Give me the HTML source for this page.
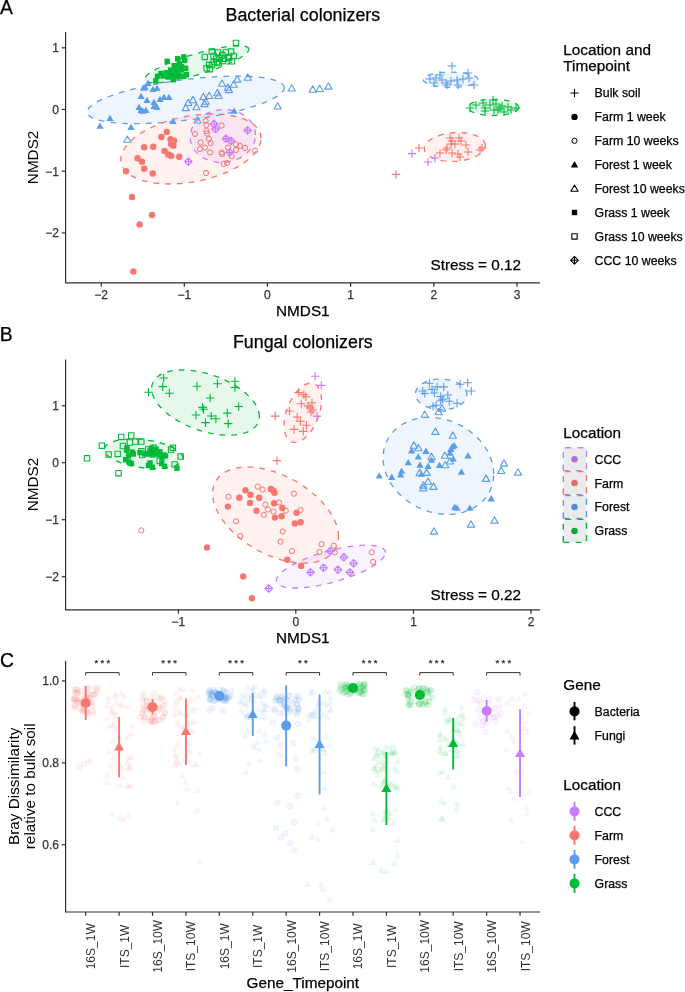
<!DOCTYPE html>
<html><head><meta charset="utf-8"><style>
html,body{margin:0;padding:0;background:#fff;}
svg{display:block;will-change:transform;font-family:"Liberation Sans",sans-serif;}
</style></head><body>
<svg width="685" height="992" viewBox="0 0 685 992">
<rect width="685" height="992" fill="#fff"/>
<path d="M284.43 87.8 L283.68 85.38 L281.45 83.18 L277.77 81.23 L272.69 79.56 L266.3 78.2 L258.69 77.18 L249.97 76.49 L240.28 76.16 L229.76 76.19 L218.58 76.58 L206.9 77.33 L194.9 78.41 L182.76 79.82 L170.67 81.54 L158.81 83.53 L147.36 85.78 L136.49 88.23 L126.36 90.86 L117.14 93.64 L108.96 96.5 L101.94 99.42 L96.2 102.34 L91.81 105.23 L88.85 108.03 L87.36 110.72 L87.36 113.24 L88.85 115.55 L91.81 117.63 L96.2 119.44 L101.94 120.96 L108.96 122.15 L117.14 123.01 L126.36 123.52 L136.49 123.67 L147.36 123.46 L158.81 122.89 L170.67 121.97 L182.76 120.72 L194.9 119.16 L206.9 117.3 L218.58 115.17 L229.76 112.82 L240.28 110.27 L249.97 107.56 L258.69 104.74 L266.3 101.85 L272.69 98.92 L277.77 96.01 L281.45 93.16 L283.68 90.41 L284.43 87.8Z" fill="#5B9DEA" fill-opacity="0.1"/>
<path d="M261.07 138.36 L260.54 134.34 L258.95 130.54 L256.33 127.02 L252.72 123.83 L248.18 121.03 L242.76 118.65 L236.56 116.73 L229.66 115.29 L222.18 114.37 L214.22 113.98 L205.91 114.11 L197.37 114.78 L188.74 115.96 L180.14 117.65 L171.7 119.81 L163.55 122.41 L155.81 125.41 L148.61 128.77 L142.05 132.44 L136.23 136.36 L131.24 140.47 L127.15 144.72 L124.03 149.02 L121.92 153.33 L120.86 157.57 L120.86 161.68 L121.92 165.59 L124.03 169.26 L127.15 172.62 L131.24 175.62 L136.23 178.22 L142.05 180.37 L148.61 182.05 L155.81 183.23 L163.55 183.89 L171.7 184.02 L180.14 183.62 L188.74 182.69 L197.37 181.26 L205.91 179.33 L214.22 176.95 L222.18 174.14 L229.66 170.95 L236.56 167.43 L242.76 163.62 L248.18 159.6 L252.72 155.42 L256.33 151.14 L258.95 146.82 L260.54 142.54 L261.07 138.36Z" fill="#F8766D" fill-opacity="0.1"/>
<path d="M248.99 49.23 L248.59 48.02 L247.41 47.04 L245.46 46.34 L242.77 45.9 L239.38 45.74 L235.34 45.86 L230.72 46.27 L225.58 46.94 L220.01 47.88 L214.08 49.07 L207.89 50.49 L201.52 52.12 L195.09 53.93 L188.68 55.9 L182.39 58 L176.32 60.19 L170.56 62.45 L165.19 64.73 L160.3 67.01 L155.96 69.24 L152.24 71.4 L149.2 73.46 L146.87 75.37 L145.3 77.12 L144.51 78.67 L144.51 80 L145.3 81.1 L146.87 81.94 L149.2 82.52 L152.24 82.82 L155.96 82.83 L160.3 82.57 L165.19 82.03 L170.56 81.22 L176.32 80.16 L182.39 78.85 L188.68 77.32 L195.09 75.6 L201.52 73.7 L207.89 71.67 L214.08 69.52 L220.01 67.29 L225.58 65.01 L230.72 62.73 L235.34 60.47 L239.38 58.27 L242.77 56.15 L245.46 54.17 L247.41 52.33 L248.59 50.68 L248.99 49.23Z" fill="#00BA38" fill-opacity="0.1"/>
<path d="M255.45 134.93 L255.2 131.69 L254.46 128.51 L253.24 125.45 L251.56 122.55 L249.45 119.85 L246.93 117.4 L244.04 115.23 L240.83 113.37 L237.35 111.85 L233.65 110.71 L229.78 109.94 L225.81 109.57 L221.79 109.6 L217.79 110.04 L213.87 110.86 L210.07 112.07 L206.48 113.64 L203.12 115.54 L200.07 117.76 L197.36 120.26 L195.04 122.99 L193.14 125.92 L191.69 129 L190.71 132.19 L190.21 135.44 L190.21 138.69 L190.71 141.91 L191.69 145.03 L193.14 148.02 L195.04 150.83 L197.36 153.41 L200.07 155.73 L203.12 157.74 L206.48 159.43 L210.07 160.77 L213.87 161.72 L217.79 162.29 L221.79 162.46 L225.81 162.23 L229.78 161.6 L233.65 160.58 L237.35 159.19 L240.83 157.45 L244.04 155.38 L246.93 153.02 L249.45 150.4 L251.56 147.57 L253.24 144.56 L254.46 141.41 L255.2 138.19 L255.45 134.93Z" fill="#C77CFF" fill-opacity="0.1"/>
<path d="M478 79.7 L477.79 78.77 L477.18 77.85 L476.16 76.95 L474.75 76.1 L472.98 75.31 L470.87 74.58 L468.46 73.93 L465.78 73.36 L462.87 72.9 L459.77 72.53 L456.54 72.28 L453.22 72.13 L449.86 72.1 L446.51 72.19 L443.23 72.39 L440.06 72.7 L437.05 73.12 L434.25 73.64 L431.7 74.24 L429.43 74.94 L427.49 75.7 L425.9 76.52 L424.68 77.4 L423.86 78.3 L423.45 79.23 L423.45 80.17 L423.86 81.1 L424.68 82 L425.9 82.88 L427.49 83.7 L429.43 84.46 L431.7 85.16 L434.25 85.76 L437.05 86.28 L440.06 86.7 L443.23 87.01 L446.51 87.21 L449.86 87.3 L453.22 87.27 L456.54 87.12 L459.77 86.87 L462.87 86.5 L465.78 86.04 L468.46 85.47 L470.87 84.82 L472.98 84.09 L474.75 83.3 L476.16 82.45 L477.18 81.55 L477.79 80.63 L478 79.7Z" fill="#5B9DEA" fill-opacity="0.1"/>
<path d="M518.8 107.4 L518.61 106.4 L518.03 105.42 L517.08 104.47 L515.78 103.57 L514.13 102.72 L512.17 101.94 L509.93 101.25 L507.43 100.65 L504.72 100.15 L501.84 99.76 L498.83 99.49 L495.74 99.33 L492.62 99.3 L489.5 99.4 L486.45 99.61 L483.5 99.94 L480.7 100.39 L478.09 100.94 L475.72 101.58 L473.61 102.32 L471.8 103.14 L470.32 104.01 L469.2 104.94 L468.43 105.91 L468.05 106.9 L468.05 107.9 L468.43 108.89 L469.2 109.86 L470.32 110.79 L471.8 111.66 L473.61 112.48 L475.72 113.22 L478.09 113.86 L480.7 114.41 L483.5 114.86 L486.45 115.19 L489.5 115.4 L492.62 115.5 L495.74 115.47 L498.83 115.31 L501.84 115.04 L504.72 114.65 L507.43 114.15 L509.93 113.55 L512.17 112.86 L514.13 112.08 L515.78 111.23 L517.08 110.33 L518.03 109.38 L518.61 108.4 L518.8 107.4Z" fill="#00BA38" fill-opacity="0.1"/>
<path d="M485.35 145.46 L485.12 143.71 L484.43 142.01 L483.29 140.39 L481.72 138.86 L479.73 137.47 L477.38 136.21 L474.68 135.12 L471.67 134.21 L468.42 133.49 L464.95 132.98 L461.34 132.68 L457.62 132.6 L453.86 132.73 L450.11 133.08 L446.44 133.65 L442.89 134.41 L439.52 135.37 L436.39 136.5 L433.53 137.79 L431 139.22 L428.83 140.77 L427.05 142.41 L425.69 144.13 L424.77 145.88 L424.31 147.66 L424.31 149.42 L424.77 151.15 L425.69 152.81 L427.05 154.39 L428.83 155.85 L431 157.18 L433.53 158.36 L436.39 159.36 L439.52 160.18 L442.89 160.79 L446.44 161.2 L450.11 161.39 L453.86 161.36 L457.62 161.12 L461.34 160.66 L464.95 160 L468.42 159.13 L471.67 158.09 L474.68 156.87 L477.38 155.51 L479.73 154.02 L481.72 152.42 L483.29 150.74 L484.43 149 L485.12 147.23 L485.35 145.46Z" fill="#F8766D" fill-opacity="0.1"/>
<path d="M284.43 87.8 L283.68 85.38 L281.45 83.18 L277.77 81.23 L272.69 79.56 L266.3 78.2 L258.69 77.18 L249.97 76.49 L240.28 76.16 L229.76 76.19 L218.58 76.58 L206.9 77.33 L194.9 78.41 L182.76 79.82 L170.67 81.54 L158.81 83.53 L147.36 85.78 L136.49 88.23 L126.36 90.86 L117.14 93.64 L108.96 96.5 L101.94 99.42 L96.2 102.34 L91.81 105.23 L88.85 108.03 L87.36 110.72 L87.36 113.24 L88.85 115.55 L91.81 117.63 L96.2 119.44 L101.94 120.96 L108.96 122.15 L117.14 123.01 L126.36 123.52 L136.49 123.67 L147.36 123.46 L158.81 122.89 L170.67 121.97 L182.76 120.72 L194.9 119.16 L206.9 117.3 L218.58 115.17 L229.76 112.82 L240.28 110.27 L249.97 107.56 L258.69 104.74 L266.3 101.85 L272.69 98.92 L277.77 96.01 L281.45 93.16 L283.68 90.41 L284.43 87.8" fill="none" stroke="#5B9DEA" stroke-width="1.3" stroke-dasharray="5.7 6.1" stroke-linejoin="round"/>
<path d="M261.07 138.36 L260.54 134.34 L258.95 130.54 L256.33 127.02 L252.72 123.83 L248.18 121.03 L242.76 118.65 L236.56 116.73 L229.66 115.29 L222.18 114.37 L214.22 113.98 L205.91 114.11 L197.37 114.78 L188.74 115.96 L180.14 117.65 L171.7 119.81 L163.55 122.41 L155.81 125.41 L148.61 128.77 L142.05 132.44 L136.23 136.36 L131.24 140.47 L127.15 144.72 L124.03 149.02 L121.92 153.33 L120.86 157.57 L120.86 161.68 L121.92 165.59 L124.03 169.26 L127.15 172.62 L131.24 175.62 L136.23 178.22 L142.05 180.37 L148.61 182.05 L155.81 183.23 L163.55 183.89 L171.7 184.02 L180.14 183.62 L188.74 182.69 L197.37 181.26 L205.91 179.33 L214.22 176.95 L222.18 174.14 L229.66 170.95 L236.56 167.43 L242.76 163.62 L248.18 159.6 L252.72 155.42 L256.33 151.14 L258.95 146.82 L260.54 142.54 L261.07 138.36" fill="none" stroke="#F8766D" stroke-width="1.3" stroke-dasharray="5.7 6.1" stroke-linejoin="round"/>
<path d="M248.99 49.23 L248.59 48.02 L247.41 47.04 L245.46 46.34 L242.77 45.9 L239.38 45.74 L235.34 45.86 L230.72 46.27 L225.58 46.94 L220.01 47.88 L214.08 49.07 L207.89 50.49 L201.52 52.12 L195.09 53.93 L188.68 55.9 L182.39 58 L176.32 60.19 L170.56 62.45 L165.19 64.73 L160.3 67.01 L155.96 69.24 L152.24 71.4 L149.2 73.46 L146.87 75.37 L145.3 77.12 L144.51 78.67 L144.51 80 L145.3 81.1 L146.87 81.94 L149.2 82.52 L152.24 82.82 L155.96 82.83 L160.3 82.57 L165.19 82.03 L170.56 81.22 L176.32 80.16 L182.39 78.85 L188.68 77.32 L195.09 75.6 L201.52 73.7 L207.89 71.67 L214.08 69.52 L220.01 67.29 L225.58 65.01 L230.72 62.73 L235.34 60.47 L239.38 58.27 L242.77 56.15 L245.46 54.17 L247.41 52.33 L248.59 50.68 L248.99 49.23" fill="none" stroke="#00BA38" stroke-width="1.3" stroke-dasharray="5.7 6.1" stroke-linejoin="round"/>
<path d="M255.45 134.93 L255.2 131.69 L254.46 128.51 L253.24 125.45 L251.56 122.55 L249.45 119.85 L246.93 117.4 L244.04 115.23 L240.83 113.37 L237.35 111.85 L233.65 110.71 L229.78 109.94 L225.81 109.57 L221.79 109.6 L217.79 110.04 L213.87 110.86 L210.07 112.07 L206.48 113.64 L203.12 115.54 L200.07 117.76 L197.36 120.26 L195.04 122.99 L193.14 125.92 L191.69 129 L190.71 132.19 L190.21 135.44 L190.21 138.69 L190.71 141.91 L191.69 145.03 L193.14 148.02 L195.04 150.83 L197.36 153.41 L200.07 155.73 L203.12 157.74 L206.48 159.43 L210.07 160.77 L213.87 161.72 L217.79 162.29 L221.79 162.46 L225.81 162.23 L229.78 161.6 L233.65 160.58 L237.35 159.19 L240.83 157.45 L244.04 155.38 L246.93 153.02 L249.45 150.4 L251.56 147.57 L253.24 144.56 L254.46 141.41 L255.2 138.19 L255.45 134.93" fill="none" stroke="#C77CFF" stroke-width="1.3" stroke-dasharray="5.7 6.1" stroke-linejoin="round"/>
<path d="M478 79.7 L477.79 78.77 L477.18 77.85 L476.16 76.95 L474.75 76.1 L472.98 75.31 L470.87 74.58 L468.46 73.93 L465.78 73.36 L462.87 72.9 L459.77 72.53 L456.54 72.28 L453.22 72.13 L449.86 72.1 L446.51 72.19 L443.23 72.39 L440.06 72.7 L437.05 73.12 L434.25 73.64 L431.7 74.24 L429.43 74.94 L427.49 75.7 L425.9 76.52 L424.68 77.4 L423.86 78.3 L423.45 79.23 L423.45 80.17 L423.86 81.1 L424.68 82 L425.9 82.88 L427.49 83.7 L429.43 84.46 L431.7 85.16 L434.25 85.76 L437.05 86.28 L440.06 86.7 L443.23 87.01 L446.51 87.21 L449.86 87.3 L453.22 87.27 L456.54 87.12 L459.77 86.87 L462.87 86.5 L465.78 86.04 L468.46 85.47 L470.87 84.82 L472.98 84.09 L474.75 83.3 L476.16 82.45 L477.18 81.55 L477.79 80.63 L478 79.7" fill="none" stroke="#5B9DEA" stroke-width="1.3" stroke-dasharray="5.7 6.1" stroke-linejoin="round"/>
<path d="M518.8 107.4 L518.61 106.4 L518.03 105.42 L517.08 104.47 L515.78 103.57 L514.13 102.72 L512.17 101.94 L509.93 101.25 L507.43 100.65 L504.72 100.15 L501.84 99.76 L498.83 99.49 L495.74 99.33 L492.62 99.3 L489.5 99.4 L486.45 99.61 L483.5 99.94 L480.7 100.39 L478.09 100.94 L475.72 101.58 L473.61 102.32 L471.8 103.14 L470.32 104.01 L469.2 104.94 L468.43 105.91 L468.05 106.9 L468.05 107.9 L468.43 108.89 L469.2 109.86 L470.32 110.79 L471.8 111.66 L473.61 112.48 L475.72 113.22 L478.09 113.86 L480.7 114.41 L483.5 114.86 L486.45 115.19 L489.5 115.4 L492.62 115.5 L495.74 115.47 L498.83 115.31 L501.84 115.04 L504.72 114.65 L507.43 114.15 L509.93 113.55 L512.17 112.86 L514.13 112.08 L515.78 111.23 L517.08 110.33 L518.03 109.38 L518.61 108.4 L518.8 107.4" fill="none" stroke="#00BA38" stroke-width="1.3" stroke-dasharray="5.7 6.1" stroke-linejoin="round"/>
<path d="M485.35 145.46 L485.12 143.71 L484.43 142.01 L483.29 140.39 L481.72 138.86 L479.73 137.47 L477.38 136.21 L474.68 135.12 L471.67 134.21 L468.42 133.49 L464.95 132.98 L461.34 132.68 L457.62 132.6 L453.86 132.73 L450.11 133.08 L446.44 133.65 L442.89 134.41 L439.52 135.37 L436.39 136.5 L433.53 137.79 L431 139.22 L428.83 140.77 L427.05 142.41 L425.69 144.13 L424.77 145.88 L424.31 147.66 L424.31 149.42 L424.77 151.15 L425.69 152.81 L427.05 154.39 L428.83 155.85 L431 157.18 L433.53 158.36 L436.39 159.36 L439.52 160.18 L442.89 160.79 L446.44 161.2 L450.11 161.39 L453.86 161.36 L457.62 161.12 L461.34 160.66 L464.95 160 L468.42 159.13 L471.67 158.09 L474.68 156.87 L477.38 155.51 L479.73 154.02 L481.72 152.42 L483.29 150.74 L484.43 149 L485.12 147.23 L485.35 145.46" fill="none" stroke="#F8766D" stroke-width="1.3" stroke-dasharray="5.7 6.1" stroke-linejoin="round"/>
<rect x="164.5" y="58.6" width="5.4" height="5.4" fill="#00BA38"/>
<rect x="175" y="56" width="5.4" height="5.4" fill="#00BA38"/>
<rect x="181.1" y="54.2" width="5.4" height="5.4" fill="#00BA38"/>
<rect x="182" y="57.7" width="5.4" height="5.4" fill="#00BA38"/>
<rect x="176.7" y="61.2" width="5.4" height="5.4" fill="#00BA38"/>
<rect x="171.5" y="63" width="5.4" height="5.4" fill="#00BA38"/>
<rect x="168" y="67.3" width="5.4" height="5.4" fill="#00BA38"/>
<rect x="163.6" y="70" width="5.4" height="5.4" fill="#00BA38"/>
<rect x="158.3" y="70.8" width="5.4" height="5.4" fill="#00BA38"/>
<rect x="154.8" y="73.5" width="5.4" height="5.4" fill="#00BA38"/>
<rect x="153.1" y="78.2" width="5.4" height="5.4" fill="#00BA38"/>
<rect x="173.2" y="68.2" width="5.4" height="5.4" fill="#00BA38"/>
<rect x="178.5" y="67.3" width="5.4" height="5.4" fill="#00BA38"/>
<rect x="182.9" y="65.6" width="5.4" height="5.4" fill="#00BA38"/>
<rect x="183.7" y="71.7" width="5.4" height="5.4" fill="#00BA38"/>
<rect x="180.2" y="73.5" width="5.4" height="5.4" fill="#00BA38"/>
<rect x="175" y="74.3" width="5.4" height="5.4" fill="#00BA38"/>
<rect x="170.6" y="77" width="5.4" height="5.4" fill="#00BA38"/>
<rect x="169.7" y="72.6" width="5.4" height="5.4" fill="#00BA38"/>
<rect x="165.3" y="74.3" width="5.4" height="5.4" fill="#00BA38"/>
<rect x="178.5" y="63.8" width="5.4" height="5.4" fill="#00BA38"/>
<rect x="175.3" y="70.3" width="5.4" height="5.4" fill="#00BA38"/>
<rect x="173.3" y="64.3" width="5.4" height="5.4" fill="#00BA38"/>
<rect x="167.3" y="71.3" width="5.4" height="5.4" fill="#00BA38"/>
<rect x="160.3" y="73.3" width="5.4" height="5.4" fill="#00BA38"/>
<rect x="233.3" y="40.2" width="5.4" height="5.4" fill="none" stroke="#00BA38" stroke-width="1.1" stroke-linejoin="round"/>
<rect x="202.1" y="54.2" width="5.4" height="5.4" fill="none" stroke="#00BA38" stroke-width="1.1" stroke-linejoin="round"/>
<rect x="209.1" y="48.9" width="5.4" height="5.4" fill="none" stroke="#00BA38" stroke-width="1.1" stroke-linejoin="round"/>
<rect x="210.9" y="53.3" width="5.4" height="5.4" fill="none" stroke="#00BA38" stroke-width="1.1" stroke-linejoin="round"/>
<rect x="215.3" y="49.8" width="5.4" height="5.4" fill="none" stroke="#00BA38" stroke-width="1.1" stroke-linejoin="round"/>
<rect x="219.6" y="52.4" width="5.4" height="5.4" fill="none" stroke="#00BA38" stroke-width="1.1" stroke-linejoin="round"/>
<rect x="223.1" y="49.8" width="5.4" height="5.4" fill="none" stroke="#00BA38" stroke-width="1.1" stroke-linejoin="round"/>
<rect x="228.4" y="48.9" width="5.4" height="5.4" fill="none" stroke="#00BA38" stroke-width="1.1" stroke-linejoin="round"/>
<rect x="231" y="53.3" width="5.4" height="5.4" fill="none" stroke="#00BA38" stroke-width="1.1" stroke-linejoin="round"/>
<rect x="225.8" y="54.2" width="5.4" height="5.4" fill="none" stroke="#00BA38" stroke-width="1.1" stroke-linejoin="round"/>
<rect x="221.4" y="56" width="5.4" height="5.4" fill="none" stroke="#00BA38" stroke-width="1.1" stroke-linejoin="round"/>
<rect x="217" y="55.1" width="5.4" height="5.4" fill="none" stroke="#00BA38" stroke-width="1.1" stroke-linejoin="round"/>
<rect x="210.9" y="59.5" width="5.4" height="5.4" fill="none" stroke="#00BA38" stroke-width="1.1" stroke-linejoin="round"/>
<rect x="216.1" y="60.3" width="5.4" height="5.4" fill="none" stroke="#00BA38" stroke-width="1.1" stroke-linejoin="round"/>
<rect x="229.3" y="58.6" width="5.4" height="5.4" fill="none" stroke="#00BA38" stroke-width="1.1" stroke-linejoin="round"/>
<rect x="203.9" y="65.6" width="5.4" height="5.4" fill="none" stroke="#00BA38" stroke-width="1.1" stroke-linejoin="round"/>
<rect x="207.3" y="66.5" width="5.4" height="5.4" fill="none" stroke="#00BA38" stroke-width="1.1" stroke-linejoin="round"/>
<rect x="206.5" y="62.1" width="5.4" height="5.4" fill="none" stroke="#00BA38" stroke-width="1.1" stroke-linejoin="round"/>
<rect x="213.5" y="56" width="5.4" height="5.4" fill="none" stroke="#00BA38" stroke-width="1.1" stroke-linejoin="round"/>
<rect x="226.3" y="55.3" width="5.4" height="5.4" fill="none" stroke="#00BA38" stroke-width="1.1" stroke-linejoin="round"/>
<rect x="220.3" y="58.3" width="5.4" height="5.4" fill="none" stroke="#00BA38" stroke-width="1.1" stroke-linejoin="round"/>
<rect x="214.3" y="59.3" width="5.4" height="5.4" fill="none" stroke="#00BA38" stroke-width="1.1" stroke-linejoin="round"/>
<rect x="209.3" y="62.3" width="5.4" height="5.4" fill="none" stroke="#00BA38" stroke-width="1.1" stroke-linejoin="round"/>
<polygon points="148,79.8 151.64,86.1 144.36,86.1" fill="#5B9DEA"/>
<polygon points="145,83.8 148.64,90.1 141.36,90.1" fill="#5B9DEA"/>
<polygon points="153,85.8 156.64,92.1 149.36,92.1" fill="#5B9DEA"/>
<polygon points="157,84.8 160.64,91.1 153.36,91.1" fill="#5B9DEA"/>
<polygon points="141,92.8 144.64,99.1 137.36,99.1" fill="#5B9DEA"/>
<polygon points="147,96.8 150.64,103.1 143.36,103.1" fill="#5B9DEA"/>
<polygon points="154,98.8 157.64,105.1 150.36,105.1" fill="#5B9DEA"/>
<polygon points="160,95.8 163.64,102.1 156.36,102.1" fill="#5B9DEA"/>
<polygon points="164,93.8 167.64,100.1 160.36,100.1" fill="#5B9DEA"/>
<polygon points="169,93.8 172.64,100.1 165.36,100.1" fill="#5B9DEA"/>
<polygon points="139,103.8 142.64,110.1 135.36,110.1" fill="#5B9DEA"/>
<polygon points="141,106.8 144.64,113.1 137.36,113.1" fill="#5B9DEA"/>
<polygon points="146,106.8 149.64,113.1 142.36,113.1" fill="#5B9DEA"/>
<polygon points="154,102.8 157.64,109.1 150.36,109.1" fill="#5B9DEA"/>
<polygon points="157,103.8 160.64,110.1 153.36,110.1" fill="#5B9DEA"/>
<polygon points="110,114.8 113.64,121.1 106.36,121.1" fill="#5B9DEA"/>
<polygon points="100,122.4 103.64,128.7 96.36,128.7" fill="#5B9DEA"/>
<polygon points="131,123.8 134.64,130.1 127.36,130.1" fill="#5B9DEA"/>
<polygon points="173,117.8 176.64,124.1 169.36,124.1" fill="#5B9DEA"/>
<polygon points="143.5,84.4 147.14,90.7 139.86,90.7" fill="#5B9DEA"/>
<polygon points="234.2,107.4 237.84,113.7 230.56,113.7" fill="#5B9DEA"/>
<polygon points="142.7,107.5 146.34,113.8 139.06,113.8" fill="#5B9DEA"/>
<polygon points="222,80 225.64,86.3 218.36,86.3" fill="none" stroke="#5B9DEA" stroke-width="1.1" stroke-linejoin="round"/>
<polygon points="227.9,84 231.54,90.3 224.26,90.3" fill="none" stroke="#5B9DEA" stroke-width="1.1" stroke-linejoin="round"/>
<polygon points="229,86.3 232.64,92.6 225.36,92.6" fill="none" stroke="#5B9DEA" stroke-width="1.1" stroke-linejoin="round"/>
<polygon points="233.7,81 237.34,87.3 230.06,87.3" fill="none" stroke="#5B9DEA" stroke-width="1.1" stroke-linejoin="round"/>
<polygon points="237.2,75.8 240.84,82.1 233.56,82.1" fill="none" stroke="#5B9DEA" stroke-width="1.1" stroke-linejoin="round"/>
<polygon points="247.8,73.9 251.44,80.2 244.16,80.2" fill="none" stroke="#5B9DEA" stroke-width="1.1" stroke-linejoin="round"/>
<polygon points="217.4,89.4 221.04,95.7 213.76,95.7" fill="none" stroke="#5B9DEA" stroke-width="1.1" stroke-linejoin="round"/>
<polygon points="218.6,92.2 222.24,98.5 214.96,98.5" fill="none" stroke="#5B9DEA" stroke-width="1.1" stroke-linejoin="round"/>
<polygon points="209.2,92.2 212.84,98.5 205.56,98.5" fill="none" stroke="#5B9DEA" stroke-width="1.1" stroke-linejoin="round"/>
<polygon points="203.4,93.3 207.04,99.6 199.76,99.6" fill="none" stroke="#5B9DEA" stroke-width="1.1" stroke-linejoin="round"/>
<polygon points="205.7,98 209.34,104.3 202.06,104.3" fill="none" stroke="#5B9DEA" stroke-width="1.1" stroke-linejoin="round"/>
<polygon points="204.5,100.3 208.14,106.6 200.86,106.6" fill="none" stroke="#5B9DEA" stroke-width="1.1" stroke-linejoin="round"/>
<polygon points="192.9,96.4 196.54,102.7 189.26,102.7" fill="none" stroke="#5B9DEA" stroke-width="1.1" stroke-linejoin="round"/>
<polygon points="188.2,99.2 191.84,105.5 184.56,105.5" fill="none" stroke="#5B9DEA" stroke-width="1.1" stroke-linejoin="round"/>
<polygon points="185.8,104.3 189.44,110.6 182.16,110.6" fill="none" stroke="#5B9DEA" stroke-width="1.1" stroke-linejoin="round"/>
<polygon points="196.4,103.4 200.04,109.7 192.76,109.7" fill="none" stroke="#5B9DEA" stroke-width="1.1" stroke-linejoin="round"/>
<polygon points="291.7,84.7 295.34,91 288.06,91" fill="none" stroke="#5B9DEA" stroke-width="1.1" stroke-linejoin="round"/>
<polygon points="312.7,85.9 316.34,92.2 309.06,92.2" fill="none" stroke="#5B9DEA" stroke-width="1.1" stroke-linejoin="round"/>
<polygon points="319.7,85.2 323.34,91.5 316.06,91.5" fill="none" stroke="#5B9DEA" stroke-width="1.1" stroke-linejoin="round"/>
<polygon points="328.4,82.8 332.04,89.1 324.76,89.1" fill="none" stroke="#5B9DEA" stroke-width="1.1" stroke-linejoin="round"/>
<polygon points="277.7,102.7 281.34,109 274.06,109" fill="none" stroke="#5B9DEA" stroke-width="1.1" stroke-linejoin="round"/>
<polygon points="197.5,116.7 201.14,123 193.86,123" fill="none" stroke="#5B9DEA" stroke-width="1.1" stroke-linejoin="round"/>
<polygon points="127.4,136 131.04,142.3 123.76,142.3" fill="none" stroke="#5B9DEA" stroke-width="1.1" stroke-linejoin="round"/>
<circle cx="166.8" cy="131.9" r="3.2" fill="#F8766D"/>
<circle cx="161.4" cy="137" r="3.2" fill="#F8766D"/>
<circle cx="170.5" cy="139.2" r="3.2" fill="#F8766D"/>
<circle cx="174.1" cy="140.7" r="3.2" fill="#F8766D"/>
<circle cx="171.2" cy="144.3" r="3.2" fill="#F8766D"/>
<circle cx="173.4" cy="145.8" r="3.2" fill="#F8766D"/>
<circle cx="144.2" cy="147.2" r="3.2" fill="#F8766D"/>
<circle cx="153.2" cy="146.8" r="3.2" fill="#F8766D"/>
<circle cx="164.6" cy="150.9" r="3.2" fill="#F8766D"/>
<circle cx="168.3" cy="154.5" r="3.2" fill="#F8766D"/>
<circle cx="171.2" cy="156" r="3.2" fill="#F8766D"/>
<circle cx="179.2" cy="156.7" r="3.2" fill="#F8766D"/>
<circle cx="137.6" cy="158.2" r="3.2" fill="#F8766D"/>
<circle cx="142" cy="161.8" r="3.2" fill="#F8766D"/>
<circle cx="144.2" cy="168.7" r="3.2" fill="#F8766D"/>
<circle cx="152.7" cy="173.5" r="3.2" fill="#F8766D"/>
<circle cx="126" cy="171.3" r="3.2" fill="#F8766D"/>
<circle cx="132" cy="197" r="3.2" fill="#F8766D"/>
<circle cx="152" cy="215" r="3.2" fill="#F8766D"/>
<circle cx="139.6" cy="224.4" r="3.2" fill="#F8766D"/>
<circle cx="133.4" cy="271.4" r="3.2" fill="#F8766D"/>
<circle cx="172" cy="142" r="3.2" fill="#F8766D"/>
<circle cx="205.6" cy="121" r="2.6" fill="none" stroke="#F8766D" stroke-width="1"/>
<circle cx="206.4" cy="125" r="2.6" fill="none" stroke="#F8766D" stroke-width="1"/>
<circle cx="221.6" cy="125.6" r="2.6" fill="none" stroke="#F8766D" stroke-width="1"/>
<circle cx="195" cy="134" r="2.6" fill="none" stroke="#F8766D" stroke-width="1"/>
<circle cx="206.4" cy="131" r="2.6" fill="none" stroke="#F8766D" stroke-width="1"/>
<circle cx="207" cy="133.6" r="2.6" fill="none" stroke="#F8766D" stroke-width="1"/>
<circle cx="209" cy="139" r="2.6" fill="none" stroke="#F8766D" stroke-width="1"/>
<circle cx="210.6" cy="143" r="2.6" fill="none" stroke="#F8766D" stroke-width="1"/>
<circle cx="200.6" cy="142.4" r="2.6" fill="none" stroke="#F8766D" stroke-width="1"/>
<circle cx="200" cy="149" r="2.6" fill="none" stroke="#F8766D" stroke-width="1"/>
<circle cx="205" cy="147.6" r="2.6" fill="none" stroke="#F8766D" stroke-width="1"/>
<circle cx="210" cy="152.4" r="2.6" fill="none" stroke="#F8766D" stroke-width="1"/>
<circle cx="221.6" cy="152.4" r="2.6" fill="none" stroke="#F8766D" stroke-width="1"/>
<circle cx="222" cy="154" r="2.6" fill="none" stroke="#F8766D" stroke-width="1"/>
<circle cx="228" cy="147.6" r="2.6" fill="none" stroke="#F8766D" stroke-width="1"/>
<circle cx="236" cy="144.4" r="2.6" fill="none" stroke="#F8766D" stroke-width="1"/>
<circle cx="240" cy="146" r="2.6" fill="none" stroke="#F8766D" stroke-width="1"/>
<circle cx="245" cy="148" r="2.6" fill="none" stroke="#F8766D" stroke-width="1"/>
<circle cx="236" cy="150" r="2.6" fill="none" stroke="#F8766D" stroke-width="1"/>
<circle cx="231.6" cy="156" r="2.6" fill="none" stroke="#F8766D" stroke-width="1"/>
<circle cx="255" cy="150.6" r="2.6" fill="none" stroke="#F8766D" stroke-width="1"/>
<circle cx="223.6" cy="164" r="2.6" fill="none" stroke="#F8766D" stroke-width="1"/>
<circle cx="227" cy="163" r="2.6" fill="none" stroke="#F8766D" stroke-width="1"/>
<circle cx="206" cy="173" r="2.6" fill="none" stroke="#F8766D" stroke-width="1"/>
<path d="M210.18 124L214 120.18L217.82 124L214 127.82ZM210.18 124H217.82M214 120.18V127.82" stroke="#C77CFF" stroke-width="1.1" stroke-linecap="round" stroke-linejoin="round" fill="none"/>
<path d="M211.78 129L215.6 125.18L219.42 129L215.6 132.82ZM211.78 129H219.42M215.6 125.18V132.82" stroke="#C77CFF" stroke-width="1.1" stroke-linecap="round" stroke-linejoin="round" fill="none"/>
<path d="M243.78 130.4L247.6 126.58L251.42 130.4L247.6 134.22ZM243.78 130.4H251.42M247.6 126.58V134.22" stroke="#C77CFF" stroke-width="1.1" stroke-linecap="round" stroke-linejoin="round" fill="none"/>
<path d="M222.18 138.6L226 134.78L229.82 138.6L226 142.42ZM222.18 138.6H229.82M226 134.78V142.42" stroke="#C77CFF" stroke-width="1.1" stroke-linecap="round" stroke-linejoin="round" fill="none"/>
<path d="M227.18 141L231 137.18L234.82 141L231 144.82ZM227.18 141H234.82M231 137.18V144.82" stroke="#C77CFF" stroke-width="1.1" stroke-linecap="round" stroke-linejoin="round" fill="none"/>
<path d="M225.78 152.4L229.6 148.58L233.42 152.4L229.6 156.22ZM225.78 152.4H233.42M229.6 148.58V156.22" stroke="#C77CFF" stroke-width="1.1" stroke-linecap="round" stroke-linejoin="round" fill="none"/>
<path d="M184.58 161.6L188.4 157.78L192.22 161.6L188.4 165.42ZM184.58 161.6H192.22M188.4 157.78V165.42" stroke="#C77CFF" stroke-width="1.1" stroke-linecap="round" stroke-linejoin="round" fill="none"/>
<path d="M448.18 66H455.82M452 62.18V69.82" stroke="#5B9DEA" stroke-width="1.1" stroke-linecap="round" fill="none"/>
<path d="M426.18 79H433.82M430 75.18V82.82" stroke="#5B9DEA" stroke-width="1.1" stroke-linecap="round" fill="none"/>
<path d="M436.18 75H443.82M440 71.18V78.82" stroke="#5B9DEA" stroke-width="1.1" stroke-linecap="round" fill="none"/>
<path d="M438.18 80H445.82M442 76.18V83.82" stroke="#5B9DEA" stroke-width="1.1" stroke-linecap="round" fill="none"/>
<path d="M442.18 83H449.82M446 79.18V86.82" stroke="#5B9DEA" stroke-width="1.1" stroke-linecap="round" fill="none"/>
<path d="M447.18 81H454.82M451 77.18V84.82" stroke="#5B9DEA" stroke-width="1.1" stroke-linecap="round" fill="none"/>
<path d="M453.18 80H460.82M457 76.18V83.82" stroke="#5B9DEA" stroke-width="1.1" stroke-linecap="round" fill="none"/>
<path d="M454.18 85H461.82M458 81.18V88.82" stroke="#5B9DEA" stroke-width="1.1" stroke-linecap="round" fill="none"/>
<path d="M464.18 73H471.82M468 69.18V76.82" stroke="#5B9DEA" stroke-width="1.1" stroke-linecap="round" fill="none"/>
<path d="M465.18 78H472.82M469 74.18V81.82" stroke="#5B9DEA" stroke-width="1.1" stroke-linecap="round" fill="none"/>
<path d="M470.18 85H477.82M474 81.18V88.82" stroke="#5B9DEA" stroke-width="1.1" stroke-linecap="round" fill="none"/>
<path d="M430.18 83H437.82M434 79.18V86.82" stroke="#5B9DEA" stroke-width="1.1" stroke-linecap="round" fill="none"/>
<path d="M443.18 85H450.82M447 81.18V88.82" stroke="#5B9DEA" stroke-width="1.1" stroke-linecap="round" fill="none"/>
<path d="M432.18 78H439.82M436 74.18V81.82" stroke="#5B9DEA" stroke-width="1.1" stroke-linecap="round" fill="none"/>
<path d="M459.18 79H466.82M463 75.18V82.82" stroke="#5B9DEA" stroke-width="1.1" stroke-linecap="round" fill="none"/>
<path d="M466.18 108H473.82M470 104.18V111.82" stroke="#00BA38" stroke-width="1.1" stroke-linecap="round" fill="none"/>
<path d="M472.18 105H479.82M476 101.18V108.82" stroke="#00BA38" stroke-width="1.1" stroke-linecap="round" fill="none"/>
<path d="M479.18 103H486.82M483 99.18V106.82" stroke="#00BA38" stroke-width="1.1" stroke-linecap="round" fill="none"/>
<path d="M481.18 108H488.82M485 104.18V111.82" stroke="#00BA38" stroke-width="1.1" stroke-linecap="round" fill="none"/>
<path d="M489.18 100H496.82M493 96.18V103.82" stroke="#00BA38" stroke-width="1.1" stroke-linecap="round" fill="none"/>
<path d="M492.18 104H499.82M496 100.18V107.82" stroke="#00BA38" stroke-width="1.1" stroke-linecap="round" fill="none"/>
<path d="M494.18 110H501.82M498 106.18V113.82" stroke="#00BA38" stroke-width="1.1" stroke-linecap="round" fill="none"/>
<path d="M498.18 106H505.82M502 102.18V109.82" stroke="#00BA38" stroke-width="1.1" stroke-linecap="round" fill="none"/>
<path d="M500.18 112H507.82M504 108.18V115.82" stroke="#00BA38" stroke-width="1.1" stroke-linecap="round" fill="none"/>
<path d="M504.18 107H511.82M508 103.18V110.82" stroke="#00BA38" stroke-width="1.1" stroke-linecap="round" fill="none"/>
<path d="M507.18 110H514.82M511 106.18V113.82" stroke="#00BA38" stroke-width="1.1" stroke-linecap="round" fill="none"/>
<path d="M512.18 108H519.82M516 104.18V111.82" stroke="#00BA38" stroke-width="1.1" stroke-linecap="round" fill="none"/>
<path d="M481.18 111H488.82M485 107.18V114.82" stroke="#00BA38" stroke-width="1.1" stroke-linecap="round" fill="none"/>
<path d="M490.18 110H497.82M494 106.18V113.82" stroke="#00BA38" stroke-width="1.1" stroke-linecap="round" fill="none"/>
<path d="M486.18 105H493.82M490 101.18V108.82" stroke="#00BA38" stroke-width="1.1" stroke-linecap="round" fill="none"/>
<path d="M496.18 108H503.82M500 104.18V111.82" stroke="#00BA38" stroke-width="1.1" stroke-linecap="round" fill="none"/>
<path d="M415.18 148H422.82M419 144.18V151.82" stroke="#F8766D" stroke-width="1.1" stroke-linecap="round" fill="none"/>
<path d="M446.18 138H453.82M450 134.18V141.82" stroke="#F8766D" stroke-width="1.1" stroke-linecap="round" fill="none"/>
<path d="M448.18 141H455.82M452 137.18V144.82" stroke="#F8766D" stroke-width="1.1" stroke-linecap="round" fill="none"/>
<path d="M455.18 138H462.82M459 134.18V141.82" stroke="#F8766D" stroke-width="1.1" stroke-linecap="round" fill="none"/>
<path d="M457.18 141H464.82M461 137.18V144.82" stroke="#F8766D" stroke-width="1.1" stroke-linecap="round" fill="none"/>
<path d="M462.18 145H469.82M466 141.18V148.82" stroke="#F8766D" stroke-width="1.1" stroke-linecap="round" fill="none"/>
<path d="M443.18 148H450.82M447 144.18V151.82" stroke="#F8766D" stroke-width="1.1" stroke-linecap="round" fill="none"/>
<path d="M442.18 150H449.82M446 146.18V153.82" stroke="#F8766D" stroke-width="1.1" stroke-linecap="round" fill="none"/>
<path d="M448.18 153H455.82M452 149.18V156.82" stroke="#F8766D" stroke-width="1.1" stroke-linecap="round" fill="none"/>
<path d="M454.18 154H461.82M458 150.18V157.82" stroke="#F8766D" stroke-width="1.1" stroke-linecap="round" fill="none"/>
<path d="M456.18 157H463.82M460 153.18V160.82" stroke="#F8766D" stroke-width="1.1" stroke-linecap="round" fill="none"/>
<path d="M464.18 152H471.82M468 148.18V155.82" stroke="#F8766D" stroke-width="1.1" stroke-linecap="round" fill="none"/>
<path d="M436.18 153H443.82M440 149.18V156.82" stroke="#F8766D" stroke-width="1.1" stroke-linecap="round" fill="none"/>
<path d="M476.18 150H483.82M480 146.18V153.82" stroke="#F8766D" stroke-width="1.1" stroke-linecap="round" fill="none"/>
<path d="M478.18 148H485.82M482 144.18V151.82" stroke="#F8766D" stroke-width="1.1" stroke-linecap="round" fill="none"/>
<path d="M447.18 144H454.82M451 140.18V147.82" stroke="#F8766D" stroke-width="1.1" stroke-linecap="round" fill="none"/>
<path d="M451.18 144H458.82M455 140.18V147.82" stroke="#F8766D" stroke-width="1.1" stroke-linecap="round" fill="none"/>
<path d="M392.18 174.4H399.82M396 170.58V178.22" stroke="#F8766D" stroke-width="1.1" stroke-linecap="round" fill="none"/>
<path d="M408.18 153.6H415.82M412 149.78V157.42" stroke="#C77CFF" stroke-width="1.1" stroke-linecap="round" fill="none"/>
<path d="M424.18 162H431.82M428 158.18V165.82" stroke="#C77CFF" stroke-width="1.1" stroke-linecap="round" fill="none"/>
<path d="M431.18 158H438.82M435 154.18V161.82" stroke="#C77CFF" stroke-width="1.1" stroke-linecap="round" fill="none"/>
<path d="M259.47 416.54 L259.06 412.8 L257.84 408.9 L255.83 404.91 L253.05 400.89 L249.55 396.89 L245.39 392.98 L240.62 389.21 L235.31 385.65 L229.56 382.34 L223.44 379.34 L217.05 376.69 L210.48 374.44 L203.84 372.61 L197.22 371.24 L190.73 370.34 L184.46 369.93 L178.51 370.02 L172.97 370.6 L167.93 371.67 L163.45 373.2 L159.61 375.18 L156.47 377.58 L154.07 380.36 L152.45 383.47 L151.63 386.87 L151.63 390.51 L152.45 394.34 L154.07 398.29 L156.47 402.3 L159.61 406.32 L163.45 410.28 L167.93 414.13 L172.97 417.8 L178.51 421.24 L184.46 424.4 L190.73 427.23 L197.22 429.68 L203.84 431.73 L210.48 433.33 L217.05 434.47 L223.44 435.12 L229.56 435.28 L235.31 434.95 L240.62 434.12 L245.39 432.82 L249.55 431.06 L253.05 428.87 L255.83 426.28 L257.84 423.33 L259.06 420.06 L259.47 416.54Z" fill="#00BA38" fill-opacity="0.1"/>
<path d="M321.51 400.08 L321.37 396.88 L320.95 393.91 L320.25 391.24 L319.28 388.89 L318.07 386.91 L316.63 385.31 L314.97 384.14 L313.14 383.39 L311.14 383.1 L309.02 383.25 L306.8 383.85 L304.53 384.89 L302.22 386.36 L299.93 388.22 L297.68 390.46 L295.51 393.04 L293.44 395.91 L291.52 399.04 L289.77 402.38 L288.22 405.88 L286.89 409.48 L285.8 413.14 L284.97 416.78 L284.41 420.37 L284.12 423.84 L284.12 427.15 L284.41 430.24 L284.97 433.06 L285.8 435.58 L286.89 437.75 L288.22 439.54 L289.77 440.93 L291.52 441.89 L293.44 442.41 L295.51 442.48 L297.68 442.1 L299.93 441.28 L302.22 440.03 L304.53 438.36 L306.8 436.3 L309.02 433.89 L311.14 431.16 L313.14 428.15 L314.97 424.91 L316.63 421.48 L318.07 417.93 L319.28 414.29 L320.25 410.64 L320.95 407.01 L321.37 403.47 L321.51 400.08Z" fill="#F8766D" fill-opacity="0.1"/>
<path d="M467 394.81 L466.8 392.92 L466.22 391.06 L465.25 389.25 L463.93 387.52 L462.25 385.89 L460.26 384.39 L457.98 383.04 L455.45 381.87 L452.7 380.88 L449.77 380.1 L446.72 379.54 L443.58 379.2 L440.41 379.09 L437.24 379.22 L434.14 379.57 L431.15 380.15 L428.3 380.94 L425.66 381.94 L423.24 383.13 L421.1 384.49 L419.27 386 L417.77 387.63 L416.62 389.37 L415.84 391.19 L415.45 393.05 L415.45 394.93 L415.84 396.81 L416.62 398.65 L417.77 400.42 L419.27 402.11 L421.1 403.68 L423.24 405.1 L425.66 406.37 L428.3 407.45 L431.15 408.33 L434.14 409.01 L437.24 409.46 L440.41 409.68 L443.58 409.68 L446.72 409.44 L449.77 408.97 L452.7 408.28 L455.45 407.38 L457.98 406.29 L460.26 405.01 L462.25 403.58 L463.93 402 L465.25 400.31 L466.22 398.53 L466.8 396.69 L467 394.81Z" fill="#5B9DEA" fill-opacity="0.1"/>
<path d="M182.92 458.2 L182.62 456.43 L181.73 454.63 L180.26 452.81 L178.24 451 L175.69 449.24 L172.66 447.55 L169.18 445.95 L165.32 444.48 L161.13 443.14 L156.67 441.96 L152.01 440.97 L147.23 440.17 L142.39 439.57 L137.57 439.19 L132.84 439.03 L128.27 439.1 L123.94 439.39 L119.9 439.9 L116.23 440.62 L112.97 441.53 L110.17 442.64 L107.88 443.91 L106.13 445.33 L104.95 446.89 L104.36 448.54 L104.36 450.28 L104.95 452.07 L106.13 453.88 L107.88 455.7 L110.17 457.48 L112.97 459.21 L116.23 460.86 L119.9 462.4 L123.94 463.81 L128.27 465.07 L132.84 466.16 L137.57 467.06 L142.39 467.76 L147.23 468.25 L152.01 468.51 L156.67 468.56 L161.13 468.38 L165.32 467.98 L169.18 467.37 L172.66 466.55 L175.69 465.54 L178.24 464.35 L180.26 462.99 L181.73 461.5 L182.62 459.9 L182.92 458.2Z" fill="#00BA38" fill-opacity="0.1"/>
<path d="M493.77 474.03 L493.35 468.09 L492.1 462.12 L490.03 456.21 L487.18 450.44 L483.59 444.91 L479.32 439.7 L474.42 434.88 L468.98 430.54 L463.08 426.72 L456.8 423.51 L450.25 420.93 L443.51 419.04 L436.69 417.86 L429.91 417.41 L423.25 417.69 L416.82 418.7 L410.72 420.43 L405.03 422.85 L399.86 425.92 L395.26 429.59 L391.32 433.82 L388.1 438.53 L385.64 443.66 L383.97 449.12 L383.14 454.84 L383.14 460.73 L383.97 466.69 L385.64 472.65 L388.1 478.5 L391.32 484.16 L395.26 489.54 L399.86 494.56 L405.03 499.15 L410.72 503.24 L416.82 506.76 L423.25 509.66 L429.91 511.9 L436.69 513.44 L443.51 514.26 L450.25 514.34 L456.8 513.7 L463.08 512.32 L468.98 510.25 L474.42 507.5 L479.32 504.12 L483.59 500.16 L487.18 495.68 L490.03 490.75 L492.1 485.45 L493.35 479.84 L493.77 474.03Z" fill="#5B9DEA" fill-opacity="0.1"/>
<path d="M338.62 536.64 L338.14 531.19 L336.72 525.5 L334.36 519.65 L331.12 513.73 L327.04 507.83 L322.17 502.04 L316.6 496.45 L310.41 491.14 L303.69 486.2 L296.55 481.69 L289.08 477.69 L281.41 474.26 L273.66 471.44 L265.93 469.29 L258.35 467.83 L251.04 467.09 L244.09 467.08 L237.62 467.79 L231.73 469.22 L226.5 471.35 L222.02 474.14 L218.35 477.55 L215.55 481.53 L213.65 486.02 L212.7 490.95 L212.7 496.25 L213.65 501.83 L215.55 507.61 L218.35 513.51 L222.02 519.43 L226.5 525.28 L231.73 530.98 L237.62 536.44 L244.09 541.58 L251.04 546.31 L258.35 550.58 L265.93 554.3 L273.66 557.43 L281.41 559.92 L289.08 561.73 L296.55 562.83 L303.69 563.21 L310.41 562.86 L316.6 561.78 L322.17 560 L327.04 557.53 L331.12 554.43 L334.36 550.73 L336.72 546.48 L338.14 541.76 L338.62 536.64Z" fill="#F8766D" fill-opacity="0.1"/>
<path d="M385.48 552.62 L385.07 550.73 L383.83 549.08 L381.8 547.69 L378.99 546.6 L375.45 545.8 L371.24 545.32 L366.41 545.16 L361.05 545.33 L355.23 545.82 L349.04 546.63 L342.58 547.73 L335.94 549.13 L329.22 550.79 L322.53 552.68 L315.96 554.79 L309.62 557.08 L303.61 559.52 L298.01 562.06 L292.9 564.66 L288.38 567.3 L284.49 569.93 L281.31 572.51 L278.89 574.99 L277.25 577.35 L276.42 579.55 L276.42 581.55 L277.25 583.33 L278.89 584.85 L281.31 586.09 L284.49 587.04 L288.38 587.68 L292.9 588 L298.01 587.99 L303.61 587.66 L309.62 587.01 L315.96 586.06 L322.53 584.8 L329.22 583.27 L335.94 581.49 L342.58 579.48 L349.04 577.28 L355.23 574.92 L361.05 572.43 L366.41 569.85 L371.24 567.22 L375.45 564.58 L378.99 561.97 L381.8 559.44 L383.83 557.01 L385.07 554.72 L385.48 552.62Z" fill="#C77CFF" fill-opacity="0.1"/>
<path d="M259.47 416.54 L259.06 412.8 L257.84 408.9 L255.83 404.91 L253.05 400.89 L249.55 396.89 L245.39 392.98 L240.62 389.21 L235.31 385.65 L229.56 382.34 L223.44 379.34 L217.05 376.69 L210.48 374.44 L203.84 372.61 L197.22 371.24 L190.73 370.34 L184.46 369.93 L178.51 370.02 L172.97 370.6 L167.93 371.67 L163.45 373.2 L159.61 375.18 L156.47 377.58 L154.07 380.36 L152.45 383.47 L151.63 386.87 L151.63 390.51 L152.45 394.34 L154.07 398.29 L156.47 402.3 L159.61 406.32 L163.45 410.28 L167.93 414.13 L172.97 417.8 L178.51 421.24 L184.46 424.4 L190.73 427.23 L197.22 429.68 L203.84 431.73 L210.48 433.33 L217.05 434.47 L223.44 435.12 L229.56 435.28 L235.31 434.95 L240.62 434.12 L245.39 432.82 L249.55 431.06 L253.05 428.87 L255.83 426.28 L257.84 423.33 L259.06 420.06 L259.47 416.54" fill="none" stroke="#00BA38" stroke-width="1.3" stroke-dasharray="5.7 6.1" stroke-linejoin="round"/>
<path d="M321.51 400.08 L321.37 396.88 L320.95 393.91 L320.25 391.24 L319.28 388.89 L318.07 386.91 L316.63 385.31 L314.97 384.14 L313.14 383.39 L311.14 383.1 L309.02 383.25 L306.8 383.85 L304.53 384.89 L302.22 386.36 L299.93 388.22 L297.68 390.46 L295.51 393.04 L293.44 395.91 L291.52 399.04 L289.77 402.38 L288.22 405.88 L286.89 409.48 L285.8 413.14 L284.97 416.78 L284.41 420.37 L284.12 423.84 L284.12 427.15 L284.41 430.24 L284.97 433.06 L285.8 435.58 L286.89 437.75 L288.22 439.54 L289.77 440.93 L291.52 441.89 L293.44 442.41 L295.51 442.48 L297.68 442.1 L299.93 441.28 L302.22 440.03 L304.53 438.36 L306.8 436.3 L309.02 433.89 L311.14 431.16 L313.14 428.15 L314.97 424.91 L316.63 421.48 L318.07 417.93 L319.28 414.29 L320.25 410.64 L320.95 407.01 L321.37 403.47 L321.51 400.08" fill="none" stroke="#F8766D" stroke-width="1.3" stroke-dasharray="5.7 6.1" stroke-linejoin="round"/>
<path d="M467 394.81 L466.8 392.92 L466.22 391.06 L465.25 389.25 L463.93 387.52 L462.25 385.89 L460.26 384.39 L457.98 383.04 L455.45 381.87 L452.7 380.88 L449.77 380.1 L446.72 379.54 L443.58 379.2 L440.41 379.09 L437.24 379.22 L434.14 379.57 L431.15 380.15 L428.3 380.94 L425.66 381.94 L423.24 383.13 L421.1 384.49 L419.27 386 L417.77 387.63 L416.62 389.37 L415.84 391.19 L415.45 393.05 L415.45 394.93 L415.84 396.81 L416.62 398.65 L417.77 400.42 L419.27 402.11 L421.1 403.68 L423.24 405.1 L425.66 406.37 L428.3 407.45 L431.15 408.33 L434.14 409.01 L437.24 409.46 L440.41 409.68 L443.58 409.68 L446.72 409.44 L449.77 408.97 L452.7 408.28 L455.45 407.38 L457.98 406.29 L460.26 405.01 L462.25 403.58 L463.93 402 L465.25 400.31 L466.22 398.53 L466.8 396.69 L467 394.81" fill="none" stroke="#5B9DEA" stroke-width="1.3" stroke-dasharray="5.7 6.1" stroke-linejoin="round"/>
<path d="M182.92 458.2 L182.62 456.43 L181.73 454.63 L180.26 452.81 L178.24 451 L175.69 449.24 L172.66 447.55 L169.18 445.95 L165.32 444.48 L161.13 443.14 L156.67 441.96 L152.01 440.97 L147.23 440.17 L142.39 439.57 L137.57 439.19 L132.84 439.03 L128.27 439.1 L123.94 439.39 L119.9 439.9 L116.23 440.62 L112.97 441.53 L110.17 442.64 L107.88 443.91 L106.13 445.33 L104.95 446.89 L104.36 448.54 L104.36 450.28 L104.95 452.07 L106.13 453.88 L107.88 455.7 L110.17 457.48 L112.97 459.21 L116.23 460.86 L119.9 462.4 L123.94 463.81 L128.27 465.07 L132.84 466.16 L137.57 467.06 L142.39 467.76 L147.23 468.25 L152.01 468.51 L156.67 468.56 L161.13 468.38 L165.32 467.98 L169.18 467.37 L172.66 466.55 L175.69 465.54 L178.24 464.35 L180.26 462.99 L181.73 461.5 L182.62 459.9 L182.92 458.2" fill="none" stroke="#00BA38" stroke-width="1.3" stroke-dasharray="5.7 6.1" stroke-linejoin="round"/>
<path d="M493.77 474.03 L493.35 468.09 L492.1 462.12 L490.03 456.21 L487.18 450.44 L483.59 444.91 L479.32 439.7 L474.42 434.88 L468.98 430.54 L463.08 426.72 L456.8 423.51 L450.25 420.93 L443.51 419.04 L436.69 417.86 L429.91 417.41 L423.25 417.69 L416.82 418.7 L410.72 420.43 L405.03 422.85 L399.86 425.92 L395.26 429.59 L391.32 433.82 L388.1 438.53 L385.64 443.66 L383.97 449.12 L383.14 454.84 L383.14 460.73 L383.97 466.69 L385.64 472.65 L388.1 478.5 L391.32 484.16 L395.26 489.54 L399.86 494.56 L405.03 499.15 L410.72 503.24 L416.82 506.76 L423.25 509.66 L429.91 511.9 L436.69 513.44 L443.51 514.26 L450.25 514.34 L456.8 513.7 L463.08 512.32 L468.98 510.25 L474.42 507.5 L479.32 504.12 L483.59 500.16 L487.18 495.68 L490.03 490.75 L492.1 485.45 L493.35 479.84 L493.77 474.03" fill="none" stroke="#5B9DEA" stroke-width="1.3" stroke-dasharray="5.7 6.1" stroke-linejoin="round"/>
<path d="M338.62 536.64 L338.14 531.19 L336.72 525.5 L334.36 519.65 L331.12 513.73 L327.04 507.83 L322.17 502.04 L316.6 496.45 L310.41 491.14 L303.69 486.2 L296.55 481.69 L289.08 477.69 L281.41 474.26 L273.66 471.44 L265.93 469.29 L258.35 467.83 L251.04 467.09 L244.09 467.08 L237.62 467.79 L231.73 469.22 L226.5 471.35 L222.02 474.14 L218.35 477.55 L215.55 481.53 L213.65 486.02 L212.7 490.95 L212.7 496.25 L213.65 501.83 L215.55 507.61 L218.35 513.51 L222.02 519.43 L226.5 525.28 L231.73 530.98 L237.62 536.44 L244.09 541.58 L251.04 546.31 L258.35 550.58 L265.93 554.3 L273.66 557.43 L281.41 559.92 L289.08 561.73 L296.55 562.83 L303.69 563.21 L310.41 562.86 L316.6 561.78 L322.17 560 L327.04 557.53 L331.12 554.43 L334.36 550.73 L336.72 546.48 L338.14 541.76 L338.62 536.64" fill="none" stroke="#F8766D" stroke-width="1.3" stroke-dasharray="5.7 6.1" stroke-linejoin="round"/>
<path d="M385.48 552.62 L385.07 550.73 L383.83 549.08 L381.8 547.69 L378.99 546.6 L375.45 545.8 L371.24 545.32 L366.41 545.16 L361.05 545.33 L355.23 545.82 L349.04 546.63 L342.58 547.73 L335.94 549.13 L329.22 550.79 L322.53 552.68 L315.96 554.79 L309.62 557.08 L303.61 559.52 L298.01 562.06 L292.9 564.66 L288.38 567.3 L284.49 569.93 L281.31 572.51 L278.89 574.99 L277.25 577.35 L276.42 579.55 L276.42 581.55 L277.25 583.33 L278.89 584.85 L281.31 586.09 L284.49 587.04 L288.38 587.68 L292.9 588 L298.01 587.99 L303.61 587.66 L309.62 587.01 L315.96 586.06 L322.53 584.8 L329.22 583.27 L335.94 581.49 L342.58 579.48 L349.04 577.28 L355.23 574.92 L361.05 572.43 L366.41 569.85 L371.24 567.22 L375.45 564.58 L378.99 561.97 L381.8 559.44 L383.83 557.01 L385.07 554.72 L385.48 552.62" fill="none" stroke="#C77CFF" stroke-width="1.3" stroke-dasharray="5.7 6.1" stroke-linejoin="round"/>
<rect x="123.9" y="447.5" width="5.4" height="5.4" fill="#00BA38"/>
<rect x="129.6" y="449.4" width="5.4" height="5.4" fill="#00BA38"/>
<rect x="125.8" y="453.2" width="5.4" height="5.4" fill="#00BA38"/>
<rect x="123" y="457" width="5.4" height="5.4" fill="#00BA38"/>
<rect x="128.7" y="460.8" width="5.4" height="5.4" fill="#00BA38"/>
<rect x="130.6" y="451.3" width="5.4" height="5.4" fill="#00BA38"/>
<rect x="124.3" y="445.3" width="5.4" height="5.4" fill="#00BA38"/>
<rect x="126.3" y="459.3" width="5.4" height="5.4" fill="#00BA38"/>
<rect x="137.2" y="449.9" width="5.4" height="5.4" fill="#00BA38"/>
<rect x="148.6" y="445.6" width="5.4" height="5.4" fill="#00BA38"/>
<rect x="153.3" y="446.5" width="5.4" height="5.4" fill="#00BA38"/>
<rect x="145.8" y="451.3" width="5.4" height="5.4" fill="#00BA38"/>
<rect x="149.6" y="452.2" width="5.4" height="5.4" fill="#00BA38"/>
<rect x="155.3" y="452.2" width="5.4" height="5.4" fill="#00BA38"/>
<rect x="160.9" y="452.2" width="5.4" height="5.4" fill="#00BA38"/>
<rect x="162.8" y="453.2" width="5.4" height="5.4" fill="#00BA38"/>
<rect x="145.8" y="462.7" width="5.4" height="5.4" fill="#00BA38"/>
<rect x="149.6" y="464.6" width="5.4" height="5.4" fill="#00BA38"/>
<rect x="159" y="460.8" width="5.4" height="5.4" fill="#00BA38"/>
<rect x="161.9" y="463.6" width="5.4" height="5.4" fill="#00BA38"/>
<rect x="142" y="451.3" width="5.4" height="5.4" fill="#00BA38"/>
<rect x="151.3" y="449.3" width="5.4" height="5.4" fill="#00BA38"/>
<rect x="157.3" y="449.3" width="5.4" height="5.4" fill="#00BA38"/>
<rect x="147.3" y="448.3" width="5.4" height="5.4" fill="#00BA38"/>
<rect x="159.3" y="455.3" width="5.4" height="5.4" fill="#00BA38"/>
<rect x="147.3" y="460.3" width="5.4" height="5.4" fill="#00BA38"/>
<rect x="174.2" y="465.5" width="5.4" height="5.4" fill="#00BA38"/>
<rect x="84.3" y="455.6" width="5.4" height="5.4" fill="none" stroke="#00BA38" stroke-width="1.1" stroke-linejoin="round"/>
<rect x="99.2" y="443" width="5.4" height="5.4" fill="none" stroke="#00BA38" stroke-width="1.1" stroke-linejoin="round"/>
<rect x="105.9" y="451.7" width="5.4" height="5.4" fill="none" stroke="#00BA38" stroke-width="1.1" stroke-linejoin="round"/>
<rect x="115" y="451.2" width="5.4" height="5.4" fill="none" stroke="#00BA38" stroke-width="1.1" stroke-linejoin="round"/>
<rect x="118.5" y="434.2" width="5.4" height="5.4" fill="none" stroke="#00BA38" stroke-width="1.1" stroke-linejoin="round"/>
<rect x="128.5" y="432.8" width="5.4" height="5.4" fill="none" stroke="#00BA38" stroke-width="1.1" stroke-linejoin="round"/>
<rect x="120.2" y="443.3" width="5.4" height="5.4" fill="none" stroke="#00BA38" stroke-width="1.1" stroke-linejoin="round"/>
<rect x="127.2" y="439.8" width="5.4" height="5.4" fill="none" stroke="#00BA38" stroke-width="1.1" stroke-linejoin="round"/>
<rect x="132.5" y="438.9" width="5.4" height="5.4" fill="none" stroke="#00BA38" stroke-width="1.1" stroke-linejoin="round"/>
<rect x="138.6" y="438.9" width="5.4" height="5.4" fill="none" stroke="#00BA38" stroke-width="1.1" stroke-linejoin="round"/>
<rect x="138.6" y="448.6" width="5.4" height="5.4" fill="none" stroke="#00BA38" stroke-width="1.1" stroke-linejoin="round"/>
<rect x="139.5" y="452.4" width="5.4" height="5.4" fill="none" stroke="#00BA38" stroke-width="1.1" stroke-linejoin="round"/>
<rect x="145.6" y="446.8" width="5.4" height="5.4" fill="none" stroke="#00BA38" stroke-width="1.1" stroke-linejoin="round"/>
<rect x="150.9" y="445.1" width="5.4" height="5.4" fill="none" stroke="#00BA38" stroke-width="1.1" stroke-linejoin="round"/>
<rect x="157" y="458.2" width="5.4" height="5.4" fill="none" stroke="#00BA38" stroke-width="1.1" stroke-linejoin="round"/>
<rect x="168.4" y="446.8" width="5.4" height="5.4" fill="none" stroke="#00BA38" stroke-width="1.1" stroke-linejoin="round"/>
<rect x="170.2" y="445.1" width="5.4" height="5.4" fill="none" stroke="#00BA38" stroke-width="1.1" stroke-linejoin="round"/>
<rect x="178" y="453.8" width="5.4" height="5.4" fill="none" stroke="#00BA38" stroke-width="1.1" stroke-linejoin="round"/>
<rect x="171.9" y="461.7" width="5.4" height="5.4" fill="none" stroke="#00BA38" stroke-width="1.1" stroke-linejoin="round"/>
<rect x="115.8" y="470.5" width="5.4" height="5.4" fill="none" stroke="#00BA38" stroke-width="1.1" stroke-linejoin="round"/>
<rect x="155.3" y="449.5" width="5.4" height="5.4" fill="none" stroke="#00BA38" stroke-width="1.1" stroke-linejoin="round"/>
<polygon points="411.6,447.2 415.24,453.5 407.96,453.5" fill="#5B9DEA"/>
<polygon points="425.9,447.6 429.54,453.9 422.26,453.9" fill="#5B9DEA"/>
<polygon points="418.3,453.3 421.94,459.6 414.66,459.6" fill="#5B9DEA"/>
<polygon points="408.2,459 411.84,465.3 404.56,465.3" fill="#5B9DEA"/>
<polygon points="420,461.5 423.64,467.8 416.36,467.8" fill="#5B9DEA"/>
<polygon points="428.1,462.8 431.74,469.1 424.46,469.1" fill="#5B9DEA"/>
<polygon points="439.5,461.8 443.14,468.1 435.86,468.1" fill="#5B9DEA"/>
<polygon points="431.6,456.5 435.24,462.8 427.96,462.8" fill="#5B9DEA"/>
<polygon points="452.4,442.9 456.04,449.2 448.76,449.2" fill="#5B9DEA"/>
<polygon points="454.3,441.9 457.94,448.2 450.66,448.2" fill="#5B9DEA"/>
<polygon points="450.9,445.7 454.54,452 447.26,452" fill="#5B9DEA"/>
<polygon points="450,449.5 453.64,455.8 446.36,455.8" fill="#5B9DEA"/>
<polygon points="453.2,455.2 456.84,461.5 449.56,461.5" fill="#5B9DEA"/>
<polygon points="468,452.3 471.64,458.6 464.36,458.6" fill="#5B9DEA"/>
<polygon points="461.4,468.5 465.04,474.8 457.76,474.8" fill="#5B9DEA"/>
<polygon points="401.6,467.5 405.24,473.8 397.96,473.8" fill="#5B9DEA"/>
<polygon points="400.6,471.3 404.24,477.6 396.96,477.6" fill="#5B9DEA"/>
<polygon points="391.7,473.6 395.34,479.9 388.06,479.9" fill="#5B9DEA"/>
<polygon points="379.2,472.3 382.84,478.6 375.56,478.6" fill="#5B9DEA"/>
<polygon points="421.5,470.4 425.14,476.7 417.86,476.7" fill="#5B9DEA"/>
<polygon points="454.7,503.6 458.34,509.9 451.06,509.9" fill="#5B9DEA"/>
<polygon points="457,504.5 460.64,510.8 453.36,510.8" fill="#5B9DEA"/>
<polygon points="469.9,504.5 473.54,510.8 466.26,510.8" fill="#5B9DEA"/>
<polygon points="491.2,495.1 494.84,501.4 487.56,501.4" fill="#5B9DEA"/>
<polygon points="424.7,411 428.34,417.3 421.06,417.3" fill="none" stroke="#5B9DEA" stroke-width="1.1" stroke-linejoin="round"/>
<polygon points="435.4,428.1 439.04,434.4 431.76,434.4" fill="none" stroke="#5B9DEA" stroke-width="1.1" stroke-linejoin="round"/>
<polygon points="452.8,431.9 456.44,438.2 449.16,438.2" fill="none" stroke="#5B9DEA" stroke-width="1.1" stroke-linejoin="round"/>
<polygon points="413.9,441.9 417.54,448.2 410.26,448.2" fill="none" stroke="#5B9DEA" stroke-width="1.1" stroke-linejoin="round"/>
<polygon points="418.3,444.4 421.94,450.7 414.66,450.7" fill="none" stroke="#5B9DEA" stroke-width="1.1" stroke-linejoin="round"/>
<polygon points="431.6,453.3 435.24,459.6 427.96,459.6" fill="none" stroke="#5B9DEA" stroke-width="1.1" stroke-linejoin="round"/>
<polygon points="444.8,452 448.44,458.3 441.16,458.3" fill="none" stroke="#5B9DEA" stroke-width="1.1" stroke-linejoin="round"/>
<polygon points="450,457.7 453.64,464 446.36,464" fill="none" stroke="#5B9DEA" stroke-width="1.1" stroke-linejoin="round"/>
<polygon points="445.2,461.5 448.84,467.8 441.56,467.8" fill="none" stroke="#5B9DEA" stroke-width="1.1" stroke-linejoin="round"/>
<polygon points="419.6,469.4 423.24,475.7 415.96,475.7" fill="none" stroke="#5B9DEA" stroke-width="1.1" stroke-linejoin="round"/>
<polygon points="426.6,469.1 430.24,475.4 422.96,475.4" fill="none" stroke="#5B9DEA" stroke-width="1.1" stroke-linejoin="round"/>
<polygon points="428.1,478 431.74,484.3 424.46,484.3" fill="none" stroke="#5B9DEA" stroke-width="1.1" stroke-linejoin="round"/>
<polygon points="423.4,481.8 427.04,488.1 419.76,488.1" fill="none" stroke="#5B9DEA" stroke-width="1.1" stroke-linejoin="round"/>
<polygon points="423.4,484.6 427.04,490.9 419.76,490.9" fill="none" stroke="#5B9DEA" stroke-width="1.1" stroke-linejoin="round"/>
<polygon points="433.5,483.1 437.14,489.4 429.86,489.4" fill="none" stroke="#5B9DEA" stroke-width="1.1" stroke-linejoin="round"/>
<polygon points="486,475.1 489.64,481.4 482.36,481.4" fill="none" stroke="#5B9DEA" stroke-width="1.1" stroke-linejoin="round"/>
<polygon points="501.2,467.2 504.84,473.5 497.56,473.5" fill="none" stroke="#5B9DEA" stroke-width="1.1" stroke-linejoin="round"/>
<polygon points="438.5,408.4 442.14,414.7 434.86,414.7" fill="none" stroke="#5B9DEA" stroke-width="1.1" stroke-linejoin="round"/>
<polygon points="442,404.8 445.64,411.1 438.36,411.1" fill="none" stroke="#5B9DEA" stroke-width="1.1" stroke-linejoin="round"/>
<polygon points="504,459.8 507.64,466.1 500.36,466.1" fill="none" stroke="#5B9DEA" stroke-width="1.1" stroke-linejoin="round"/>
<polygon points="518,468.8 521.64,475.1 514.36,475.1" fill="none" stroke="#5B9DEA" stroke-width="1.1" stroke-linejoin="round"/>
<polygon points="471,520.8 474.64,527.1 467.36,527.1" fill="none" stroke="#5B9DEA" stroke-width="1.1" stroke-linejoin="round"/>
<polygon points="494.5,516.8 498.14,523.1 490.86,523.1" fill="none" stroke="#5B9DEA" stroke-width="1.1" stroke-linejoin="round"/>
<polygon points="434,527.8 437.64,534.1 430.36,534.1" fill="none" stroke="#5B9DEA" stroke-width="1.1" stroke-linejoin="round"/>
<circle cx="245.5" cy="490.2" r="3.2" fill="#F8766D"/>
<circle cx="250.4" cy="494.7" r="3.2" fill="#F8766D"/>
<circle cx="239.3" cy="497.8" r="3.2" fill="#F8766D"/>
<circle cx="227.9" cy="506.6" r="3.2" fill="#F8766D"/>
<circle cx="250" cy="502.9" r="3.2" fill="#F8766D"/>
<circle cx="259.2" cy="497.8" r="3.2" fill="#F8766D"/>
<circle cx="256.5" cy="510.7" r="3.2" fill="#F8766D"/>
<circle cx="270.8" cy="489" r="3.2" fill="#F8766D"/>
<circle cx="273.5" cy="490.7" r="3.2" fill="#F8766D"/>
<circle cx="274.5" cy="492.7" r="3.2" fill="#F8766D"/>
<circle cx="274.1" cy="503.3" r="3.2" fill="#F8766D"/>
<circle cx="282.3" cy="508" r="3.2" fill="#F8766D"/>
<circle cx="274.9" cy="517.6" r="3.2" fill="#F8766D"/>
<circle cx="281.6" cy="516.2" r="3.2" fill="#F8766D"/>
<circle cx="296.6" cy="512.7" r="3.2" fill="#F8766D"/>
<circle cx="294.9" cy="523.4" r="3.2" fill="#F8766D"/>
<circle cx="300.6" cy="522.3" r="3.2" fill="#F8766D"/>
<circle cx="287.2" cy="559.7" r="3.2" fill="#F8766D"/>
<circle cx="301.1" cy="565.9" r="3.2" fill="#F8766D"/>
<circle cx="207" cy="547.5" r="3.2" fill="#F8766D"/>
<circle cx="243.2" cy="576.4" r="3.2" fill="#F8766D"/>
<circle cx="251.9" cy="598.2" r="3.2" fill="#F8766D"/>
<circle cx="257.7" cy="486.6" r="2.6" fill="none" stroke="#F8766D" stroke-width="1"/>
<circle cx="262.6" cy="489.6" r="2.6" fill="none" stroke="#F8766D" stroke-width="1"/>
<circle cx="228.5" cy="496.8" r="2.6" fill="none" stroke="#F8766D" stroke-width="1"/>
<circle cx="293.9" cy="493.7" r="2.6" fill="none" stroke="#F8766D" stroke-width="1"/>
<circle cx="265.3" cy="504.6" r="2.6" fill="none" stroke="#F8766D" stroke-width="1"/>
<circle cx="267.9" cy="509.5" r="2.6" fill="none" stroke="#F8766D" stroke-width="1"/>
<circle cx="273.5" cy="511.5" r="2.6" fill="none" stroke="#F8766D" stroke-width="1"/>
<circle cx="279" cy="502.5" r="2.6" fill="none" stroke="#F8766D" stroke-width="1"/>
<circle cx="285.7" cy="510.7" r="2.6" fill="none" stroke="#F8766D" stroke-width="1"/>
<circle cx="263.9" cy="514.8" r="2.6" fill="none" stroke="#F8766D" stroke-width="1"/>
<circle cx="300.6" cy="510.1" r="2.6" fill="none" stroke="#F8766D" stroke-width="1"/>
<circle cx="236.1" cy="521.3" r="2.6" fill="none" stroke="#F8766D" stroke-width="1"/>
<circle cx="240.2" cy="536" r="2.6" fill="none" stroke="#F8766D" stroke-width="1"/>
<circle cx="282.7" cy="531.5" r="2.6" fill="none" stroke="#F8766D" stroke-width="1"/>
<circle cx="280.6" cy="541.7" r="2.6" fill="none" stroke="#F8766D" stroke-width="1"/>
<circle cx="291.9" cy="551" r="2.6" fill="none" stroke="#F8766D" stroke-width="1"/>
<circle cx="321.5" cy="544.2" r="2.6" fill="none" stroke="#F8766D" stroke-width="1"/>
<circle cx="319.4" cy="552" r="2.6" fill="none" stroke="#F8766D" stroke-width="1"/>
<circle cx="333.8" cy="545.8" r="2.6" fill="none" stroke="#F8766D" stroke-width="1"/>
<circle cx="334.8" cy="552.4" r="2.6" fill="none" stroke="#F8766D" stroke-width="1"/>
<circle cx="371.8" cy="552.3" r="2.6" fill="none" stroke="#F8766D" stroke-width="1"/>
<circle cx="373.1" cy="562" r="2.6" fill="none" stroke="#F8766D" stroke-width="1"/>
<circle cx="141.3" cy="530.4" r="2.6" fill="none" stroke="#F8766D" stroke-width="1"/>
<path d="M326.38 551.1L330.2 547.28L334.02 551.1L330.2 554.92ZM326.38 551.1H334.02M330.2 547.28V554.92" stroke="#C77CFF" stroke-width="1.1" stroke-linecap="round" stroke-linejoin="round" fill="none"/>
<path d="M340.08 557.3L343.9 553.48L347.72 557.3L343.9 561.12ZM340.08 557.3H347.72M343.9 553.48V561.12" stroke="#C77CFF" stroke-width="1.1" stroke-linecap="round" stroke-linejoin="round" fill="none"/>
<path d="M349.78 563.3L353.6 559.48L357.42 563.3L353.6 567.12ZM349.78 563.3H357.42M353.6 559.48V567.12" stroke="#C77CFF" stroke-width="1.1" stroke-linecap="round" stroke-linejoin="round" fill="none"/>
<path d="M319.68 567.8L323.5 563.98L327.32 567.8L323.5 571.62ZM319.68 567.8H327.32M323.5 563.98V571.62" stroke="#C77CFF" stroke-width="1.1" stroke-linecap="round" stroke-linejoin="round" fill="none"/>
<path d="M306.68 572.4L310.5 568.58L314.32 572.4L310.5 576.22ZM306.68 572.4H314.32M310.5 568.58V576.22" stroke="#C77CFF" stroke-width="1.1" stroke-linecap="round" stroke-linejoin="round" fill="none"/>
<path d="M334.08 569.7L337.9 565.88L341.72 569.7L337.9 573.52ZM334.08 569.7H341.72M337.9 565.88V573.52" stroke="#C77CFF" stroke-width="1.1" stroke-linecap="round" stroke-linejoin="round" fill="none"/>
<path d="M346.08 572.4L349.9 568.58L353.72 572.4L349.9 576.22ZM346.08 572.4H353.72M349.9 568.58V576.22" stroke="#C77CFF" stroke-width="1.1" stroke-linecap="round" stroke-linejoin="round" fill="none"/>
<path d="M264.88 588.5L268.7 584.68L272.52 588.5L268.7 592.32ZM264.88 588.5H272.52M268.7 584.68V592.32" stroke="#C77CFF" stroke-width="1.1" stroke-linecap="round" stroke-linejoin="round" fill="none"/>
<path d="M425.58 383.3H433.22M429.4 379.48V387.12" stroke="#5B9DEA" stroke-width="1.1" stroke-linecap="round" fill="none"/>
<path d="M418.98 391H426.62M422.8 387.18V394.82" stroke="#5B9DEA" stroke-width="1.1" stroke-linecap="round" fill="none"/>
<path d="M420.98 393.5H428.62M424.8 389.68V397.32" stroke="#5B9DEA" stroke-width="1.1" stroke-linecap="round" fill="none"/>
<path d="M428.18 389.4H435.82M432 385.58V393.22" stroke="#5B9DEA" stroke-width="1.1" stroke-linecap="round" fill="none"/>
<path d="M430.68 393H438.32M434.5 389.18V396.82" stroke="#5B9DEA" stroke-width="1.1" stroke-linecap="round" fill="none"/>
<path d="M433.28 386.9H440.92M437.1 383.08V390.72" stroke="#5B9DEA" stroke-width="1.1" stroke-linecap="round" fill="none"/>
<path d="M439.88 386.9H447.52M443.7 383.08V390.72" stroke="#5B9DEA" stroke-width="1.1" stroke-linecap="round" fill="none"/>
<path d="M436.88 396.6H444.52M440.7 392.78V400.42" stroke="#5B9DEA" stroke-width="1.1" stroke-linecap="round" fill="none"/>
<path d="M443.98 395H451.62M447.8 391.18V398.82" stroke="#5B9DEA" stroke-width="1.1" stroke-linecap="round" fill="none"/>
<path d="M445.48 401.2H453.12M449.3 397.38V405.02" stroke="#5B9DEA" stroke-width="1.1" stroke-linecap="round" fill="none"/>
<path d="M438.88 399.1H446.52M442.7 395.28V402.92" stroke="#5B9DEA" stroke-width="1.1" stroke-linecap="round" fill="none"/>
<path d="M453.18 403.2H460.82M457 399.38V407.02" stroke="#5B9DEA" stroke-width="1.1" stroke-linecap="round" fill="none"/>
<path d="M456.28 384.3H463.92M460.1 380.48V388.12" stroke="#5B9DEA" stroke-width="1.1" stroke-linecap="round" fill="none"/>
<path d="M463.88 382.8H471.52M467.7 378.98V386.62" stroke="#5B9DEA" stroke-width="1.1" stroke-linecap="round" fill="none"/>
<path d="M467.48 391H475.12M471.3 387.18V394.82" stroke="#5B9DEA" stroke-width="1.1" stroke-linecap="round" fill="none"/>
<path d="M432.18 405.3H439.82M436 401.48V409.12" stroke="#5B9DEA" stroke-width="1.1" stroke-linecap="round" fill="none"/>
<path d="M436.88 400.7H444.52M440.7 396.88V404.52" stroke="#5B9DEA" stroke-width="1.1" stroke-linecap="round" fill="none"/>
<path d="M429.18 406.3H436.82M433 402.48V410.12" stroke="#5B9DEA" stroke-width="1.1" stroke-linecap="round" fill="none"/>
<path d="M159.88 378H167.52M163.7 374.18V381.82" stroke="#00BA38" stroke-width="1.1" stroke-linecap="round" fill="none"/>
<path d="M158.98 386.6H166.62M162.8 382.78V390.42" stroke="#00BA38" stroke-width="1.1" stroke-linecap="round" fill="none"/>
<path d="M165.58 393.2H173.22M169.4 389.38V397.02" stroke="#00BA38" stroke-width="1.1" stroke-linecap="round" fill="none"/>
<path d="M144.68 392.3H152.32M148.5 388.48V396.12" stroke="#00BA38" stroke-width="1.1" stroke-linecap="round" fill="none"/>
<path d="M193.18 386.2H200.82M197 382.38V390.02" stroke="#00BA38" stroke-width="1.1" stroke-linecap="round" fill="none"/>
<path d="M213.58 383.7H221.22M217.4 379.88V387.52" stroke="#00BA38" stroke-width="1.1" stroke-linecap="round" fill="none"/>
<path d="M231.08 381.3H238.72M234.9 377.48V385.12" stroke="#00BA38" stroke-width="1.1" stroke-linecap="round" fill="none"/>
<path d="M231.08 387.5H238.72M234.9 383.68V391.32" stroke="#00BA38" stroke-width="1.1" stroke-linecap="round" fill="none"/>
<path d="M206.38 398H214.02M210.2 394.18V401.82" stroke="#00BA38" stroke-width="1.1" stroke-linecap="round" fill="none"/>
<path d="M234.88 406.5H242.52M238.7 402.68V410.32" stroke="#00BA38" stroke-width="1.1" stroke-linecap="round" fill="none"/>
<path d="M198.78 407.4H206.42M202.6 403.58V411.22" stroke="#00BA38" stroke-width="1.1" stroke-linecap="round" fill="none"/>
<path d="M199.78 409.3H207.42M203.6 405.48V413.12" stroke="#00BA38" stroke-width="1.1" stroke-linecap="round" fill="none"/>
<path d="M192.18 415H199.82M196 411.18V418.82" stroke="#00BA38" stroke-width="1.1" stroke-linecap="round" fill="none"/>
<path d="M207.38 416H215.02M211.2 412.18V419.82" stroke="#00BA38" stroke-width="1.1" stroke-linecap="round" fill="none"/>
<path d="M212.08 418.8H219.72M215.9 414.98V422.62" stroke="#00BA38" stroke-width="1.1" stroke-linecap="round" fill="none"/>
<path d="M223.48 413.1H231.12M227.3 409.28V416.92" stroke="#00BA38" stroke-width="1.1" stroke-linecap="round" fill="none"/>
<path d="M201.68 422.6H209.32M205.5 418.78V426.42" stroke="#00BA38" stroke-width="1.1" stroke-linecap="round" fill="none"/>
<path d="M224.38 423.6H232.02M228.2 419.78V427.42" stroke="#00BA38" stroke-width="1.1" stroke-linecap="round" fill="none"/>
<path d="M271.38 416.1H279.02M275.2 412.28V419.92" stroke="#F8766D" stroke-width="1.1" stroke-linecap="round" fill="none"/>
<path d="M273.18 460.6H280.82M277 456.78V464.42" stroke="#F8766D" stroke-width="1.1" stroke-linecap="round" fill="none"/>
<path d="M294.88 392.6H302.52M298.7 388.78V396.42" stroke="#F8766D" stroke-width="1.1" stroke-linecap="round" fill="none"/>
<path d="M299.98 394.6H307.62M303.8 390.78V398.42" stroke="#F8766D" stroke-width="1.1" stroke-linecap="round" fill="none"/>
<path d="M302.08 396.7H309.72M305.9 392.88V400.52" stroke="#F8766D" stroke-width="1.1" stroke-linecap="round" fill="none"/>
<path d="M297.48 403.8H305.12M301.3 399.98V407.62" stroke="#F8766D" stroke-width="1.1" stroke-linecap="round" fill="none"/>
<path d="M308.18 402.8H315.82M312 398.98V406.62" stroke="#F8766D" stroke-width="1.1" stroke-linecap="round" fill="none"/>
<path d="M306.18 407.9H313.82M310 404.08V411.72" stroke="#F8766D" stroke-width="1.1" stroke-linecap="round" fill="none"/>
<path d="M309.18 410H316.82M313 406.18V413.82" stroke="#F8766D" stroke-width="1.1" stroke-linecap="round" fill="none"/>
<path d="M304.08 405.9H311.72M307.9 402.08V409.72" stroke="#F8766D" stroke-width="1.1" stroke-linecap="round" fill="none"/>
<path d="M285.68 411H293.32M289.5 407.18V414.82" stroke="#F8766D" stroke-width="1.1" stroke-linecap="round" fill="none"/>
<path d="M293.38 417.1H301.02M297.2 413.28V420.92" stroke="#F8766D" stroke-width="1.1" stroke-linecap="round" fill="none"/>
<path d="M296.48 421.2H304.12M300.3 417.38V425.02" stroke="#F8766D" stroke-width="1.1" stroke-linecap="round" fill="none"/>
<path d="M302.58 425.3H310.22M306.4 421.48V429.12" stroke="#F8766D" stroke-width="1.1" stroke-linecap="round" fill="none"/>
<path d="M290.28 429.4H297.92M294.1 425.58V433.22" stroke="#F8766D" stroke-width="1.1" stroke-linecap="round" fill="none"/>
<path d="M299.48 431.4H307.12M303.3 427.58V435.22" stroke="#F8766D" stroke-width="1.1" stroke-linecap="round" fill="none"/>
<path d="M307.18 412H314.82M311 408.18V415.82" stroke="#F8766D" stroke-width="1.1" stroke-linecap="round" fill="none"/>
<path d="M311.28 376.2H318.92M315.1 372.38V380.02" stroke="#C77CFF" stroke-width="1.1" stroke-linecap="round" fill="none"/>
<path d="M317.38 385.4H325.02M321.2 381.58V389.22" stroke="#C77CFF" stroke-width="1.1" stroke-linecap="round" fill="none"/>
<path d="M313.28 416.1H320.92M317.1 412.28V419.92" stroke="#C77CFF" stroke-width="1.1" stroke-linecap="round" fill="none"/>
<circle cx="81.27" cy="690.72" r="2.8" fill="#F8766D" fill-opacity="0.08" stroke="#F8766D" stroke-opacity="0.11" stroke-width="0.9"/>
<circle cx="89.12" cy="688.53" r="2.8" fill="#F8766D" fill-opacity="0.08" stroke="#F8766D" stroke-opacity="0.11" stroke-width="0.9"/>
<circle cx="86.36" cy="696.74" r="2.8" fill="#F8766D" fill-opacity="0.08" stroke="#F8766D" stroke-opacity="0.11" stroke-width="0.9"/>
<circle cx="74.89" cy="700.71" r="2.8" fill="#F8766D" fill-opacity="0.08" stroke="#F8766D" stroke-opacity="0.11" stroke-width="0.9"/>
<circle cx="74.4" cy="698.64" r="2.8" fill="#F8766D" fill-opacity="0.08" stroke="#F8766D" stroke-opacity="0.11" stroke-width="0.9"/>
<circle cx="75.18" cy="689.04" r="2.8" fill="#F8766D" fill-opacity="0.08" stroke="#F8766D" stroke-opacity="0.11" stroke-width="0.9"/>
<circle cx="83.69" cy="709.65" r="2.8" fill="#F8766D" fill-opacity="0.08" stroke="#F8766D" stroke-opacity="0.11" stroke-width="0.9"/>
<circle cx="76.47" cy="692.75" r="2.8" fill="#F8766D" fill-opacity="0.08" stroke="#F8766D" stroke-opacity="0.11" stroke-width="0.9"/>
<circle cx="88.56" cy="713.04" r="2.8" fill="#F8766D" fill-opacity="0.08" stroke="#F8766D" stroke-opacity="0.11" stroke-width="0.9"/>
<circle cx="87.35" cy="697.61" r="2.8" fill="#F8766D" fill-opacity="0.08" stroke="#F8766D" stroke-opacity="0.11" stroke-width="0.9"/>
<circle cx="96.93" cy="687.8" r="2.8" fill="#F8766D" fill-opacity="0.08" stroke="#F8766D" stroke-opacity="0.11" stroke-width="0.9"/>
<circle cx="94.1" cy="694.61" r="2.8" fill="#F8766D" fill-opacity="0.08" stroke="#F8766D" stroke-opacity="0.11" stroke-width="0.9"/>
<circle cx="76.96" cy="689.8" r="2.8" fill="#F8766D" fill-opacity="0.08" stroke="#F8766D" stroke-opacity="0.11" stroke-width="0.9"/>
<circle cx="80.9" cy="709.35" r="2.8" fill="#F8766D" fill-opacity="0.08" stroke="#F8766D" stroke-opacity="0.11" stroke-width="0.9"/>
<circle cx="77.84" cy="702.78" r="2.8" fill="#F8766D" fill-opacity="0.08" stroke="#F8766D" stroke-opacity="0.11" stroke-width="0.9"/>
<circle cx="88.83" cy="696.93" r="2.8" fill="#F8766D" fill-opacity="0.08" stroke="#F8766D" stroke-opacity="0.11" stroke-width="0.9"/>
<circle cx="86.65" cy="688.26" r="2.8" fill="#F8766D" fill-opacity="0.08" stroke="#F8766D" stroke-opacity="0.11" stroke-width="0.9"/>
<circle cx="74.93" cy="692.27" r="2.8" fill="#F8766D" fill-opacity="0.08" stroke="#F8766D" stroke-opacity="0.11" stroke-width="0.9"/>
<circle cx="89.83" cy="698.47" r="2.8" fill="#F8766D" fill-opacity="0.08" stroke="#F8766D" stroke-opacity="0.11" stroke-width="0.9"/>
<circle cx="81.04" cy="702.9" r="2.8" fill="#F8766D" fill-opacity="0.08" stroke="#F8766D" stroke-opacity="0.11" stroke-width="0.9"/>
<circle cx="84.38" cy="694.89" r="2.8" fill="#F8766D" fill-opacity="0.08" stroke="#F8766D" stroke-opacity="0.11" stroke-width="0.9"/>
<circle cx="92.57" cy="706.07" r="2.8" fill="#F8766D" fill-opacity="0.08" stroke="#F8766D" stroke-opacity="0.11" stroke-width="0.9"/>
<circle cx="79.36" cy="702.58" r="2.8" fill="#F8766D" fill-opacity="0.08" stroke="#F8766D" stroke-opacity="0.11" stroke-width="0.9"/>
<circle cx="86.1" cy="711" r="2.8" fill="#F8766D" fill-opacity="0.08" stroke="#F8766D" stroke-opacity="0.11" stroke-width="0.9"/>
<circle cx="91.01" cy="694.56" r="2.8" fill="#F8766D" fill-opacity="0.08" stroke="#F8766D" stroke-opacity="0.11" stroke-width="0.9"/>
<circle cx="97.02" cy="689.81" r="2.8" fill="#F8766D" fill-opacity="0.08" stroke="#F8766D" stroke-opacity="0.11" stroke-width="0.9"/>
<circle cx="83.53" cy="707.7" r="2.8" fill="#F8766D" fill-opacity="0.08" stroke="#F8766D" stroke-opacity="0.11" stroke-width="0.9"/>
<circle cx="77.15" cy="700.19" r="2.8" fill="#F8766D" fill-opacity="0.08" stroke="#F8766D" stroke-opacity="0.11" stroke-width="0.9"/>
<circle cx="74.44" cy="705.21" r="2.8" fill="#F8766D" fill-opacity="0.08" stroke="#F8766D" stroke-opacity="0.11" stroke-width="0.9"/>
<circle cx="91.85" cy="702.54" r="2.8" fill="#F8766D" fill-opacity="0.08" stroke="#F8766D" stroke-opacity="0.11" stroke-width="0.9"/>
<circle cx="94.51" cy="695.28" r="2.8" fill="#F8766D" fill-opacity="0.08" stroke="#F8766D" stroke-opacity="0.11" stroke-width="0.9"/>
<circle cx="90.19" cy="703.14" r="2.8" fill="#F8766D" fill-opacity="0.08" stroke="#F8766D" stroke-opacity="0.11" stroke-width="0.9"/>
<circle cx="87.42" cy="699.27" r="2.8" fill="#F8766D" fill-opacity="0.08" stroke="#F8766D" stroke-opacity="0.11" stroke-width="0.9"/>
<circle cx="93.66" cy="712.95" r="2.8" fill="#F8766D" fill-opacity="0.08" stroke="#F8766D" stroke-opacity="0.11" stroke-width="0.9"/>
<circle cx="84.88" cy="705.1" r="2.8" fill="#F8766D" fill-opacity="0.08" stroke="#F8766D" stroke-opacity="0.11" stroke-width="0.9"/>
<circle cx="74.96" cy="706.14" r="2.8" fill="#F8766D" fill-opacity="0.08" stroke="#F8766D" stroke-opacity="0.11" stroke-width="0.9"/>
<circle cx="89.03" cy="714.31" r="2.8" fill="#F8766D" fill-opacity="0.08" stroke="#F8766D" stroke-opacity="0.11" stroke-width="0.9"/>
<circle cx="93.23" cy="694.47" r="2.8" fill="#F8766D" fill-opacity="0.08" stroke="#F8766D" stroke-opacity="0.11" stroke-width="0.9"/>
<circle cx="82.76" cy="705.22" r="2.8" fill="#F8766D" fill-opacity="0.08" stroke="#F8766D" stroke-opacity="0.11" stroke-width="0.9"/>
<circle cx="74.04" cy="699.43" r="2.8" fill="#F8766D" fill-opacity="0.08" stroke="#F8766D" stroke-opacity="0.11" stroke-width="0.9"/>
<circle cx="77.53" cy="689.78" r="2.8" fill="#F8766D" fill-opacity="0.08" stroke="#F8766D" stroke-opacity="0.11" stroke-width="0.9"/>
<circle cx="74.91" cy="708.01" r="2.8" fill="#F8766D" fill-opacity="0.08" stroke="#F8766D" stroke-opacity="0.11" stroke-width="0.9"/>
<circle cx="76.6" cy="693.43" r="2.8" fill="#F8766D" fill-opacity="0.08" stroke="#F8766D" stroke-opacity="0.11" stroke-width="0.9"/>
<circle cx="82.88" cy="710.9" r="2.8" fill="#F8766D" fill-opacity="0.08" stroke="#F8766D" stroke-opacity="0.11" stroke-width="0.9"/>
<circle cx="75.43" cy="699.08" r="2.8" fill="#F8766D" fill-opacity="0.08" stroke="#F8766D" stroke-opacity="0.11" stroke-width="0.9"/>
<circle cx="86.69" cy="711.23" r="2.8" fill="#F8766D" fill-opacity="0.08" stroke="#F8766D" stroke-opacity="0.11" stroke-width="0.9"/>
<circle cx="93.16" cy="710.69" r="2.8" fill="#F8766D" fill-opacity="0.08" stroke="#F8766D" stroke-opacity="0.11" stroke-width="0.9"/>
<circle cx="80.18" cy="698.13" r="2.8" fill="#F8766D" fill-opacity="0.08" stroke="#F8766D" stroke-opacity="0.11" stroke-width="0.9"/>
<circle cx="82.11" cy="711.26" r="2.8" fill="#F8766D" fill-opacity="0.08" stroke="#F8766D" stroke-opacity="0.11" stroke-width="0.9"/>
<circle cx="96.49" cy="690.73" r="2.8" fill="#F8766D" fill-opacity="0.08" stroke="#F8766D" stroke-opacity="0.11" stroke-width="0.9"/>
<circle cx="77.73" cy="692.99" r="2.8" fill="#F8766D" fill-opacity="0.08" stroke="#F8766D" stroke-opacity="0.11" stroke-width="0.9"/>
<circle cx="79.1" cy="700.08" r="2.8" fill="#F8766D" fill-opacity="0.08" stroke="#F8766D" stroke-opacity="0.11" stroke-width="0.9"/>
<circle cx="87.64" cy="693.86" r="2.8" fill="#F8766D" fill-opacity="0.08" stroke="#F8766D" stroke-opacity="0.11" stroke-width="0.9"/>
<circle cx="73.6" cy="698.23" r="2.8" fill="#F8766D" fill-opacity="0.08" stroke="#F8766D" stroke-opacity="0.11" stroke-width="0.9"/>
<circle cx="82.36" cy="702.36" r="2.8" fill="#F8766D" fill-opacity="0.08" stroke="#F8766D" stroke-opacity="0.11" stroke-width="0.9"/>
<circle cx="79.3" cy="767.2" r="2.8" fill="#F8766D" fill-opacity="0.08" stroke="#F8766D" stroke-opacity="0.11" stroke-width="0.9"/>
<circle cx="84" cy="764" r="2.8" fill="#F8766D" fill-opacity="0.08" stroke="#F8766D" stroke-opacity="0.11" stroke-width="0.9"/>
<circle cx="89.4" cy="761" r="2.8" fill="#F8766D" fill-opacity="0.08" stroke="#F8766D" stroke-opacity="0.11" stroke-width="0.9"/>
<polygon points="131.28,753.59 134.92,759.89 127.64,759.89" fill="#F8766D" fill-opacity="0.09"/>
<polygon points="119.9,746.59 123.54,752.89 116.27,752.89" fill="#F8766D" fill-opacity="0.09"/>
<polygon points="124.08,692.48 127.72,698.78 120.44,698.78" fill="#F8766D" fill-opacity="0.09"/>
<polygon points="129.89,762.18 133.52,768.48 126.25,768.48" fill="#F8766D" fill-opacity="0.09"/>
<polygon points="129.24,763.9 132.87,770.2 125.6,770.2" fill="#F8766D" fill-opacity="0.09"/>
<polygon points="116.7,725.6 120.34,731.9 113.07,731.9" fill="#F8766D" fill-opacity="0.09"/>
<polygon points="109.19,748.19 112.83,754.49 105.56,754.49" fill="#F8766D" fill-opacity="0.09"/>
<polygon points="108.12,693.77 111.75,700.06 104.48,700.06" fill="#F8766D" fill-opacity="0.09"/>
<polygon points="111.93,702.88 115.56,709.18 108.29,709.18" fill="#F8766D" fill-opacity="0.09"/>
<polygon points="115.34,692.35 118.98,698.65 111.71,698.65" fill="#F8766D" fill-opacity="0.09"/>
<polygon points="106.51,701.82 110.14,708.12 102.87,708.12" fill="#F8766D" fill-opacity="0.09"/>
<polygon points="109.14,722.21 112.77,728.51 105.5,728.51" fill="#F8766D" fill-opacity="0.09"/>
<polygon points="107.16,771.24 110.8,777.54 103.53,777.54" fill="#F8766D" fill-opacity="0.09"/>
<polygon points="122.47,701.56 126.1,707.86 118.83,707.86" fill="#F8766D" fill-opacity="0.09"/>
<polygon points="113.06,720.65 116.7,726.95 109.42,726.95" fill="#F8766D" fill-opacity="0.09"/>
<polygon points="115.97,699.09 119.6,705.39 112.33,705.39" fill="#F8766D" fill-opacity="0.09"/>
<polygon points="128.57,782.64 132.21,788.94 124.94,788.94" fill="#F8766D" fill-opacity="0.09"/>
<polygon points="118.62,733.75 122.25,740.05 114.98,740.05" fill="#F8766D" fill-opacity="0.09"/>
<polygon points="108.73,697.11 112.37,703.41 105.1,703.41" fill="#F8766D" fill-opacity="0.09"/>
<polygon points="115.41,712.72 119.04,719.02 111.77,719.02" fill="#F8766D" fill-opacity="0.09"/>
<polygon points="128.05,702.8 131.69,709.1 124.41,709.1" fill="#F8766D" fill-opacity="0.09"/>
<polygon points="107.1,778.6 110.74,784.89 103.46,784.89" fill="#F8766D" fill-opacity="0.09"/>
<polygon points="120.23,701.38 123.87,707.67 116.6,707.67" fill="#F8766D" fill-opacity="0.09"/>
<polygon points="120.62,689.9 124.26,696.2 116.99,696.2" fill="#F8766D" fill-opacity="0.09"/>
<polygon points="120.23,781.24 123.87,787.54 116.59,787.54" fill="#F8766D" fill-opacity="0.09"/>
<polygon points="128.95,754.14 132.58,760.43 125.31,760.43" fill="#F8766D" fill-opacity="0.09"/>
<polygon points="113.29,722.5 116.93,728.8 109.65,728.8" fill="#F8766D" fill-opacity="0.09"/>
<polygon points="110.84,761.41 114.48,767.71 107.21,767.71" fill="#F8766D" fill-opacity="0.09"/>
<polygon points="120.35,762.09 123.98,768.39 116.71,768.39" fill="#F8766D" fill-opacity="0.09"/>
<polygon points="115.07,708.71 118.71,715.01 111.43,715.01" fill="#F8766D" fill-opacity="0.09"/>
<polygon points="127.6,781.85 131.24,788.15 123.96,788.15" fill="#F8766D" fill-opacity="0.09"/>
<polygon points="128.67,764.68 132.3,770.98 125.03,770.98" fill="#F8766D" fill-opacity="0.09"/>
<polygon points="127.78,758.33 131.41,764.63 124.14,764.63" fill="#F8766D" fill-opacity="0.09"/>
<polygon points="112.4,736.99 116.03,743.29 108.76,743.29" fill="#F8766D" fill-opacity="0.09"/>
<polygon points="115.74,690.08 119.38,696.38 112.11,696.38" fill="#F8766D" fill-opacity="0.09"/>
<polygon points="107.23,714.13 110.86,720.42 103.59,720.42" fill="#F8766D" fill-opacity="0.09"/>
<polygon points="113.24,753.78 116.87,760.08 109.6,760.08" fill="#F8766D" fill-opacity="0.09"/>
<polygon points="131.37,730.24 135.01,736.53 127.73,736.53" fill="#F8766D" fill-opacity="0.09"/>
<polygon points="130.86,782.15 134.5,788.45 127.23,788.45" fill="#F8766D" fill-opacity="0.09"/>
<polygon points="131.33,722.31 134.97,728.6 127.69,728.6" fill="#F8766D" fill-opacity="0.09"/>
<polygon points="112.23,709.08 115.87,715.38 108.6,715.38" fill="#F8766D" fill-opacity="0.09"/>
<polygon points="111.61,706.92 115.25,713.22 107.98,713.22" fill="#F8766D" fill-opacity="0.09"/>
<polygon points="122.73,773.73 126.36,780.03 119.09,780.03" fill="#F8766D" fill-opacity="0.09"/>
<polygon points="128.35,733.33 131.99,739.63 124.71,739.63" fill="#F8766D" fill-opacity="0.09"/>
<polygon points="123.48,764.07 127.11,770.37 119.84,770.37" fill="#F8766D" fill-opacity="0.09"/>
<polygon points="111.6,810.2 115.24,816.5 107.96,816.5" fill="#F8766D" fill-opacity="0.09"/>
<polygon points="120,814.2 123.64,820.5 116.36,820.5" fill="#F8766D" fill-opacity="0.09"/>
<polygon points="124,815.8 127.64,822.1 120.36,822.1" fill="#F8766D" fill-opacity="0.09"/>
<polygon points="128.4,811.4 132.04,817.7 124.76,817.7" fill="#F8766D" fill-opacity="0.09"/>
<circle cx="142.62" cy="712.98" r="2.8" fill="#F8766D" fill-opacity="0.08" stroke="#F8766D" stroke-opacity="0.11" stroke-width="0.9"/>
<circle cx="163.24" cy="716.75" r="2.8" fill="#F8766D" fill-opacity="0.08" stroke="#F8766D" stroke-opacity="0.11" stroke-width="0.9"/>
<circle cx="159.25" cy="707.32" r="2.8" fill="#F8766D" fill-opacity="0.08" stroke="#F8766D" stroke-opacity="0.11" stroke-width="0.9"/>
<circle cx="144.96" cy="716.96" r="2.8" fill="#F8766D" fill-opacity="0.08" stroke="#F8766D" stroke-opacity="0.11" stroke-width="0.9"/>
<circle cx="148.81" cy="717.33" r="2.8" fill="#F8766D" fill-opacity="0.08" stroke="#F8766D" stroke-opacity="0.11" stroke-width="0.9"/>
<circle cx="164.79" cy="704.77" r="2.8" fill="#F8766D" fill-opacity="0.08" stroke="#F8766D" stroke-opacity="0.11" stroke-width="0.9"/>
<circle cx="150.53" cy="721.85" r="2.8" fill="#F8766D" fill-opacity="0.08" stroke="#F8766D" stroke-opacity="0.11" stroke-width="0.9"/>
<circle cx="158.62" cy="697.77" r="2.8" fill="#F8766D" fill-opacity="0.08" stroke="#F8766D" stroke-opacity="0.11" stroke-width="0.9"/>
<circle cx="143.68" cy="697.19" r="2.8" fill="#F8766D" fill-opacity="0.08" stroke="#F8766D" stroke-opacity="0.11" stroke-width="0.9"/>
<circle cx="163.12" cy="717.5" r="2.8" fill="#F8766D" fill-opacity="0.08" stroke="#F8766D" stroke-opacity="0.11" stroke-width="0.9"/>
<circle cx="144.15" cy="718.12" r="2.8" fill="#F8766D" fill-opacity="0.08" stroke="#F8766D" stroke-opacity="0.11" stroke-width="0.9"/>
<circle cx="165.01" cy="712.88" r="2.8" fill="#F8766D" fill-opacity="0.08" stroke="#F8766D" stroke-opacity="0.11" stroke-width="0.9"/>
<circle cx="149.26" cy="709.51" r="2.8" fill="#F8766D" fill-opacity="0.08" stroke="#F8766D" stroke-opacity="0.11" stroke-width="0.9"/>
<circle cx="143.77" cy="692.94" r="2.8" fill="#F8766D" fill-opacity="0.08" stroke="#F8766D" stroke-opacity="0.11" stroke-width="0.9"/>
<circle cx="164.77" cy="712.64" r="2.8" fill="#F8766D" fill-opacity="0.08" stroke="#F8766D" stroke-opacity="0.11" stroke-width="0.9"/>
<circle cx="153.66" cy="721.44" r="2.8" fill="#F8766D" fill-opacity="0.08" stroke="#F8766D" stroke-opacity="0.11" stroke-width="0.9"/>
<circle cx="151.35" cy="719.52" r="2.8" fill="#F8766D" fill-opacity="0.08" stroke="#F8766D" stroke-opacity="0.11" stroke-width="0.9"/>
<circle cx="161.15" cy="699.04" r="2.8" fill="#F8766D" fill-opacity="0.08" stroke="#F8766D" stroke-opacity="0.11" stroke-width="0.9"/>
<circle cx="146.8" cy="701.58" r="2.8" fill="#F8766D" fill-opacity="0.08" stroke="#F8766D" stroke-opacity="0.11" stroke-width="0.9"/>
<circle cx="146.51" cy="710.68" r="2.8" fill="#F8766D" fill-opacity="0.08" stroke="#F8766D" stroke-opacity="0.11" stroke-width="0.9"/>
<circle cx="146.98" cy="705.49" r="2.8" fill="#F8766D" fill-opacity="0.08" stroke="#F8766D" stroke-opacity="0.11" stroke-width="0.9"/>
<circle cx="143.78" cy="720.71" r="2.8" fill="#F8766D" fill-opacity="0.08" stroke="#F8766D" stroke-opacity="0.11" stroke-width="0.9"/>
<circle cx="149.34" cy="706.7" r="2.8" fill="#F8766D" fill-opacity="0.08" stroke="#F8766D" stroke-opacity="0.11" stroke-width="0.9"/>
<circle cx="155.08" cy="720.53" r="2.8" fill="#F8766D" fill-opacity="0.08" stroke="#F8766D" stroke-opacity="0.11" stroke-width="0.9"/>
<circle cx="151.02" cy="720.95" r="2.8" fill="#F8766D" fill-opacity="0.08" stroke="#F8766D" stroke-opacity="0.11" stroke-width="0.9"/>
<circle cx="153.04" cy="708.99" r="2.8" fill="#F8766D" fill-opacity="0.08" stroke="#F8766D" stroke-opacity="0.11" stroke-width="0.9"/>
<circle cx="153.59" cy="693.08" r="2.8" fill="#F8766D" fill-opacity="0.08" stroke="#F8766D" stroke-opacity="0.11" stroke-width="0.9"/>
<circle cx="151.5" cy="698.18" r="2.8" fill="#F8766D" fill-opacity="0.08" stroke="#F8766D" stroke-opacity="0.11" stroke-width="0.9"/>
<circle cx="140.6" cy="717.27" r="2.8" fill="#F8766D" fill-opacity="0.08" stroke="#F8766D" stroke-opacity="0.11" stroke-width="0.9"/>
<circle cx="144.81" cy="707.18" r="2.8" fill="#F8766D" fill-opacity="0.08" stroke="#F8766D" stroke-opacity="0.11" stroke-width="0.9"/>
<circle cx="158.63" cy="709.75" r="2.8" fill="#F8766D" fill-opacity="0.08" stroke="#F8766D" stroke-opacity="0.11" stroke-width="0.9"/>
<circle cx="148.65" cy="708.57" r="2.8" fill="#F8766D" fill-opacity="0.08" stroke="#F8766D" stroke-opacity="0.11" stroke-width="0.9"/>
<circle cx="154.39" cy="716.81" r="2.8" fill="#F8766D" fill-opacity="0.08" stroke="#F8766D" stroke-opacity="0.11" stroke-width="0.9"/>
<circle cx="143.15" cy="709.87" r="2.8" fill="#F8766D" fill-opacity="0.08" stroke="#F8766D" stroke-opacity="0.11" stroke-width="0.9"/>
<circle cx="146.71" cy="701.08" r="2.8" fill="#F8766D" fill-opacity="0.08" stroke="#F8766D" stroke-opacity="0.11" stroke-width="0.9"/>
<circle cx="159.81" cy="708.24" r="2.8" fill="#F8766D" fill-opacity="0.08" stroke="#F8766D" stroke-opacity="0.11" stroke-width="0.9"/>
<circle cx="154.54" cy="716.06" r="2.8" fill="#F8766D" fill-opacity="0.08" stroke="#F8766D" stroke-opacity="0.11" stroke-width="0.9"/>
<circle cx="163.31" cy="706.24" r="2.8" fill="#F8766D" fill-opacity="0.08" stroke="#F8766D" stroke-opacity="0.11" stroke-width="0.9"/>
<circle cx="155.81" cy="708.17" r="2.8" fill="#F8766D" fill-opacity="0.08" stroke="#F8766D" stroke-opacity="0.11" stroke-width="0.9"/>
<circle cx="153.3" cy="713.97" r="2.8" fill="#F8766D" fill-opacity="0.08" stroke="#F8766D" stroke-opacity="0.11" stroke-width="0.9"/>
<circle cx="151.81" cy="709.03" r="2.8" fill="#F8766D" fill-opacity="0.08" stroke="#F8766D" stroke-opacity="0.11" stroke-width="0.9"/>
<circle cx="152.45" cy="721.69" r="2.8" fill="#F8766D" fill-opacity="0.08" stroke="#F8766D" stroke-opacity="0.11" stroke-width="0.9"/>
<circle cx="157.98" cy="719.67" r="2.8" fill="#F8766D" fill-opacity="0.08" stroke="#F8766D" stroke-opacity="0.11" stroke-width="0.9"/>
<circle cx="164.05" cy="700.55" r="2.8" fill="#F8766D" fill-opacity="0.08" stroke="#F8766D" stroke-opacity="0.11" stroke-width="0.9"/>
<circle cx="154.49" cy="721.74" r="2.8" fill="#F8766D" fill-opacity="0.08" stroke="#F8766D" stroke-opacity="0.11" stroke-width="0.9"/>
<circle cx="161.5" cy="696.75" r="2.8" fill="#F8766D" fill-opacity="0.08" stroke="#F8766D" stroke-opacity="0.11" stroke-width="0.9"/>
<circle cx="143.54" cy="706.21" r="2.8" fill="#F8766D" fill-opacity="0.08" stroke="#F8766D" stroke-opacity="0.11" stroke-width="0.9"/>
<circle cx="142.31" cy="699.96" r="2.8" fill="#F8766D" fill-opacity="0.08" stroke="#F8766D" stroke-opacity="0.11" stroke-width="0.9"/>
<circle cx="142.33" cy="713.25" r="2.8" fill="#F8766D" fill-opacity="0.08" stroke="#F8766D" stroke-opacity="0.11" stroke-width="0.9"/>
<circle cx="160.1" cy="720.31" r="2.8" fill="#F8766D" fill-opacity="0.08" stroke="#F8766D" stroke-opacity="0.11" stroke-width="0.9"/>
<polygon points="177.52,740.87 181.15,747.17 173.88,747.17" fill="#F8766D" fill-opacity="0.09"/>
<polygon points="190.67,695.6 194.3,701.89 187.03,701.89" fill="#F8766D" fill-opacity="0.09"/>
<polygon points="196.45,760.74 200.09,767.04 192.82,767.04" fill="#F8766D" fill-opacity="0.09"/>
<polygon points="179.21,759.55 182.85,765.85 175.57,765.85" fill="#F8766D" fill-opacity="0.09"/>
<polygon points="183.85,722.79 187.49,729.09 180.22,729.09" fill="#F8766D" fill-opacity="0.09"/>
<polygon points="199.24,750.06 202.87,756.36 195.6,756.36" fill="#F8766D" fill-opacity="0.09"/>
<polygon points="177.7,718.39 181.33,724.69 174.06,724.69" fill="#F8766D" fill-opacity="0.09"/>
<polygon points="186.91,711.09 190.54,717.39 183.27,717.39" fill="#F8766D" fill-opacity="0.09"/>
<polygon points="178.59,709.46 182.23,715.76 174.95,715.76" fill="#F8766D" fill-opacity="0.09"/>
<polygon points="192.28,685.84 195.91,692.14 188.64,692.14" fill="#F8766D" fill-opacity="0.09"/>
<polygon points="187.91,719.1 191.54,725.4 184.27,725.4" fill="#F8766D" fill-opacity="0.09"/>
<polygon points="173.97,710.49 177.61,716.79 170.33,716.79" fill="#F8766D" fill-opacity="0.09"/>
<polygon points="189.72,724.77 193.36,731.07 186.09,731.07" fill="#F8766D" fill-opacity="0.09"/>
<polygon points="175.17,762.12 178.81,768.42 171.54,768.42" fill="#F8766D" fill-opacity="0.09"/>
<polygon points="194,761.07 197.63,767.36 190.36,767.36" fill="#F8766D" fill-opacity="0.09"/>
<polygon points="176.22,705.28 179.86,711.58 172.59,711.58" fill="#F8766D" fill-opacity="0.09"/>
<polygon points="174.53,745.84 178.17,752.14 170.89,752.14" fill="#F8766D" fill-opacity="0.09"/>
<polygon points="180.53,694.54 184.17,700.83 176.9,700.83" fill="#F8766D" fill-opacity="0.09"/>
<polygon points="184.48,756.3 188.11,762.6 180.84,762.6" fill="#F8766D" fill-opacity="0.09"/>
<polygon points="194.79,704.73 198.43,711.03 191.16,711.03" fill="#F8766D" fill-opacity="0.09"/>
<polygon points="177.38,756.92 181.02,763.21 173.75,763.21" fill="#F8766D" fill-opacity="0.09"/>
<polygon points="188.34,739.63 191.97,745.93 184.7,745.93" fill="#F8766D" fill-opacity="0.09"/>
<polygon points="175.83,688.85 179.46,695.14 172.19,695.14" fill="#F8766D" fill-opacity="0.09"/>
<polygon points="191.39,717.9 195.03,724.2 187.76,724.2" fill="#F8766D" fill-opacity="0.09"/>
<polygon points="175.38,758.43 179.02,764.73 171.75,764.73" fill="#F8766D" fill-opacity="0.09"/>
<polygon points="190,747.63 193.63,753.93 186.36,753.93" fill="#F8766D" fill-opacity="0.09"/>
<polygon points="175.68,751.94 179.31,758.24 172.04,758.24" fill="#F8766D" fill-opacity="0.09"/>
<polygon points="175.23,752.46 178.87,758.76 171.6,758.76" fill="#F8766D" fill-opacity="0.09"/>
<polygon points="185.3,711.09 188.93,717.39 181.66,717.39" fill="#F8766D" fill-opacity="0.09"/>
<polygon points="187.88,757.51 191.52,763.81 184.24,763.81" fill="#F8766D" fill-opacity="0.09"/>
<polygon points="180.46,694.51 184.1,700.81 176.83,700.81" fill="#F8766D" fill-opacity="0.09"/>
<polygon points="187.2,703.14 190.84,709.44 183.56,709.44" fill="#F8766D" fill-opacity="0.09"/>
<polygon points="176.35,697.06 179.98,703.35 172.71,703.35" fill="#F8766D" fill-opacity="0.09"/>
<polygon points="174.81,700.24 178.45,706.54 171.17,706.54" fill="#F8766D" fill-opacity="0.09"/>
<polygon points="181.61,708.4 185.25,714.69 177.98,714.69" fill="#F8766D" fill-opacity="0.09"/>
<polygon points="193.25,707.21 196.88,713.51 189.61,713.51" fill="#F8766D" fill-opacity="0.09"/>
<polygon points="186.5,698.36 190.14,704.65 182.87,704.65" fill="#F8766D" fill-opacity="0.09"/>
<polygon points="182.52,685.74 186.16,692.03 178.89,692.03" fill="#F8766D" fill-opacity="0.09"/>
<polygon points="180.01,685.51 183.65,691.81 176.38,691.81" fill="#F8766D" fill-opacity="0.09"/>
<polygon points="192.56,727.83 196.2,734.13 188.92,734.13" fill="#F8766D" fill-opacity="0.09"/>
<polygon points="178.43,721.81 182.06,728.11 174.79,728.11" fill="#F8766D" fill-opacity="0.09"/>
<polygon points="197.8,692.7 201.44,699 194.16,699" fill="#F8766D" fill-opacity="0.09"/>
<polygon points="194.79,718.44 198.43,724.74 191.16,724.74" fill="#F8766D" fill-opacity="0.09"/>
<polygon points="186.37,750.24 190.01,756.53 182.73,756.53" fill="#F8766D" fill-opacity="0.09"/>
<polygon points="183.72,724.33 187.36,730.63 180.08,730.63" fill="#F8766D" fill-opacity="0.09"/>
<polygon points="178,798.8 181.64,805.1 174.36,805.1" fill="#F8766D" fill-opacity="0.09"/>
<polygon points="197.5,806.8 201.14,813.1 193.86,813.1" fill="#F8766D" fill-opacity="0.09"/>
<polygon points="199,857.8 202.64,864.1 195.36,864.1" fill="#F8766D" fill-opacity="0.09"/>
<polygon points="182.6,771.8 186.24,778.1 178.96,778.1" fill="#F8766D" fill-opacity="0.09"/>
<polygon points="185.6,778.8 189.24,785.1 181.96,785.1" fill="#F8766D" fill-opacity="0.09"/>
<polygon points="187,785.4 190.64,791.7 183.36,791.7" fill="#F8766D" fill-opacity="0.09"/>
<polygon points="197.6,786.8 201.24,793.1 193.96,793.1" fill="#F8766D" fill-opacity="0.09"/>
<circle cx="224.32" cy="701.29" r="2.8" fill="#5B9DEA" fill-opacity="0.08" stroke="#5B9DEA" stroke-opacity="0.11" stroke-width="0.9"/>
<circle cx="216.38" cy="699.49" r="2.8" fill="#5B9DEA" fill-opacity="0.08" stroke="#5B9DEA" stroke-opacity="0.11" stroke-width="0.9"/>
<circle cx="224.75" cy="697.13" r="2.8" fill="#5B9DEA" fill-opacity="0.08" stroke="#5B9DEA" stroke-opacity="0.11" stroke-width="0.9"/>
<circle cx="217.81" cy="693.67" r="2.8" fill="#5B9DEA" fill-opacity="0.08" stroke="#5B9DEA" stroke-opacity="0.11" stroke-width="0.9"/>
<circle cx="209.75" cy="691.06" r="2.8" fill="#5B9DEA" fill-opacity="0.08" stroke="#5B9DEA" stroke-opacity="0.11" stroke-width="0.9"/>
<circle cx="210.13" cy="698.39" r="2.8" fill="#5B9DEA" fill-opacity="0.08" stroke="#5B9DEA" stroke-opacity="0.11" stroke-width="0.9"/>
<circle cx="214.38" cy="691.46" r="2.8" fill="#5B9DEA" fill-opacity="0.08" stroke="#5B9DEA" stroke-opacity="0.11" stroke-width="0.9"/>
<circle cx="210.44" cy="699.6" r="2.8" fill="#5B9DEA" fill-opacity="0.08" stroke="#5B9DEA" stroke-opacity="0.11" stroke-width="0.9"/>
<circle cx="228.52" cy="697.55" r="2.8" fill="#5B9DEA" fill-opacity="0.08" stroke="#5B9DEA" stroke-opacity="0.11" stroke-width="0.9"/>
<circle cx="214.98" cy="692.41" r="2.8" fill="#5B9DEA" fill-opacity="0.08" stroke="#5B9DEA" stroke-opacity="0.11" stroke-width="0.9"/>
<circle cx="215.24" cy="695.01" r="2.8" fill="#5B9DEA" fill-opacity="0.08" stroke="#5B9DEA" stroke-opacity="0.11" stroke-width="0.9"/>
<circle cx="212.12" cy="694.85" r="2.8" fill="#5B9DEA" fill-opacity="0.08" stroke="#5B9DEA" stroke-opacity="0.11" stroke-width="0.9"/>
<circle cx="214.55" cy="701.04" r="2.8" fill="#5B9DEA" fill-opacity="0.08" stroke="#5B9DEA" stroke-opacity="0.11" stroke-width="0.9"/>
<circle cx="230.87" cy="696.06" r="2.8" fill="#5B9DEA" fill-opacity="0.08" stroke="#5B9DEA" stroke-opacity="0.11" stroke-width="0.9"/>
<circle cx="214.12" cy="701.09" r="2.8" fill="#5B9DEA" fill-opacity="0.08" stroke="#5B9DEA" stroke-opacity="0.11" stroke-width="0.9"/>
<circle cx="215.62" cy="693.78" r="2.8" fill="#5B9DEA" fill-opacity="0.08" stroke="#5B9DEA" stroke-opacity="0.11" stroke-width="0.9"/>
<circle cx="208.52" cy="694.08" r="2.8" fill="#5B9DEA" fill-opacity="0.08" stroke="#5B9DEA" stroke-opacity="0.11" stroke-width="0.9"/>
<circle cx="219.42" cy="695.53" r="2.8" fill="#5B9DEA" fill-opacity="0.08" stroke="#5B9DEA" stroke-opacity="0.11" stroke-width="0.9"/>
<circle cx="213.12" cy="695.56" r="2.8" fill="#5B9DEA" fill-opacity="0.08" stroke="#5B9DEA" stroke-opacity="0.11" stroke-width="0.9"/>
<circle cx="208.61" cy="692.67" r="2.8" fill="#5B9DEA" fill-opacity="0.08" stroke="#5B9DEA" stroke-opacity="0.11" stroke-width="0.9"/>
<circle cx="210.56" cy="694.29" r="2.8" fill="#5B9DEA" fill-opacity="0.08" stroke="#5B9DEA" stroke-opacity="0.11" stroke-width="0.9"/>
<circle cx="209.46" cy="689.77" r="2.8" fill="#5B9DEA" fill-opacity="0.08" stroke="#5B9DEA" stroke-opacity="0.11" stroke-width="0.9"/>
<circle cx="215.5" cy="692.29" r="2.8" fill="#5B9DEA" fill-opacity="0.08" stroke="#5B9DEA" stroke-opacity="0.11" stroke-width="0.9"/>
<circle cx="221.97" cy="695.85" r="2.8" fill="#5B9DEA" fill-opacity="0.08" stroke="#5B9DEA" stroke-opacity="0.11" stroke-width="0.9"/>
<circle cx="225.76" cy="697.39" r="2.8" fill="#5B9DEA" fill-opacity="0.08" stroke="#5B9DEA" stroke-opacity="0.11" stroke-width="0.9"/>
<circle cx="224.97" cy="700.05" r="2.8" fill="#5B9DEA" fill-opacity="0.08" stroke="#5B9DEA" stroke-opacity="0.11" stroke-width="0.9"/>
<circle cx="217.46" cy="693.41" r="2.8" fill="#5B9DEA" fill-opacity="0.08" stroke="#5B9DEA" stroke-opacity="0.11" stroke-width="0.9"/>
<circle cx="231.15" cy="691.29" r="2.8" fill="#5B9DEA" fill-opacity="0.08" stroke="#5B9DEA" stroke-opacity="0.11" stroke-width="0.9"/>
<circle cx="225.16" cy="697.22" r="2.8" fill="#5B9DEA" fill-opacity="0.08" stroke="#5B9DEA" stroke-opacity="0.11" stroke-width="0.9"/>
<circle cx="209.51" cy="699.52" r="2.8" fill="#5B9DEA" fill-opacity="0.08" stroke="#5B9DEA" stroke-opacity="0.11" stroke-width="0.9"/>
<circle cx="229.01" cy="697.03" r="2.8" fill="#5B9DEA" fill-opacity="0.08" stroke="#5B9DEA" stroke-opacity="0.11" stroke-width="0.9"/>
<circle cx="225.38" cy="699.25" r="2.8" fill="#5B9DEA" fill-opacity="0.08" stroke="#5B9DEA" stroke-opacity="0.11" stroke-width="0.9"/>
<circle cx="211.7" cy="695.79" r="2.8" fill="#5B9DEA" fill-opacity="0.08" stroke="#5B9DEA" stroke-opacity="0.11" stroke-width="0.9"/>
<circle cx="220.1" cy="699.52" r="2.8" fill="#5B9DEA" fill-opacity="0.08" stroke="#5B9DEA" stroke-opacity="0.11" stroke-width="0.9"/>
<circle cx="227.01" cy="699.42" r="2.8" fill="#5B9DEA" fill-opacity="0.08" stroke="#5B9DEA" stroke-opacity="0.11" stroke-width="0.9"/>
<circle cx="221.93" cy="700.21" r="2.8" fill="#5B9DEA" fill-opacity="0.08" stroke="#5B9DEA" stroke-opacity="0.11" stroke-width="0.9"/>
<circle cx="224.21" cy="697.82" r="2.8" fill="#5B9DEA" fill-opacity="0.08" stroke="#5B9DEA" stroke-opacity="0.11" stroke-width="0.9"/>
<circle cx="213.79" cy="689.87" r="2.8" fill="#5B9DEA" fill-opacity="0.08" stroke="#5B9DEA" stroke-opacity="0.11" stroke-width="0.9"/>
<circle cx="211.56" cy="693.83" r="2.8" fill="#5B9DEA" fill-opacity="0.08" stroke="#5B9DEA" stroke-opacity="0.11" stroke-width="0.9"/>
<circle cx="210.91" cy="699.53" r="2.8" fill="#5B9DEA" fill-opacity="0.08" stroke="#5B9DEA" stroke-opacity="0.11" stroke-width="0.9"/>
<circle cx="221.35" cy="697.03" r="2.8" fill="#5B9DEA" fill-opacity="0.08" stroke="#5B9DEA" stroke-opacity="0.11" stroke-width="0.9"/>
<circle cx="222.9" cy="697.67" r="2.8" fill="#5B9DEA" fill-opacity="0.08" stroke="#5B9DEA" stroke-opacity="0.11" stroke-width="0.9"/>
<circle cx="219.75" cy="689.54" r="2.8" fill="#5B9DEA" fill-opacity="0.08" stroke="#5B9DEA" stroke-opacity="0.11" stroke-width="0.9"/>
<circle cx="226.85" cy="698.48" r="2.8" fill="#5B9DEA" fill-opacity="0.08" stroke="#5B9DEA" stroke-opacity="0.11" stroke-width="0.9"/>
<circle cx="220.07" cy="695.92" r="2.8" fill="#5B9DEA" fill-opacity="0.08" stroke="#5B9DEA" stroke-opacity="0.11" stroke-width="0.9"/>
<circle cx="223.66" cy="690.29" r="2.8" fill="#5B9DEA" fill-opacity="0.08" stroke="#5B9DEA" stroke-opacity="0.11" stroke-width="0.9"/>
<circle cx="225.45" cy="692.53" r="2.8" fill="#5B9DEA" fill-opacity="0.08" stroke="#5B9DEA" stroke-opacity="0.11" stroke-width="0.9"/>
<circle cx="210.21" cy="692.69" r="2.8" fill="#5B9DEA" fill-opacity="0.08" stroke="#5B9DEA" stroke-opacity="0.11" stroke-width="0.9"/>
<circle cx="225.27" cy="691.96" r="2.8" fill="#5B9DEA" fill-opacity="0.08" stroke="#5B9DEA" stroke-opacity="0.11" stroke-width="0.9"/>
<circle cx="225.52" cy="701.21" r="2.8" fill="#5B9DEA" fill-opacity="0.08" stroke="#5B9DEA" stroke-opacity="0.11" stroke-width="0.9"/>
<circle cx="219.86" cy="694.09" r="2.8" fill="#5B9DEA" fill-opacity="0.08" stroke="#5B9DEA" stroke-opacity="0.11" stroke-width="0.9"/>
<circle cx="219.52" cy="697.7" r="2.8" fill="#5B9DEA" fill-opacity="0.08" stroke="#5B9DEA" stroke-opacity="0.11" stroke-width="0.9"/>
<circle cx="226.14" cy="696.9" r="2.8" fill="#5B9DEA" fill-opacity="0.08" stroke="#5B9DEA" stroke-opacity="0.11" stroke-width="0.9"/>
<circle cx="223.28" cy="690.43" r="2.8" fill="#5B9DEA" fill-opacity="0.08" stroke="#5B9DEA" stroke-opacity="0.11" stroke-width="0.9"/>
<circle cx="211.89" cy="692.55" r="2.8" fill="#5B9DEA" fill-opacity="0.08" stroke="#5B9DEA" stroke-opacity="0.11" stroke-width="0.9"/>
<circle cx="209.4" cy="711" r="2.8" fill="#5B9DEA" fill-opacity="0.08" stroke="#5B9DEA" stroke-opacity="0.11" stroke-width="0.9"/>
<circle cx="212.5" cy="708" r="2.8" fill="#5B9DEA" fill-opacity="0.08" stroke="#5B9DEA" stroke-opacity="0.11" stroke-width="0.9"/>
<circle cx="223" cy="711" r="2.8" fill="#5B9DEA" fill-opacity="0.08" stroke="#5B9DEA" stroke-opacity="0.11" stroke-width="0.9"/>
<polygon points="259.82,692.35 263.46,698.65 256.19,698.65" fill="#5B9DEA" fill-opacity="0.09"/>
<polygon points="255.26,682.71 258.9,689.01 251.63,689.01" fill="#5B9DEA" fill-opacity="0.09"/>
<polygon points="242.08,691.17 245.71,697.47 238.44,697.47" fill="#5B9DEA" fill-opacity="0.09"/>
<polygon points="257.97,705.14 261.61,711.44 254.34,711.44" fill="#5B9DEA" fill-opacity="0.09"/>
<polygon points="258.07,691.9 261.7,698.2 254.43,698.2" fill="#5B9DEA" fill-opacity="0.09"/>
<polygon points="253.93,697.64 257.57,703.93 250.29,703.93" fill="#5B9DEA" fill-opacity="0.09"/>
<polygon points="252.62,686.21 256.26,692.51 248.99,692.51" fill="#5B9DEA" fill-opacity="0.09"/>
<polygon points="263.74,688.88 267.37,695.17 260.1,695.17" fill="#5B9DEA" fill-opacity="0.09"/>
<polygon points="265.93,713.2 269.57,719.5 262.29,719.5" fill="#5B9DEA" fill-opacity="0.09"/>
<polygon points="240.96,697.45 244.59,703.75 237.32,703.75" fill="#5B9DEA" fill-opacity="0.09"/>
<polygon points="261.82,714.25 265.45,720.55 258.18,720.55" fill="#5B9DEA" fill-opacity="0.09"/>
<polygon points="252.19,691.17 255.82,697.47 248.55,697.47" fill="#5B9DEA" fill-opacity="0.09"/>
<polygon points="245.96,713.51 249.59,719.8 242.32,719.8" fill="#5B9DEA" fill-opacity="0.09"/>
<polygon points="245.98,701.49 249.61,707.79 242.34,707.79" fill="#5B9DEA" fill-opacity="0.09"/>
<polygon points="244.19,699.6 247.82,705.89 240.55,705.89" fill="#5B9DEA" fill-opacity="0.09"/>
<polygon points="265.27,686.68 268.91,692.98 261.63,692.98" fill="#5B9DEA" fill-opacity="0.09"/>
<polygon points="261.83,699.09 265.46,705.39 258.19,705.39" fill="#5B9DEA" fill-opacity="0.09"/>
<polygon points="263.56,705.51 267.19,711.81 259.92,711.81" fill="#5B9DEA" fill-opacity="0.09"/>
<polygon points="246.52,711.93 250.15,718.22 242.88,718.22" fill="#5B9DEA" fill-opacity="0.09"/>
<polygon points="253.14,683.12 256.78,689.42 249.5,689.42" fill="#5B9DEA" fill-opacity="0.09"/>
<polygon points="240.59,698.53 244.23,704.83 236.96,704.83" fill="#5B9DEA" fill-opacity="0.09"/>
<polygon points="252.22,692.27 255.86,698.56 248.58,698.56" fill="#5B9DEA" fill-opacity="0.09"/>
<polygon points="244.16,693.65 247.79,699.95 240.52,699.95" fill="#5B9DEA" fill-opacity="0.09"/>
<polygon points="248.72,710.03 252.35,716.33 245.08,716.33" fill="#5B9DEA" fill-opacity="0.09"/>
<polygon points="240.55,707.08 244.18,713.37 236.91,713.37" fill="#5B9DEA" fill-opacity="0.09"/>
<polygon points="262.32,686.26 265.95,692.56 258.68,692.56" fill="#5B9DEA" fill-opacity="0.09"/>
<polygon points="264.59,705.83 268.22,712.13 260.95,712.13" fill="#5B9DEA" fill-opacity="0.09"/>
<polygon points="263.94,691.87 267.58,698.16 260.3,698.16" fill="#5B9DEA" fill-opacity="0.09"/>
<polygon points="250.18,695.27 253.81,701.57 246.54,701.57" fill="#5B9DEA" fill-opacity="0.09"/>
<polygon points="266.47,701.74 270.1,708.04 262.83,708.04" fill="#5B9DEA" fill-opacity="0.09"/>
<polygon points="249.88,696.43 253.51,702.73 246.24,702.73" fill="#5B9DEA" fill-opacity="0.09"/>
<polygon points="247.65,683.89 251.29,690.19 244.02,690.19" fill="#5B9DEA" fill-opacity="0.09"/>
<polygon points="243.14,709.85 246.78,716.14 239.51,716.14" fill="#5B9DEA" fill-opacity="0.09"/>
<polygon points="247.93,713.18 251.56,719.47 244.29,719.47" fill="#5B9DEA" fill-opacity="0.09"/>
<polygon points="246.98,691.07 250.62,697.37 243.35,697.37" fill="#5B9DEA" fill-opacity="0.09"/>
<polygon points="253.79,688.57 257.42,694.86 250.15,694.86" fill="#5B9DEA" fill-opacity="0.09"/>
<polygon points="250.21,713.85 253.84,720.15 246.57,720.15" fill="#5B9DEA" fill-opacity="0.09"/>
<polygon points="263.49,709.1 267.13,715.39 259.85,715.39" fill="#5B9DEA" fill-opacity="0.09"/>
<polygon points="256.9,712.44 260.54,718.74 253.27,718.74" fill="#5B9DEA" fill-opacity="0.09"/>
<polygon points="264.96,700.43 268.59,706.72 261.32,706.72" fill="#5B9DEA" fill-opacity="0.09"/>
<polygon points="259.21,726.73 262.85,733.02 255.57,733.02" fill="#5B9DEA" fill-opacity="0.09"/>
<polygon points="259.54,746.39 263.18,752.69 255.9,752.69" fill="#5B9DEA" fill-opacity="0.09"/>
<polygon points="260.07,755.88 263.71,762.18 256.43,762.18" fill="#5B9DEA" fill-opacity="0.09"/>
<polygon points="247.94,726.7 251.58,733 244.31,733" fill="#5B9DEA" fill-opacity="0.09"/>
<polygon points="264.6,730.54 268.23,736.84 260.96,736.84" fill="#5B9DEA" fill-opacity="0.09"/>
<polygon points="252.78,741.14 256.41,747.44 249.14,747.44" fill="#5B9DEA" fill-opacity="0.09"/>
<polygon points="248.24,760.51 251.88,766.81 244.61,766.81" fill="#5B9DEA" fill-opacity="0.09"/>
<polygon points="265.88,737.05 269.52,743.35 262.25,743.35" fill="#5B9DEA" fill-opacity="0.09"/>
<polygon points="257.56,739.04 261.19,745.34 253.92,745.34" fill="#5B9DEA" fill-opacity="0.09"/>
<polygon points="254.99,743.63 258.63,749.92 251.35,749.92" fill="#5B9DEA" fill-opacity="0.09"/>
<polygon points="244.85,732.22 248.49,738.52 241.21,738.52" fill="#5B9DEA" fill-opacity="0.09"/>
<polygon points="245.9,768.69 249.54,774.99 242.27,774.99" fill="#5B9DEA" fill-opacity="0.09"/>
<circle cx="286.42" cy="699.68" r="2.8" fill="#5B9DEA" fill-opacity="0.08" stroke="#5B9DEA" stroke-opacity="0.11" stroke-width="0.9"/>
<circle cx="297.06" cy="714.43" r="2.8" fill="#5B9DEA" fill-opacity="0.08" stroke="#5B9DEA" stroke-opacity="0.11" stroke-width="0.9"/>
<circle cx="285.2" cy="698.15" r="2.8" fill="#5B9DEA" fill-opacity="0.08" stroke="#5B9DEA" stroke-opacity="0.11" stroke-width="0.9"/>
<circle cx="278.5" cy="697.22" r="2.8" fill="#5B9DEA" fill-opacity="0.08" stroke="#5B9DEA" stroke-opacity="0.11" stroke-width="0.9"/>
<circle cx="282.39" cy="697.23" r="2.8" fill="#5B9DEA" fill-opacity="0.08" stroke="#5B9DEA" stroke-opacity="0.11" stroke-width="0.9"/>
<circle cx="279.72" cy="700.41" r="2.8" fill="#5B9DEA" fill-opacity="0.08" stroke="#5B9DEA" stroke-opacity="0.11" stroke-width="0.9"/>
<circle cx="288.31" cy="712.36" r="2.8" fill="#5B9DEA" fill-opacity="0.08" stroke="#5B9DEA" stroke-opacity="0.11" stroke-width="0.9"/>
<circle cx="292.99" cy="703.34" r="2.8" fill="#5B9DEA" fill-opacity="0.08" stroke="#5B9DEA" stroke-opacity="0.11" stroke-width="0.9"/>
<circle cx="284.26" cy="705.46" r="2.8" fill="#5B9DEA" fill-opacity="0.08" stroke="#5B9DEA" stroke-opacity="0.11" stroke-width="0.9"/>
<circle cx="283.3" cy="701.93" r="2.8" fill="#5B9DEA" fill-opacity="0.08" stroke="#5B9DEA" stroke-opacity="0.11" stroke-width="0.9"/>
<circle cx="275.11" cy="700.77" r="2.8" fill="#5B9DEA" fill-opacity="0.08" stroke="#5B9DEA" stroke-opacity="0.11" stroke-width="0.9"/>
<circle cx="298.66" cy="697.89" r="2.8" fill="#5B9DEA" fill-opacity="0.08" stroke="#5B9DEA" stroke-opacity="0.11" stroke-width="0.9"/>
<circle cx="286.59" cy="707.46" r="2.8" fill="#5B9DEA" fill-opacity="0.08" stroke="#5B9DEA" stroke-opacity="0.11" stroke-width="0.9"/>
<circle cx="295.93" cy="699.6" r="2.8" fill="#5B9DEA" fill-opacity="0.08" stroke="#5B9DEA" stroke-opacity="0.11" stroke-width="0.9"/>
<circle cx="280.55" cy="700.22" r="2.8" fill="#5B9DEA" fill-opacity="0.08" stroke="#5B9DEA" stroke-opacity="0.11" stroke-width="0.9"/>
<circle cx="283.89" cy="703.97" r="2.8" fill="#5B9DEA" fill-opacity="0.08" stroke="#5B9DEA" stroke-opacity="0.11" stroke-width="0.9"/>
<circle cx="298.3" cy="711.62" r="2.8" fill="#5B9DEA" fill-opacity="0.08" stroke="#5B9DEA" stroke-opacity="0.11" stroke-width="0.9"/>
<circle cx="296.2" cy="695.91" r="2.8" fill="#5B9DEA" fill-opacity="0.08" stroke="#5B9DEA" stroke-opacity="0.11" stroke-width="0.9"/>
<circle cx="274.34" cy="708.98" r="2.8" fill="#5B9DEA" fill-opacity="0.08" stroke="#5B9DEA" stroke-opacity="0.11" stroke-width="0.9"/>
<circle cx="296.79" cy="704.49" r="2.8" fill="#5B9DEA" fill-opacity="0.08" stroke="#5B9DEA" stroke-opacity="0.11" stroke-width="0.9"/>
<circle cx="288.77" cy="695.5" r="2.8" fill="#5B9DEA" fill-opacity="0.08" stroke="#5B9DEA" stroke-opacity="0.11" stroke-width="0.9"/>
<circle cx="283.68" cy="713.11" r="2.8" fill="#5B9DEA" fill-opacity="0.08" stroke="#5B9DEA" stroke-opacity="0.11" stroke-width="0.9"/>
<circle cx="294.97" cy="711.75" r="2.8" fill="#5B9DEA" fill-opacity="0.08" stroke="#5B9DEA" stroke-opacity="0.11" stroke-width="0.9"/>
<circle cx="298.78" cy="700.22" r="2.8" fill="#5B9DEA" fill-opacity="0.08" stroke="#5B9DEA" stroke-opacity="0.11" stroke-width="0.9"/>
<circle cx="276.34" cy="698.43" r="2.8" fill="#5B9DEA" fill-opacity="0.08" stroke="#5B9DEA" stroke-opacity="0.11" stroke-width="0.9"/>
<circle cx="287.08" cy="708.46" r="2.8" fill="#5B9DEA" fill-opacity="0.08" stroke="#5B9DEA" stroke-opacity="0.11" stroke-width="0.9"/>
<circle cx="297.98" cy="709.21" r="2.8" fill="#5B9DEA" fill-opacity="0.08" stroke="#5B9DEA" stroke-opacity="0.11" stroke-width="0.9"/>
<circle cx="290.33" cy="710.03" r="2.8" fill="#5B9DEA" fill-opacity="0.08" stroke="#5B9DEA" stroke-opacity="0.11" stroke-width="0.9"/>
<circle cx="285.39" cy="705.98" r="2.8" fill="#5B9DEA" fill-opacity="0.08" stroke="#5B9DEA" stroke-opacity="0.11" stroke-width="0.9"/>
<circle cx="274.53" cy="710.36" r="2.8" fill="#5B9DEA" fill-opacity="0.08" stroke="#5B9DEA" stroke-opacity="0.11" stroke-width="0.9"/>
<circle cx="279.55" cy="712.98" r="2.8" fill="#5B9DEA" fill-opacity="0.08" stroke="#5B9DEA" stroke-opacity="0.11" stroke-width="0.9"/>
<circle cx="290.28" cy="701.27" r="2.8" fill="#5B9DEA" fill-opacity="0.08" stroke="#5B9DEA" stroke-opacity="0.11" stroke-width="0.9"/>
<circle cx="276.83" cy="700.28" r="2.8" fill="#5B9DEA" fill-opacity="0.08" stroke="#5B9DEA" stroke-opacity="0.11" stroke-width="0.9"/>
<circle cx="290.04" cy="708.77" r="2.8" fill="#5B9DEA" fill-opacity="0.08" stroke="#5B9DEA" stroke-opacity="0.11" stroke-width="0.9"/>
<circle cx="276.42" cy="696.84" r="2.8" fill="#5B9DEA" fill-opacity="0.08" stroke="#5B9DEA" stroke-opacity="0.11" stroke-width="0.9"/>
<circle cx="287.14" cy="706.57" r="2.8" fill="#5B9DEA" fill-opacity="0.08" stroke="#5B9DEA" stroke-opacity="0.11" stroke-width="0.9"/>
<circle cx="283.59" cy="699.75" r="2.8" fill="#5B9DEA" fill-opacity="0.08" stroke="#5B9DEA" stroke-opacity="0.11" stroke-width="0.9"/>
<circle cx="289.13" cy="695.7" r="2.8" fill="#5B9DEA" fill-opacity="0.08" stroke="#5B9DEA" stroke-opacity="0.11" stroke-width="0.9"/>
<circle cx="281.34" cy="704.25" r="2.8" fill="#5B9DEA" fill-opacity="0.08" stroke="#5B9DEA" stroke-opacity="0.11" stroke-width="0.9"/>
<circle cx="298.43" cy="707.75" r="2.8" fill="#5B9DEA" fill-opacity="0.08" stroke="#5B9DEA" stroke-opacity="0.11" stroke-width="0.9"/>
<circle cx="296.48" cy="704.53" r="2.8" fill="#5B9DEA" fill-opacity="0.08" stroke="#5B9DEA" stroke-opacity="0.11" stroke-width="0.9"/>
<circle cx="279.6" cy="700.19" r="2.8" fill="#5B9DEA" fill-opacity="0.08" stroke="#5B9DEA" stroke-opacity="0.11" stroke-width="0.9"/>
<circle cx="298.48" cy="708.89" r="2.8" fill="#5B9DEA" fill-opacity="0.08" stroke="#5B9DEA" stroke-opacity="0.11" stroke-width="0.9"/>
<circle cx="281.49" cy="695.91" r="2.8" fill="#5B9DEA" fill-opacity="0.08" stroke="#5B9DEA" stroke-opacity="0.11" stroke-width="0.9"/>
<circle cx="286.46" cy="708.31" r="2.8" fill="#5B9DEA" fill-opacity="0.08" stroke="#5B9DEA" stroke-opacity="0.11" stroke-width="0.9"/>
<circle cx="272.6" cy="722.5" r="2.8" fill="#5B9DEA" fill-opacity="0.08" stroke="#5B9DEA" stroke-opacity="0.11" stroke-width="0.9"/>
<circle cx="298" cy="723.7" r="2.8" fill="#5B9DEA" fill-opacity="0.08" stroke="#5B9DEA" stroke-opacity="0.11" stroke-width="0.9"/>
<circle cx="277.3" cy="737.6" r="2.8" fill="#5B9DEA" fill-opacity="0.08" stroke="#5B9DEA" stroke-opacity="0.11" stroke-width="0.9"/>
<circle cx="280.8" cy="744.6" r="2.8" fill="#5B9DEA" fill-opacity="0.08" stroke="#5B9DEA" stroke-opacity="0.11" stroke-width="0.9"/>
<circle cx="293.5" cy="743.4" r="2.8" fill="#5B9DEA" fill-opacity="0.08" stroke="#5B9DEA" stroke-opacity="0.11" stroke-width="0.9"/>
<circle cx="280.8" cy="755" r="2.8" fill="#5B9DEA" fill-opacity="0.08" stroke="#5B9DEA" stroke-opacity="0.11" stroke-width="0.9"/>
<circle cx="295.8" cy="758.5" r="2.8" fill="#5B9DEA" fill-opacity="0.08" stroke="#5B9DEA" stroke-opacity="0.11" stroke-width="0.9"/>
<circle cx="297" cy="769" r="2.8" fill="#5B9DEA" fill-opacity="0.08" stroke="#5B9DEA" stroke-opacity="0.11" stroke-width="0.9"/>
<circle cx="298" cy="795.6" r="2.8" fill="#5B9DEA" fill-opacity="0.08" stroke="#5B9DEA" stroke-opacity="0.11" stroke-width="0.9"/>
<circle cx="277.3" cy="802.5" r="2.8" fill="#5B9DEA" fill-opacity="0.08" stroke="#5B9DEA" stroke-opacity="0.11" stroke-width="0.9"/>
<circle cx="290" cy="806" r="2.8" fill="#5B9DEA" fill-opacity="0.08" stroke="#5B9DEA" stroke-opacity="0.11" stroke-width="0.9"/>
<circle cx="294" cy="822.2" r="2.8" fill="#5B9DEA" fill-opacity="0.08" stroke="#5B9DEA" stroke-opacity="0.11" stroke-width="0.9"/>
<circle cx="276" cy="828" r="2.8" fill="#5B9DEA" fill-opacity="0.08" stroke="#5B9DEA" stroke-opacity="0.11" stroke-width="0.9"/>
<circle cx="285.4" cy="833.8" r="2.8" fill="#5B9DEA" fill-opacity="0.08" stroke="#5B9DEA" stroke-opacity="0.11" stroke-width="0.9"/>
<circle cx="280.8" cy="837.3" r="2.8" fill="#5B9DEA" fill-opacity="0.08" stroke="#5B9DEA" stroke-opacity="0.11" stroke-width="0.9"/>
<circle cx="290" cy="843" r="2.8" fill="#5B9DEA" fill-opacity="0.08" stroke="#5B9DEA" stroke-opacity="0.11" stroke-width="0.9"/>
<circle cx="294" cy="850.5" r="2.8" fill="#5B9DEA" fill-opacity="0.08" stroke="#5B9DEA" stroke-opacity="0.11" stroke-width="0.9"/>
<polygon points="317.58,702.51 321.22,708.81 313.94,708.81" fill="#5B9DEA" fill-opacity="0.09"/>
<polygon points="323.52,744.59 327.15,750.88 319.88,750.88" fill="#5B9DEA" fill-opacity="0.09"/>
<polygon points="312.94,688.45 316.58,694.75 309.31,694.75" fill="#5B9DEA" fill-opacity="0.09"/>
<polygon points="315.61,712.8 319.25,719.09 311.98,719.09" fill="#5B9DEA" fill-opacity="0.09"/>
<polygon points="323.88,698.78 327.52,705.08 320.25,705.08" fill="#5B9DEA" fill-opacity="0.09"/>
<polygon points="326.63,732.87 330.27,739.16 322.99,739.16" fill="#5B9DEA" fill-opacity="0.09"/>
<polygon points="319.62,699.23 323.25,705.53 315.98,705.53" fill="#5B9DEA" fill-opacity="0.09"/>
<polygon points="330.78,705.94 334.41,712.24 327.14,712.24" fill="#5B9DEA" fill-opacity="0.09"/>
<polygon points="327.18,700.84 330.82,707.14 323.54,707.14" fill="#5B9DEA" fill-opacity="0.09"/>
<polygon points="312.81,734.21 316.45,740.51 309.18,740.51" fill="#5B9DEA" fill-opacity="0.09"/>
<polygon points="314.58,746.27 318.21,752.57 310.94,752.57" fill="#5B9DEA" fill-opacity="0.09"/>
<polygon points="319.4,698.1 323.03,704.4 315.76,704.4" fill="#5B9DEA" fill-opacity="0.09"/>
<polygon points="312.86,712.57 316.5,718.87 309.22,718.87" fill="#5B9DEA" fill-opacity="0.09"/>
<polygon points="323.47,746.07 327.1,752.37 319.83,752.37" fill="#5B9DEA" fill-opacity="0.09"/>
<polygon points="311.01,711.09 314.65,717.39 307.38,717.39" fill="#5B9DEA" fill-opacity="0.09"/>
<polygon points="312.61,747.67 316.25,753.97 308.97,753.97" fill="#5B9DEA" fill-opacity="0.09"/>
<polygon points="310.91,689.57 314.54,695.87 307.27,695.87" fill="#5B9DEA" fill-opacity="0.09"/>
<polygon points="308.94,711.08 312.58,717.38 305.31,717.38" fill="#5B9DEA" fill-opacity="0.09"/>
<polygon points="329.06,741.97 332.69,748.27 325.42,748.27" fill="#5B9DEA" fill-opacity="0.09"/>
<polygon points="325.09,749.15 328.72,755.44 321.45,755.44" fill="#5B9DEA" fill-opacity="0.09"/>
<polygon points="329.86,707.04 333.49,713.34 326.22,713.34" fill="#5B9DEA" fill-opacity="0.09"/>
<polygon points="311.95,745.26 315.59,751.56 308.32,751.56" fill="#5B9DEA" fill-opacity="0.09"/>
<polygon points="325.41,688.31 329.05,694.61 321.78,694.61" fill="#5B9DEA" fill-opacity="0.09"/>
<polygon points="323.45,710.15 327.08,716.45 319.81,716.45" fill="#5B9DEA" fill-opacity="0.09"/>
<polygon points="316.47,707.2 320.11,713.5 312.84,713.5" fill="#5B9DEA" fill-opacity="0.09"/>
<polygon points="311.56,686.48 315.2,692.78 307.93,692.78" fill="#5B9DEA" fill-opacity="0.09"/>
<polygon points="314.22,708.44 317.85,714.74 310.58,714.74" fill="#5B9DEA" fill-opacity="0.09"/>
<polygon points="330.43,694.09 334.07,700.39 326.8,700.39" fill="#5B9DEA" fill-opacity="0.09"/>
<polygon points="330.64,699.37 334.28,705.67 327.01,705.67" fill="#5B9DEA" fill-opacity="0.09"/>
<polygon points="316.06,738.06 319.7,744.36 312.42,744.36" fill="#5B9DEA" fill-opacity="0.09"/>
<polygon points="327.23,713.55 330.86,719.84 323.59,719.84" fill="#5B9DEA" fill-opacity="0.09"/>
<polygon points="308.68,716.13 312.32,722.43 305.05,722.43" fill="#5B9DEA" fill-opacity="0.09"/>
<polygon points="316.45,744.23 320.08,750.53 312.81,750.53" fill="#5B9DEA" fill-opacity="0.09"/>
<polygon points="312.13,709.25 315.77,715.55 308.5,715.55" fill="#5B9DEA" fill-opacity="0.09"/>
<polygon points="329.03,688.21 332.66,694.51 325.39,694.51" fill="#5B9DEA" fill-opacity="0.09"/>
<polygon points="323.6,768.2 327.24,774.5 319.96,774.5" fill="#5B9DEA" fill-opacity="0.09"/>
<polygon points="324.8,784.4 328.44,790.7 321.16,790.7" fill="#5B9DEA" fill-opacity="0.09"/>
<polygon points="324.8,804.1 328.44,810.4 321.16,810.4" fill="#5B9DEA" fill-opacity="0.09"/>
<polygon points="327,814.6 330.64,820.9 323.36,820.9" fill="#5B9DEA" fill-opacity="0.09"/>
<polygon points="317.8,819.2 321.44,825.5 314.16,825.5" fill="#5B9DEA" fill-opacity="0.09"/>
<polygon points="332.5,826.1 336.14,832.4 328.86,832.4" fill="#5B9DEA" fill-opacity="0.09"/>
<polygon points="312,833.1 315.64,839.4 308.36,839.4" fill="#5B9DEA" fill-opacity="0.09"/>
<polygon points="317.8,835.8 321.44,842.1 314.16,842.1" fill="#5B9DEA" fill-opacity="0.09"/>
<polygon points="307.4,880.6 311.04,886.9 303.76,886.9" fill="#5B9DEA" fill-opacity="0.09"/>
<polygon points="320.9,880.6 324.54,886.9 317.26,886.9" fill="#5B9DEA" fill-opacity="0.09"/>
<polygon points="322.5,886 326.14,892.3 318.86,892.3" fill="#5B9DEA" fill-opacity="0.09"/>
<polygon points="329.4,895.8 333.04,902.1 325.76,902.1" fill="#5B9DEA" fill-opacity="0.09"/>
<circle cx="350.18" cy="692.43" r="2.8" fill="#00BA38" fill-opacity="0.08" stroke="#00BA38" stroke-opacity="0.11" stroke-width="0.9"/>
<circle cx="359.43" cy="683.95" r="2.8" fill="#00BA38" fill-opacity="0.08" stroke="#00BA38" stroke-opacity="0.11" stroke-width="0.9"/>
<circle cx="340.41" cy="684.19" r="2.8" fill="#00BA38" fill-opacity="0.08" stroke="#00BA38" stroke-opacity="0.11" stroke-width="0.9"/>
<circle cx="363.42" cy="686.33" r="2.8" fill="#00BA38" fill-opacity="0.08" stroke="#00BA38" stroke-opacity="0.11" stroke-width="0.9"/>
<circle cx="358.93" cy="693.38" r="2.8" fill="#00BA38" fill-opacity="0.08" stroke="#00BA38" stroke-opacity="0.11" stroke-width="0.9"/>
<circle cx="348.32" cy="686.5" r="2.8" fill="#00BA38" fill-opacity="0.08" stroke="#00BA38" stroke-opacity="0.11" stroke-width="0.9"/>
<circle cx="364.4" cy="690.29" r="2.8" fill="#00BA38" fill-opacity="0.08" stroke="#00BA38" stroke-opacity="0.11" stroke-width="0.9"/>
<circle cx="346.32" cy="691.38" r="2.8" fill="#00BA38" fill-opacity="0.08" stroke="#00BA38" stroke-opacity="0.11" stroke-width="0.9"/>
<circle cx="347.73" cy="686.53" r="2.8" fill="#00BA38" fill-opacity="0.08" stroke="#00BA38" stroke-opacity="0.11" stroke-width="0.9"/>
<circle cx="339.6" cy="691.81" r="2.8" fill="#00BA38" fill-opacity="0.08" stroke="#00BA38" stroke-opacity="0.11" stroke-width="0.9"/>
<circle cx="363.33" cy="690.47" r="2.8" fill="#00BA38" fill-opacity="0.08" stroke="#00BA38" stroke-opacity="0.11" stroke-width="0.9"/>
<circle cx="364.02" cy="683.77" r="2.8" fill="#00BA38" fill-opacity="0.08" stroke="#00BA38" stroke-opacity="0.11" stroke-width="0.9"/>
<circle cx="345.58" cy="688.73" r="2.8" fill="#00BA38" fill-opacity="0.08" stroke="#00BA38" stroke-opacity="0.11" stroke-width="0.9"/>
<circle cx="364.38" cy="693.99" r="2.8" fill="#00BA38" fill-opacity="0.08" stroke="#00BA38" stroke-opacity="0.11" stroke-width="0.9"/>
<circle cx="349.55" cy="686.26" r="2.8" fill="#00BA38" fill-opacity="0.08" stroke="#00BA38" stroke-opacity="0.11" stroke-width="0.9"/>
<circle cx="350.68" cy="688.93" r="2.8" fill="#00BA38" fill-opacity="0.08" stroke="#00BA38" stroke-opacity="0.11" stroke-width="0.9"/>
<circle cx="363.63" cy="685.51" r="2.8" fill="#00BA38" fill-opacity="0.08" stroke="#00BA38" stroke-opacity="0.11" stroke-width="0.9"/>
<circle cx="360.37" cy="691.62" r="2.8" fill="#00BA38" fill-opacity="0.08" stroke="#00BA38" stroke-opacity="0.11" stroke-width="0.9"/>
<circle cx="360.89" cy="692" r="2.8" fill="#00BA38" fill-opacity="0.08" stroke="#00BA38" stroke-opacity="0.11" stroke-width="0.9"/>
<circle cx="355.29" cy="687.11" r="2.8" fill="#00BA38" fill-opacity="0.08" stroke="#00BA38" stroke-opacity="0.11" stroke-width="0.9"/>
<circle cx="347.81" cy="687.48" r="2.8" fill="#00BA38" fill-opacity="0.08" stroke="#00BA38" stroke-opacity="0.11" stroke-width="0.9"/>
<circle cx="359.84" cy="684.37" r="2.8" fill="#00BA38" fill-opacity="0.08" stroke="#00BA38" stroke-opacity="0.11" stroke-width="0.9"/>
<circle cx="344.63" cy="691.78" r="2.8" fill="#00BA38" fill-opacity="0.08" stroke="#00BA38" stroke-opacity="0.11" stroke-width="0.9"/>
<circle cx="345.93" cy="684.21" r="2.8" fill="#00BA38" fill-opacity="0.08" stroke="#00BA38" stroke-opacity="0.11" stroke-width="0.9"/>
<circle cx="340.38" cy="689.58" r="2.8" fill="#00BA38" fill-opacity="0.08" stroke="#00BA38" stroke-opacity="0.11" stroke-width="0.9"/>
<circle cx="347.97" cy="694.28" r="2.8" fill="#00BA38" fill-opacity="0.08" stroke="#00BA38" stroke-opacity="0.11" stroke-width="0.9"/>
<circle cx="362.47" cy="694.37" r="2.8" fill="#00BA38" fill-opacity="0.08" stroke="#00BA38" stroke-opacity="0.11" stroke-width="0.9"/>
<circle cx="346.39" cy="684.42" r="2.8" fill="#00BA38" fill-opacity="0.08" stroke="#00BA38" stroke-opacity="0.11" stroke-width="0.9"/>
<circle cx="342.01" cy="688.98" r="2.8" fill="#00BA38" fill-opacity="0.08" stroke="#00BA38" stroke-opacity="0.11" stroke-width="0.9"/>
<circle cx="357.95" cy="688.42" r="2.8" fill="#00BA38" fill-opacity="0.08" stroke="#00BA38" stroke-opacity="0.11" stroke-width="0.9"/>
<circle cx="345.59" cy="688.09" r="2.8" fill="#00BA38" fill-opacity="0.08" stroke="#00BA38" stroke-opacity="0.11" stroke-width="0.9"/>
<circle cx="355.63" cy="690.92" r="2.8" fill="#00BA38" fill-opacity="0.08" stroke="#00BA38" stroke-opacity="0.11" stroke-width="0.9"/>
<circle cx="358.95" cy="692.82" r="2.8" fill="#00BA38" fill-opacity="0.08" stroke="#00BA38" stroke-opacity="0.11" stroke-width="0.9"/>
<circle cx="356.78" cy="684.83" r="2.8" fill="#00BA38" fill-opacity="0.08" stroke="#00BA38" stroke-opacity="0.11" stroke-width="0.9"/>
<circle cx="361.36" cy="686.73" r="2.8" fill="#00BA38" fill-opacity="0.08" stroke="#00BA38" stroke-opacity="0.11" stroke-width="0.9"/>
<circle cx="354.24" cy="687.6" r="2.8" fill="#00BA38" fill-opacity="0.08" stroke="#00BA38" stroke-opacity="0.11" stroke-width="0.9"/>
<circle cx="358.69" cy="685.69" r="2.8" fill="#00BA38" fill-opacity="0.08" stroke="#00BA38" stroke-opacity="0.11" stroke-width="0.9"/>
<circle cx="345.93" cy="686.2" r="2.8" fill="#00BA38" fill-opacity="0.08" stroke="#00BA38" stroke-opacity="0.11" stroke-width="0.9"/>
<circle cx="343.49" cy="693.23" r="2.8" fill="#00BA38" fill-opacity="0.08" stroke="#00BA38" stroke-opacity="0.11" stroke-width="0.9"/>
<circle cx="354.54" cy="687.09" r="2.8" fill="#00BA38" fill-opacity="0.08" stroke="#00BA38" stroke-opacity="0.11" stroke-width="0.9"/>
<circle cx="349.8" cy="694.42" r="2.8" fill="#00BA38" fill-opacity="0.08" stroke="#00BA38" stroke-opacity="0.11" stroke-width="0.9"/>
<circle cx="352.69" cy="686.05" r="2.8" fill="#00BA38" fill-opacity="0.08" stroke="#00BA38" stroke-opacity="0.11" stroke-width="0.9"/>
<circle cx="360.52" cy="690.69" r="2.8" fill="#00BA38" fill-opacity="0.08" stroke="#00BA38" stroke-opacity="0.11" stroke-width="0.9"/>
<circle cx="365.26" cy="684.63" r="2.8" fill="#00BA38" fill-opacity="0.08" stroke="#00BA38" stroke-opacity="0.11" stroke-width="0.9"/>
<circle cx="351.84" cy="692.51" r="2.8" fill="#00BA38" fill-opacity="0.08" stroke="#00BA38" stroke-opacity="0.11" stroke-width="0.9"/>
<circle cx="361.35" cy="693.56" r="2.8" fill="#00BA38" fill-opacity="0.08" stroke="#00BA38" stroke-opacity="0.11" stroke-width="0.9"/>
<circle cx="340.55" cy="686.73" r="2.8" fill="#00BA38" fill-opacity="0.08" stroke="#00BA38" stroke-opacity="0.11" stroke-width="0.9"/>
<circle cx="342.6" cy="685.59" r="2.8" fill="#00BA38" fill-opacity="0.08" stroke="#00BA38" stroke-opacity="0.11" stroke-width="0.9"/>
<circle cx="364.8" cy="689.92" r="2.8" fill="#00BA38" fill-opacity="0.08" stroke="#00BA38" stroke-opacity="0.11" stroke-width="0.9"/>
<circle cx="363.68" cy="687.59" r="2.8" fill="#00BA38" fill-opacity="0.08" stroke="#00BA38" stroke-opacity="0.11" stroke-width="0.9"/>
<circle cx="362.02" cy="688.44" r="2.8" fill="#00BA38" fill-opacity="0.08" stroke="#00BA38" stroke-opacity="0.11" stroke-width="0.9"/>
<circle cx="346.26" cy="692.06" r="2.8" fill="#00BA38" fill-opacity="0.08" stroke="#00BA38" stroke-opacity="0.11" stroke-width="0.9"/>
<circle cx="364.09" cy="684.66" r="2.8" fill="#00BA38" fill-opacity="0.08" stroke="#00BA38" stroke-opacity="0.11" stroke-width="0.9"/>
<circle cx="355" cy="690.32" r="2.8" fill="#00BA38" fill-opacity="0.08" stroke="#00BA38" stroke-opacity="0.11" stroke-width="0.9"/>
<circle cx="345.16" cy="687.56" r="2.8" fill="#00BA38" fill-opacity="0.08" stroke="#00BA38" stroke-opacity="0.11" stroke-width="0.9"/>
<polygon points="377.18,749.28 380.81,755.57 373.54,755.57" fill="#00BA38" fill-opacity="0.09"/>
<polygon points="380.13,766.68 383.76,772.97 376.49,772.97" fill="#00BA38" fill-opacity="0.09"/>
<polygon points="390.44,749.25 394.08,755.55 386.81,755.55" fill="#00BA38" fill-opacity="0.09"/>
<polygon points="373.8,754.7 377.43,761 370.16,761" fill="#00BA38" fill-opacity="0.09"/>
<polygon points="391.14,748.45 394.77,754.75 387.5,754.75" fill="#00BA38" fill-opacity="0.09"/>
<polygon points="381.62,749.25 385.25,755.55 377.98,755.55" fill="#00BA38" fill-opacity="0.09"/>
<polygon points="394.18,764.42 397.81,770.71 390.54,770.71" fill="#00BA38" fill-opacity="0.09"/>
<polygon points="375.15,744.76 378.78,751.06 371.51,751.06" fill="#00BA38" fill-opacity="0.09"/>
<polygon points="383.78,764.51 387.41,770.81 380.14,770.81" fill="#00BA38" fill-opacity="0.09"/>
<polygon points="390.12,744.31 393.76,750.61 386.48,750.61" fill="#00BA38" fill-opacity="0.09"/>
<polygon points="377.76,770.9 381.39,777.2 374.12,777.2" fill="#00BA38" fill-opacity="0.09"/>
<polygon points="384.15,752.77 387.79,759.06 380.52,759.06" fill="#00BA38" fill-opacity="0.09"/>
<polygon points="381.5,782.24 385.13,788.54 377.86,788.54" fill="#00BA38" fill-opacity="0.09"/>
<polygon points="381.62,765.23 385.26,771.53 377.99,771.53" fill="#00BA38" fill-opacity="0.09"/>
<polygon points="382.79,758.62 386.42,764.92 379.15,764.92" fill="#00BA38" fill-opacity="0.09"/>
<polygon points="395.97,784.15 399.61,790.45 392.33,790.45" fill="#00BA38" fill-opacity="0.09"/>
<polygon points="382.96,748.98 386.59,755.28 379.32,755.28" fill="#00BA38" fill-opacity="0.09"/>
<polygon points="392.43,749.26 396.07,755.56 388.79,755.56" fill="#00BA38" fill-opacity="0.09"/>
<polygon points="373.65,779.97 377.29,786.27 370.02,786.27" fill="#00BA38" fill-opacity="0.09"/>
<polygon points="384.52,776.4 388.15,782.7 380.88,782.7" fill="#00BA38" fill-opacity="0.09"/>
<polygon points="384.06,779.15 387.7,785.44 380.43,785.44" fill="#00BA38" fill-opacity="0.09"/>
<polygon points="385.48,747.45 389.12,753.75 381.85,753.75" fill="#00BA38" fill-opacity="0.09"/>
<polygon points="373.89,764.57 377.52,770.87 370.25,770.87" fill="#00BA38" fill-opacity="0.09"/>
<polygon points="390.16,780.33 393.79,786.63 386.52,786.63" fill="#00BA38" fill-opacity="0.09"/>
<polygon points="375.81,767.68 379.45,773.98 372.18,773.98" fill="#00BA38" fill-opacity="0.09"/>
<polygon points="383.14,762.5 386.78,768.8 379.51,768.8" fill="#00BA38" fill-opacity="0.09"/>
<polygon points="377.29,752.77 380.93,759.06 373.66,759.06" fill="#00BA38" fill-opacity="0.09"/>
<polygon points="387.05,781.02 390.69,787.32 383.41,787.32" fill="#00BA38" fill-opacity="0.09"/>
<polygon points="376.33,761.88 379.96,768.18 372.69,768.18" fill="#00BA38" fill-opacity="0.09"/>
<polygon points="394.43,782.84 398.06,789.14 390.79,789.14" fill="#00BA38" fill-opacity="0.09"/>
<polygon points="378.63,745.87 382.27,752.17 374.99,752.17" fill="#00BA38" fill-opacity="0.09"/>
<polygon points="398.02,783.23 401.66,789.52 394.38,789.52" fill="#00BA38" fill-opacity="0.09"/>
<polygon points="386.05,742.65 389.69,748.95 382.41,748.95" fill="#00BA38" fill-opacity="0.09"/>
<polygon points="397.58,757.37 401.22,763.67 393.94,763.67" fill="#00BA38" fill-opacity="0.09"/>
<polygon points="397.01,767.6 400.65,773.89 393.37,773.89" fill="#00BA38" fill-opacity="0.09"/>
<polygon points="394.94,747.35 398.57,753.65 391.3,753.65" fill="#00BA38" fill-opacity="0.09"/>
<polygon points="393.93,750.07 397.57,756.37 390.3,756.37" fill="#00BA38" fill-opacity="0.09"/>
<polygon points="384.02,777.54 387.65,783.84 380.38,783.84" fill="#00BA38" fill-opacity="0.09"/>
<polygon points="395.06,748.35 398.7,754.65 391.42,754.65" fill="#00BA38" fill-opacity="0.09"/>
<polygon points="379.17,757.89 382.81,764.19 375.54,764.19" fill="#00BA38" fill-opacity="0.09"/>
<polygon points="386.97,757.18 390.6,763.48 383.33,763.48" fill="#00BA38" fill-opacity="0.09"/>
<polygon points="376.7,751.17 380.34,757.47 373.06,757.47" fill="#00BA38" fill-opacity="0.09"/>
<polygon points="392.35,779.78 395.98,786.08 388.71,786.08" fill="#00BA38" fill-opacity="0.09"/>
<polygon points="374.57,765.04 378.2,771.34 370.93,771.34" fill="#00BA38" fill-opacity="0.09"/>
<polygon points="393.19,741.98 396.83,748.28 389.56,748.28" fill="#00BA38" fill-opacity="0.09"/>
<polygon points="395.29,805.66 398.93,811.95 391.66,811.95" fill="#00BA38" fill-opacity="0.09"/>
<polygon points="389.09,814.3 392.72,820.6 385.45,820.6" fill="#00BA38" fill-opacity="0.09"/>
<polygon points="389.8,809.43 393.44,815.72 386.17,815.72" fill="#00BA38" fill-opacity="0.09"/>
<polygon points="384.42,814.95 388.06,821.25 380.79,821.25" fill="#00BA38" fill-opacity="0.09"/>
<polygon points="384.57,816.48 388.21,822.78 380.93,822.78" fill="#00BA38" fill-opacity="0.09"/>
<polygon points="385.12,812.07 388.75,818.37 381.48,818.37" fill="#00BA38" fill-opacity="0.09"/>
<polygon points="374.11,815.68 377.74,821.98 370.47,821.98" fill="#00BA38" fill-opacity="0.09"/>
<polygon points="386.23,808.01 389.86,814.3 382.59,814.3" fill="#00BA38" fill-opacity="0.09"/>
<polygon points="393.35,818.9 396.99,825.2 389.72,825.2" fill="#00BA38" fill-opacity="0.09"/>
<polygon points="385.42,806.89 389.05,813.19 381.78,813.19" fill="#00BA38" fill-opacity="0.09"/>
<polygon points="373,809.8 376.64,816.1 369.36,816.1" fill="#00BA38" fill-opacity="0.09"/>
<polygon points="373,825.8 376.64,832.1 369.36,832.1" fill="#00BA38" fill-opacity="0.09"/>
<polygon points="397.6,836.6 401.24,842.9 393.96,842.9" fill="#00BA38" fill-opacity="0.09"/>
<polygon points="397.6,851.6 401.24,857.9 393.96,857.9" fill="#00BA38" fill-opacity="0.09"/>
<polygon points="373,858.6 376.64,864.9 369.36,864.9" fill="#00BA38" fill-opacity="0.09"/>
<polygon points="394,859.8 397.64,866.1 390.36,866.1" fill="#00BA38" fill-opacity="0.09"/>
<polygon points="381.4,866.8 385.04,873.1 377.76,873.1" fill="#00BA38" fill-opacity="0.09"/>
<polygon points="386,867.8 389.64,874.1 382.36,874.1" fill="#00BA38" fill-opacity="0.09"/>
<circle cx="418.28" cy="689.43" r="2.8" fill="#00BA38" fill-opacity="0.08" stroke="#00BA38" stroke-opacity="0.11" stroke-width="0.9"/>
<circle cx="408.97" cy="695.25" r="2.8" fill="#00BA38" fill-opacity="0.08" stroke="#00BA38" stroke-opacity="0.11" stroke-width="0.9"/>
<circle cx="407.98" cy="695.46" r="2.8" fill="#00BA38" fill-opacity="0.08" stroke="#00BA38" stroke-opacity="0.11" stroke-width="0.9"/>
<circle cx="419.27" cy="688.23" r="2.8" fill="#00BA38" fill-opacity="0.08" stroke="#00BA38" stroke-opacity="0.11" stroke-width="0.9"/>
<circle cx="422.68" cy="688.98" r="2.8" fill="#00BA38" fill-opacity="0.08" stroke="#00BA38" stroke-opacity="0.11" stroke-width="0.9"/>
<circle cx="425.3" cy="701.5" r="2.8" fill="#00BA38" fill-opacity="0.08" stroke="#00BA38" stroke-opacity="0.11" stroke-width="0.9"/>
<circle cx="419.31" cy="688.48" r="2.8" fill="#00BA38" fill-opacity="0.08" stroke="#00BA38" stroke-opacity="0.11" stroke-width="0.9"/>
<circle cx="419.11" cy="694.3" r="2.8" fill="#00BA38" fill-opacity="0.08" stroke="#00BA38" stroke-opacity="0.11" stroke-width="0.9"/>
<circle cx="431.17" cy="689.95" r="2.8" fill="#00BA38" fill-opacity="0.08" stroke="#00BA38" stroke-opacity="0.11" stroke-width="0.9"/>
<circle cx="428.64" cy="705.43" r="2.8" fill="#00BA38" fill-opacity="0.08" stroke="#00BA38" stroke-opacity="0.11" stroke-width="0.9"/>
<circle cx="425.27" cy="702.17" r="2.8" fill="#00BA38" fill-opacity="0.08" stroke="#00BA38" stroke-opacity="0.11" stroke-width="0.9"/>
<circle cx="410.73" cy="705.17" r="2.8" fill="#00BA38" fill-opacity="0.08" stroke="#00BA38" stroke-opacity="0.11" stroke-width="0.9"/>
<circle cx="418.78" cy="704.72" r="2.8" fill="#00BA38" fill-opacity="0.08" stroke="#00BA38" stroke-opacity="0.11" stroke-width="0.9"/>
<circle cx="430.23" cy="690.47" r="2.8" fill="#00BA38" fill-opacity="0.08" stroke="#00BA38" stroke-opacity="0.11" stroke-width="0.9"/>
<circle cx="426.79" cy="704.25" r="2.8" fill="#00BA38" fill-opacity="0.08" stroke="#00BA38" stroke-opacity="0.11" stroke-width="0.9"/>
<circle cx="407.27" cy="693.82" r="2.8" fill="#00BA38" fill-opacity="0.08" stroke="#00BA38" stroke-opacity="0.11" stroke-width="0.9"/>
<circle cx="425.92" cy="690.36" r="2.8" fill="#00BA38" fill-opacity="0.08" stroke="#00BA38" stroke-opacity="0.11" stroke-width="0.9"/>
<circle cx="429.71" cy="692.45" r="2.8" fill="#00BA38" fill-opacity="0.08" stroke="#00BA38" stroke-opacity="0.11" stroke-width="0.9"/>
<circle cx="427.52" cy="690.08" r="2.8" fill="#00BA38" fill-opacity="0.08" stroke="#00BA38" stroke-opacity="0.11" stroke-width="0.9"/>
<circle cx="419.06" cy="704.06" r="2.8" fill="#00BA38" fill-opacity="0.08" stroke="#00BA38" stroke-opacity="0.11" stroke-width="0.9"/>
<circle cx="411.12" cy="692.23" r="2.8" fill="#00BA38" fill-opacity="0.08" stroke="#00BA38" stroke-opacity="0.11" stroke-width="0.9"/>
<circle cx="419.16" cy="693.24" r="2.8" fill="#00BA38" fill-opacity="0.08" stroke="#00BA38" stroke-opacity="0.11" stroke-width="0.9"/>
<circle cx="406.49" cy="690.78" r="2.8" fill="#00BA38" fill-opacity="0.08" stroke="#00BA38" stroke-opacity="0.11" stroke-width="0.9"/>
<circle cx="409.85" cy="704.36" r="2.8" fill="#00BA38" fill-opacity="0.08" stroke="#00BA38" stroke-opacity="0.11" stroke-width="0.9"/>
<circle cx="423.85" cy="703.62" r="2.8" fill="#00BA38" fill-opacity="0.08" stroke="#00BA38" stroke-opacity="0.11" stroke-width="0.9"/>
<circle cx="410.06" cy="701.63" r="2.8" fill="#00BA38" fill-opacity="0.08" stroke="#00BA38" stroke-opacity="0.11" stroke-width="0.9"/>
<circle cx="408.61" cy="697.05" r="2.8" fill="#00BA38" fill-opacity="0.08" stroke="#00BA38" stroke-opacity="0.11" stroke-width="0.9"/>
<circle cx="422.68" cy="693.98" r="2.8" fill="#00BA38" fill-opacity="0.08" stroke="#00BA38" stroke-opacity="0.11" stroke-width="0.9"/>
<circle cx="429.07" cy="697.49" r="2.8" fill="#00BA38" fill-opacity="0.08" stroke="#00BA38" stroke-opacity="0.11" stroke-width="0.9"/>
<circle cx="421.16" cy="703.39" r="2.8" fill="#00BA38" fill-opacity="0.08" stroke="#00BA38" stroke-opacity="0.11" stroke-width="0.9"/>
<circle cx="408.32" cy="705.37" r="2.8" fill="#00BA38" fill-opacity="0.08" stroke="#00BA38" stroke-opacity="0.11" stroke-width="0.9"/>
<circle cx="422.5" cy="694.6" r="2.8" fill="#00BA38" fill-opacity="0.08" stroke="#00BA38" stroke-opacity="0.11" stroke-width="0.9"/>
<circle cx="427.04" cy="692.27" r="2.8" fill="#00BA38" fill-opacity="0.08" stroke="#00BA38" stroke-opacity="0.11" stroke-width="0.9"/>
<circle cx="432.24" cy="697.89" r="2.8" fill="#00BA38" fill-opacity="0.08" stroke="#00BA38" stroke-opacity="0.11" stroke-width="0.9"/>
<circle cx="415.23" cy="701.26" r="2.8" fill="#00BA38" fill-opacity="0.08" stroke="#00BA38" stroke-opacity="0.11" stroke-width="0.9"/>
<circle cx="417.44" cy="690.68" r="2.8" fill="#00BA38" fill-opacity="0.08" stroke="#00BA38" stroke-opacity="0.11" stroke-width="0.9"/>
<circle cx="425.58" cy="688.37" r="2.8" fill="#00BA38" fill-opacity="0.08" stroke="#00BA38" stroke-opacity="0.11" stroke-width="0.9"/>
<circle cx="427.64" cy="692.07" r="2.8" fill="#00BA38" fill-opacity="0.08" stroke="#00BA38" stroke-opacity="0.11" stroke-width="0.9"/>
<circle cx="422.76" cy="705.21" r="2.8" fill="#00BA38" fill-opacity="0.08" stroke="#00BA38" stroke-opacity="0.11" stroke-width="0.9"/>
<circle cx="421.32" cy="699.45" r="2.8" fill="#00BA38" fill-opacity="0.08" stroke="#00BA38" stroke-opacity="0.11" stroke-width="0.9"/>
<circle cx="413.94" cy="687.53" r="2.8" fill="#00BA38" fill-opacity="0.08" stroke="#00BA38" stroke-opacity="0.11" stroke-width="0.9"/>
<circle cx="406.41" cy="690.19" r="2.8" fill="#00BA38" fill-opacity="0.08" stroke="#00BA38" stroke-opacity="0.11" stroke-width="0.9"/>
<circle cx="422.13" cy="695.28" r="2.8" fill="#00BA38" fill-opacity="0.08" stroke="#00BA38" stroke-opacity="0.11" stroke-width="0.9"/>
<circle cx="419.34" cy="703.62" r="2.8" fill="#00BA38" fill-opacity="0.08" stroke="#00BA38" stroke-opacity="0.11" stroke-width="0.9"/>
<circle cx="409.06" cy="691.59" r="2.8" fill="#00BA38" fill-opacity="0.08" stroke="#00BA38" stroke-opacity="0.11" stroke-width="0.9"/>
<circle cx="423.13" cy="687.9" r="2.8" fill="#00BA38" fill-opacity="0.08" stroke="#00BA38" stroke-opacity="0.11" stroke-width="0.9"/>
<circle cx="405.57" cy="693.89" r="2.8" fill="#00BA38" fill-opacity="0.08" stroke="#00BA38" stroke-opacity="0.11" stroke-width="0.9"/>
<circle cx="408.37" cy="693.93" r="2.8" fill="#00BA38" fill-opacity="0.08" stroke="#00BA38" stroke-opacity="0.11" stroke-width="0.9"/>
<circle cx="411.55" cy="698" r="2.8" fill="#00BA38" fill-opacity="0.08" stroke="#00BA38" stroke-opacity="0.11" stroke-width="0.9"/>
<circle cx="421.41" cy="691.18" r="2.8" fill="#00BA38" fill-opacity="0.08" stroke="#00BA38" stroke-opacity="0.11" stroke-width="0.9"/>
<circle cx="422.35" cy="696.05" r="2.8" fill="#00BA38" fill-opacity="0.08" stroke="#00BA38" stroke-opacity="0.11" stroke-width="0.9"/>
<circle cx="409.14" cy="704.36" r="2.8" fill="#00BA38" fill-opacity="0.08" stroke="#00BA38" stroke-opacity="0.11" stroke-width="0.9"/>
<circle cx="412.08" cy="690.19" r="2.8" fill="#00BA38" fill-opacity="0.08" stroke="#00BA38" stroke-opacity="0.11" stroke-width="0.9"/>
<circle cx="408.09" cy="698.99" r="2.8" fill="#00BA38" fill-opacity="0.08" stroke="#00BA38" stroke-opacity="0.11" stroke-width="0.9"/>
<circle cx="429.02" cy="701.58" r="2.8" fill="#00BA38" fill-opacity="0.08" stroke="#00BA38" stroke-opacity="0.11" stroke-width="0.9"/>
<polygon points="449.55,716.78 453.19,723.08 445.91,723.08" fill="#00BA38" fill-opacity="0.09"/>
<polygon points="439.79,736.19 443.42,742.49 436.15,742.49" fill="#00BA38" fill-opacity="0.09"/>
<polygon points="453.56,721.17 457.19,727.47 449.92,727.47" fill="#00BA38" fill-opacity="0.09"/>
<polygon points="455.64,725.93 459.28,732.23 452,732.23" fill="#00BA38" fill-opacity="0.09"/>
<polygon points="462.93,740.71 466.57,747.01 459.29,747.01" fill="#00BA38" fill-opacity="0.09"/>
<polygon points="445.71,749.38 449.35,755.68 442.08,755.68" fill="#00BA38" fill-opacity="0.09"/>
<polygon points="440.6,730.41 444.24,736.71 436.96,736.71" fill="#00BA38" fill-opacity="0.09"/>
<polygon points="449.65,715.42 453.29,721.72 446.01,721.72" fill="#00BA38" fill-opacity="0.09"/>
<polygon points="440.96,743.02 444.6,749.32 437.32,749.32" fill="#00BA38" fill-opacity="0.09"/>
<polygon points="439.81,731.4 443.45,737.7 436.17,737.7" fill="#00BA38" fill-opacity="0.09"/>
<polygon points="463.02,710.56 466.66,716.86 459.39,716.86" fill="#00BA38" fill-opacity="0.09"/>
<polygon points="444.49,734.31 448.12,740.61 440.85,740.61" fill="#00BA38" fill-opacity="0.09"/>
<polygon points="452.17,736.02 455.81,742.32 448.54,742.32" fill="#00BA38" fill-opacity="0.09"/>
<polygon points="459.83,712.21 463.47,718.51 456.2,718.51" fill="#00BA38" fill-opacity="0.09"/>
<polygon points="447.23,718.61 450.87,724.91 443.6,724.91" fill="#00BA38" fill-opacity="0.09"/>
<polygon points="440.71,748.66 444.35,754.96 437.08,754.96" fill="#00BA38" fill-opacity="0.09"/>
<polygon points="459.07,739.79 462.71,746.08 455.44,746.08" fill="#00BA38" fill-opacity="0.09"/>
<polygon points="439.66,746.37 443.3,752.67 436.02,752.67" fill="#00BA38" fill-opacity="0.09"/>
<polygon points="458.13,727.03 461.77,733.33 454.49,733.33" fill="#00BA38" fill-opacity="0.09"/>
<polygon points="458.04,726.38 461.68,732.68 454.41,732.68" fill="#00BA38" fill-opacity="0.09"/>
<polygon points="445.15,708.67 448.79,714.97 441.51,714.97" fill="#00BA38" fill-opacity="0.09"/>
<polygon points="445.31,705.28 448.94,711.58 441.67,711.58" fill="#00BA38" fill-opacity="0.09"/>
<polygon points="447.89,741.53 451.52,747.83 444.25,747.83" fill="#00BA38" fill-opacity="0.09"/>
<polygon points="456.88,746.41 460.51,752.71 453.24,752.71" fill="#00BA38" fill-opacity="0.09"/>
<polygon points="457.29,716.87 460.93,723.16 453.66,723.16" fill="#00BA38" fill-opacity="0.09"/>
<polygon points="453.34,725.54 456.98,731.84 449.71,731.84" fill="#00BA38" fill-opacity="0.09"/>
<polygon points="459.21,729.99 462.85,736.28 455.57,736.28" fill="#00BA38" fill-opacity="0.09"/>
<polygon points="446.13,736.04 449.77,742.34 442.5,742.34" fill="#00BA38" fill-opacity="0.09"/>
<polygon points="463.63,714.37 467.26,720.67 459.99,720.67" fill="#00BA38" fill-opacity="0.09"/>
<polygon points="461.5,704.08 465.14,710.38 457.86,710.38" fill="#00BA38" fill-opacity="0.09"/>
<polygon points="446.01,715.34 449.65,721.64 442.37,721.64" fill="#00BA38" fill-opacity="0.09"/>
<polygon points="458.1,751.48 461.73,757.78 454.46,757.78" fill="#00BA38" fill-opacity="0.09"/>
<polygon points="458.15,719.97 461.79,726.27 454.52,726.27" fill="#00BA38" fill-opacity="0.09"/>
<polygon points="461.5,720.06 465.14,726.36 457.87,726.36" fill="#00BA38" fill-opacity="0.09"/>
<polygon points="445.48,749.59 449.12,755.89 441.84,755.89" fill="#00BA38" fill-opacity="0.09"/>
<polygon points="455.27,738.64 458.9,744.93 451.63,744.93" fill="#00BA38" fill-opacity="0.09"/>
<polygon points="456.13,753.23 459.77,759.53 452.49,759.53" fill="#00BA38" fill-opacity="0.09"/>
<polygon points="451.24,746.13 454.87,752.42 447.6,752.42" fill="#00BA38" fill-opacity="0.09"/>
<polygon points="456.94,747.03 460.58,753.33 453.3,753.33" fill="#00BA38" fill-opacity="0.09"/>
<polygon points="450.43,740.26 454.07,746.56 446.79,746.56" fill="#00BA38" fill-opacity="0.09"/>
<polygon points="453.76,782.61 457.39,788.91 450.12,788.91" fill="#00BA38" fill-opacity="0.09"/>
<polygon points="444.8,799.3 448.44,805.6 441.16,805.6" fill="#00BA38" fill-opacity="0.09"/>
<polygon points="441.45,814.57 445.08,820.87 437.81,820.87" fill="#00BA38" fill-opacity="0.09"/>
<polygon points="443.11,767.73 446.75,774.03 439.48,774.03" fill="#00BA38" fill-opacity="0.09"/>
<polygon points="442.17,815.54 445.8,821.83 438.53,821.83" fill="#00BA38" fill-opacity="0.09"/>
<polygon points="448.12,773.82 451.76,780.12 444.49,780.12" fill="#00BA38" fill-opacity="0.09"/>
<polygon points="440.22,768.51 443.85,774.81 436.58,774.81" fill="#00BA38" fill-opacity="0.09"/>
<polygon points="456.82,799.9 460.45,806.2 453.18,806.2" fill="#00BA38" fill-opacity="0.09"/>
<polygon points="456.93,805.35 460.56,811.65 453.29,811.65" fill="#00BA38" fill-opacity="0.09"/>
<polygon points="441.14,797.6 444.78,803.89 437.51,803.89" fill="#00BA38" fill-opacity="0.09"/>
<circle cx="477.6" cy="692.4" r="2.8" fill="#C77CFF" fill-opacity="0.08" stroke="#C77CFF" stroke-opacity="0.11" stroke-width="0.9"/>
<circle cx="474.1" cy="699.3" r="2.8" fill="#C77CFF" fill-opacity="0.08" stroke="#C77CFF" stroke-opacity="0.11" stroke-width="0.9"/>
<circle cx="478.8" cy="700.5" r="2.8" fill="#C77CFF" fill-opacity="0.08" stroke="#C77CFF" stroke-opacity="0.11" stroke-width="0.9"/>
<circle cx="484.5" cy="698.2" r="2.8" fill="#C77CFF" fill-opacity="0.08" stroke="#C77CFF" stroke-opacity="0.11" stroke-width="0.9"/>
<circle cx="489.2" cy="699.3" r="2.8" fill="#C77CFF" fill-opacity="0.08" stroke="#C77CFF" stroke-opacity="0.11" stroke-width="0.9"/>
<circle cx="498.5" cy="699.3" r="2.8" fill="#C77CFF" fill-opacity="0.08" stroke="#C77CFF" stroke-opacity="0.11" stroke-width="0.9"/>
<circle cx="495" cy="708.6" r="2.8" fill="#C77CFF" fill-opacity="0.08" stroke="#C77CFF" stroke-opacity="0.11" stroke-width="0.9"/>
<circle cx="499.6" cy="706.3" r="2.8" fill="#C77CFF" fill-opacity="0.08" stroke="#C77CFF" stroke-opacity="0.11" stroke-width="0.9"/>
<circle cx="500.8" cy="713.3" r="2.8" fill="#C77CFF" fill-opacity="0.08" stroke="#C77CFF" stroke-opacity="0.11" stroke-width="0.9"/>
<circle cx="478.8" cy="709.8" r="2.8" fill="#C77CFF" fill-opacity="0.08" stroke="#C77CFF" stroke-opacity="0.11" stroke-width="0.9"/>
<circle cx="481.1" cy="717.9" r="2.8" fill="#C77CFF" fill-opacity="0.08" stroke="#C77CFF" stroke-opacity="0.11" stroke-width="0.9"/>
<circle cx="483.4" cy="721.4" r="2.8" fill="#C77CFF" fill-opacity="0.08" stroke="#C77CFF" stroke-opacity="0.11" stroke-width="0.9"/>
<circle cx="475.3" cy="723.7" r="2.8" fill="#C77CFF" fill-opacity="0.08" stroke="#C77CFF" stroke-opacity="0.11" stroke-width="0.9"/>
<circle cx="482.2" cy="724.9" r="2.8" fill="#C77CFF" fill-opacity="0.08" stroke="#C77CFF" stroke-opacity="0.11" stroke-width="0.9"/>
<circle cx="491.5" cy="717.9" r="2.8" fill="#C77CFF" fill-opacity="0.08" stroke="#C77CFF" stroke-opacity="0.11" stroke-width="0.9"/>
<circle cx="493.8" cy="716.7" r="2.8" fill="#C77CFF" fill-opacity="0.08" stroke="#C77CFF" stroke-opacity="0.11" stroke-width="0.9"/>
<circle cx="497.3" cy="715.6" r="2.8" fill="#C77CFF" fill-opacity="0.08" stroke="#C77CFF" stroke-opacity="0.11" stroke-width="0.9"/>
<circle cx="496.1" cy="721.4" r="2.8" fill="#C77CFF" fill-opacity="0.08" stroke="#C77CFF" stroke-opacity="0.11" stroke-width="0.9"/>
<circle cx="485.7" cy="731.8" r="2.8" fill="#C77CFF" fill-opacity="0.08" stroke="#C77CFF" stroke-opacity="0.11" stroke-width="0.9"/>
<circle cx="480" cy="703" r="2.8" fill="#C77CFF" fill-opacity="0.08" stroke="#C77CFF" stroke-opacity="0.11" stroke-width="0.9"/>
<circle cx="490" cy="710" r="2.8" fill="#C77CFF" fill-opacity="0.08" stroke="#C77CFF" stroke-opacity="0.11" stroke-width="0.9"/>
<circle cx="487" cy="722" r="2.8" fill="#C77CFF" fill-opacity="0.08" stroke="#C77CFF" stroke-opacity="0.11" stroke-width="0.9"/>
<polygon points="507.7,699.8 511.34,706.1 504.06,706.1" fill="#C77CFF" fill-opacity="0.09"/>
<polygon points="512.2,695.1 515.84,701.4 508.56,701.4" fill="#C77CFF" fill-opacity="0.09"/>
<polygon points="518.2,695.1 521.84,701.4 514.56,701.4" fill="#C77CFF" fill-opacity="0.09"/>
<polygon points="525.1,690.5 528.74,696.8 521.46,696.8" fill="#C77CFF" fill-opacity="0.09"/>
<polygon points="528.6,709.1 532.24,715.4 524.96,715.4" fill="#C77CFF" fill-opacity="0.09"/>
<polygon points="524,702.1 527.64,708.4 520.36,708.4" fill="#C77CFF" fill-opacity="0.09"/>
<polygon points="526.3,718.3 529.94,724.6 522.66,724.6" fill="#C77CFF" fill-opacity="0.09"/>
<polygon points="525.1,724.1 528.74,730.4 521.46,730.4" fill="#C77CFF" fill-opacity="0.09"/>
<polygon points="527.4,728.8 531.04,735.1 523.76,735.1" fill="#C77CFF" fill-opacity="0.09"/>
<polygon points="507.7,727.6 511.34,733.9 504.06,733.9" fill="#C77CFF" fill-opacity="0.09"/>
<polygon points="511.2,733.4 514.84,739.7 507.56,739.7" fill="#C77CFF" fill-opacity="0.09"/>
<polygon points="513.5,738 517.14,744.3 509.86,744.3" fill="#C77CFF" fill-opacity="0.09"/>
<polygon points="506.6,746.2 510.24,752.5 502.96,752.5" fill="#C77CFF" fill-opacity="0.09"/>
<polygon points="515.8,768.2 519.44,774.5 512.16,774.5" fill="#C77CFF" fill-opacity="0.09"/>
<polygon points="507.7,784.4 511.34,790.7 504.06,790.7" fill="#C77CFF" fill-opacity="0.09"/>
<polygon points="511.2,787.9 514.84,794.2 507.56,794.2" fill="#C77CFF" fill-opacity="0.09"/>
<polygon points="513.5,794.8 517.14,801.1 509.86,801.1" fill="#C77CFF" fill-opacity="0.09"/>
<polygon points="529.8,789 533.44,795.3 526.16,795.3" fill="#C77CFF" fill-opacity="0.09"/>
<polygon points="526.3,804.1 529.94,810.4 522.66,810.4" fill="#C77CFF" fill-opacity="0.09"/>
<polygon points="527.4,809.9 531.04,816.2 523.76,816.2" fill="#C77CFF" fill-opacity="0.09"/>
<polygon points="511.2,816.8 514.84,823.1 507.56,823.1" fill="#C77CFF" fill-opacity="0.09"/>
<polygon points="521.6,837.8 525.24,844.1 517.96,844.1" fill="#C77CFF" fill-opacity="0.09"/>
<line x1="85.7" y1="686" x2="85.7" y2="720" stroke="#F8766D" stroke-width="1.9"/>
<circle cx="85.7" cy="703" r="5" fill="#F8766D"/>
<line x1="119.11" y1="717" x2="119.11" y2="777.4" stroke="#F8766D" stroke-width="1.9"/>
<polygon points="119.11,741.75 124.09,750.38 114.13,750.38" fill="#F8766D"/>
<line x1="152.52" y1="699" x2="152.52" y2="714.4" stroke="#F8766D" stroke-width="1.9"/>
<circle cx="152.52" cy="707" r="5" fill="#F8766D"/>
<line x1="185.93" y1="698.4" x2="185.93" y2="765" stroke="#F8766D" stroke-width="1.9"/>
<polygon points="185.93,726.35 190.91,734.98 180.95,734.98" fill="#F8766D"/>
<line x1="219.34" y1="692" x2="219.34" y2="700" stroke="#5B9DEA" stroke-width="1.9"/>
<circle cx="219.34" cy="696" r="5" fill="#5B9DEA"/>
<line x1="252.75" y1="693" x2="252.75" y2="736" stroke="#5B9DEA" stroke-width="1.9"/>
<polygon points="252.75,709.35 257.73,717.98 247.77,717.98" fill="#5B9DEA"/>
<line x1="286.16" y1="685.4" x2="286.16" y2="766.4" stroke="#5B9DEA" stroke-width="1.9"/>
<circle cx="286.16" cy="725.6" r="5" fill="#5B9DEA"/>
<line x1="319.57" y1="694.4" x2="319.57" y2="794.4" stroke="#5B9DEA" stroke-width="1.9"/>
<polygon points="319.57,739.35 324.55,747.98 314.59,747.98" fill="#5B9DEA"/>
<line x1="352.98" y1="685" x2="352.98" y2="691" stroke="#00BA38" stroke-width="1.9"/>
<circle cx="352.98" cy="688" r="5" fill="#00BA38"/>
<line x1="386.39" y1="752" x2="386.39" y2="825" stroke="#00BA38" stroke-width="1.9"/>
<polygon points="386.39,783.35 391.37,791.98 381.41,791.98" fill="#00BA38"/>
<line x1="419.8" y1="691" x2="419.8" y2="699" stroke="#00BA38" stroke-width="1.9"/>
<circle cx="419.8" cy="695" r="5" fill="#00BA38"/>
<line x1="453.21" y1="718" x2="453.21" y2="769.6" stroke="#00BA38" stroke-width="1.9"/>
<polygon points="453.21,738.35 458.19,746.98 448.23,746.98" fill="#00BA38"/>
<line x1="486.62" y1="700" x2="486.62" y2="721.6" stroke="#C77CFF" stroke-width="1.9"/>
<circle cx="486.62" cy="711" r="5" fill="#C77CFF"/>
<line x1="520.03" y1="709" x2="520.03" y2="797" stroke="#C77CFF" stroke-width="1.9"/>
<polygon points="520.03,748.35 525.01,756.98 515.05,756.98" fill="#C77CFF"/>
<path d="M85.7 675.6V672.6H119.11V675.6" fill="none" stroke="#333" stroke-width="1"/>
<text x="96.41" y="665.9" font-size="9.5" text-anchor="middle" fill="#333" stroke="#333" stroke-width="0.25" >*</text>
<text x="102.41" y="665.9" font-size="9.5" text-anchor="middle" fill="#333" stroke="#333" stroke-width="0.25" >*</text>
<text x="108.41" y="665.9" font-size="9.5" text-anchor="middle" fill="#333" stroke="#333" stroke-width="0.25" >*</text>
<path d="M152.52 675.6V672.6H185.93V675.6" fill="none" stroke="#333" stroke-width="1"/>
<text x="163.22" y="665.9" font-size="9.5" text-anchor="middle" fill="#333" stroke="#333" stroke-width="0.25" >*</text>
<text x="169.22" y="665.9" font-size="9.5" text-anchor="middle" fill="#333" stroke="#333" stroke-width="0.25" >*</text>
<text x="175.22" y="665.9" font-size="9.5" text-anchor="middle" fill="#333" stroke="#333" stroke-width="0.25" >*</text>
<path d="M219.34 675.6V672.6H252.75V675.6" fill="none" stroke="#333" stroke-width="1"/>
<text x="230.04" y="665.9" font-size="9.5" text-anchor="middle" fill="#333" stroke="#333" stroke-width="0.25" >*</text>
<text x="236.04" y="665.9" font-size="9.5" text-anchor="middle" fill="#333" stroke="#333" stroke-width="0.25" >*</text>
<text x="242.04" y="665.9" font-size="9.5" text-anchor="middle" fill="#333" stroke="#333" stroke-width="0.25" >*</text>
<path d="M286.16 675.6V672.6H319.57V675.6" fill="none" stroke="#333" stroke-width="1"/>
<text x="299.87" y="665.9" font-size="9.5" text-anchor="middle" fill="#333" stroke="#333" stroke-width="0.25" >*</text>
<text x="305.87" y="665.9" font-size="9.5" text-anchor="middle" fill="#333" stroke="#333" stroke-width="0.25" >*</text>
<path d="M352.98 675.6V672.6H386.39V675.6" fill="none" stroke="#333" stroke-width="1"/>
<text x="363.68" y="665.9" font-size="9.5" text-anchor="middle" fill="#333" stroke="#333" stroke-width="0.25" >*</text>
<text x="369.68" y="665.9" font-size="9.5" text-anchor="middle" fill="#333" stroke="#333" stroke-width="0.25" >*</text>
<text x="375.68" y="665.9" font-size="9.5" text-anchor="middle" fill="#333" stroke="#333" stroke-width="0.25" >*</text>
<path d="M419.8 675.6V672.6H453.21V675.6" fill="none" stroke="#333" stroke-width="1"/>
<text x="430.5" y="665.9" font-size="9.5" text-anchor="middle" fill="#333" stroke="#333" stroke-width="0.25" >*</text>
<text x="436.5" y="665.9" font-size="9.5" text-anchor="middle" fill="#333" stroke="#333" stroke-width="0.25" >*</text>
<text x="442.5" y="665.9" font-size="9.5" text-anchor="middle" fill="#333" stroke="#333" stroke-width="0.25" >*</text>
<path d="M486.62 675.6V672.6H520.03V675.6" fill="none" stroke="#333" stroke-width="1"/>
<text x="497.32" y="665.9" font-size="9.5" text-anchor="middle" fill="#333" stroke="#333" stroke-width="0.25" >*</text>
<text x="503.32" y="665.9" font-size="9.5" text-anchor="middle" fill="#333" stroke="#333" stroke-width="0.25" >*</text>
<text x="509.32" y="665.9" font-size="9.5" text-anchor="middle" fill="#333" stroke="#333" stroke-width="0.25" >*</text>
<path d="M65.6 32V282.8H540" fill="none" stroke="#2E2E2E" stroke-width="1.2"/>
<path d="M65.6 359.4V609.8H540" fill="none" stroke="#2E2E2E" stroke-width="1.2"/>
<path d="M65.6 661V912H540" fill="none" stroke="#2E2E2E" stroke-width="1.2"/>
<line x1="61.8" x2="65.6" y1="47.8" y2="47.8" stroke="#2E2E2E" stroke-width="1.2"/>
<text x="59" y="52.1" font-size="12" text-anchor="end" fill="#333333" stroke="#333333" stroke-width="0.25" >1</text>
<line x1="61.8" x2="65.6" y1="109.5" y2="109.5" stroke="#2E2E2E" stroke-width="1.2"/>
<text x="59" y="113.8" font-size="12" text-anchor="end" fill="#333333" stroke="#333333" stroke-width="0.25" >0</text>
<line x1="61.8" x2="65.6" y1="171.2" y2="171.2" stroke="#2E2E2E" stroke-width="1.2"/>
<text x="59" y="175.5" font-size="12" text-anchor="end" fill="#333333" stroke="#333333" stroke-width="0.25" >−1</text>
<line x1="61.8" x2="65.6" y1="232.9" y2="232.9" stroke="#2E2E2E" stroke-width="1.2"/>
<text x="59" y="237.2" font-size="12" text-anchor="end" fill="#333333" stroke="#333333" stroke-width="0.25" >−2</text>
<line x1="101.2" x2="101.2" y1="282.8" y2="286.8" stroke="#2E2E2E" stroke-width="1.2"/>
<text x="101.2" y="299.2" font-size="12" text-anchor="middle" fill="#333333" stroke="#333333" stroke-width="0.25" >−2</text>
<line x1="184.3" x2="184.3" y1="282.8" y2="286.8" stroke="#2E2E2E" stroke-width="1.2"/>
<text x="184.3" y="299.2" font-size="12" text-anchor="middle" fill="#333333" stroke="#333333" stroke-width="0.25" >−1</text>
<line x1="267.4" x2="267.4" y1="282.8" y2="286.8" stroke="#2E2E2E" stroke-width="1.2"/>
<text x="267.4" y="299.2" font-size="12" text-anchor="middle" fill="#333333" stroke="#333333" stroke-width="0.25" >0</text>
<line x1="350.6" x2="350.6" y1="282.8" y2="286.8" stroke="#2E2E2E" stroke-width="1.2"/>
<text x="350.6" y="299.2" font-size="12" text-anchor="middle" fill="#333333" stroke="#333333" stroke-width="0.25" >1</text>
<line x1="433.8" x2="433.8" y1="282.8" y2="286.8" stroke="#2E2E2E" stroke-width="1.2"/>
<text x="433.8" y="299.2" font-size="12" text-anchor="middle" fill="#333333" stroke="#333333" stroke-width="0.25" >2</text>
<line x1="517" x2="517" y1="282.8" y2="286.8" stroke="#2E2E2E" stroke-width="1.2"/>
<text x="517" y="299.2" font-size="12" text-anchor="middle" fill="#333333" stroke="#333333" stroke-width="0.25" >3</text>
<line x1="61.8" x2="65.6" y1="405.8" y2="405.8" stroke="#2E2E2E" stroke-width="1.2"/>
<text x="59" y="410.1" font-size="12" text-anchor="end" fill="#333333" stroke="#333333" stroke-width="0.25" >1</text>
<line x1="61.8" x2="65.6" y1="462.7" y2="462.7" stroke="#2E2E2E" stroke-width="1.2"/>
<text x="59" y="467" font-size="12" text-anchor="end" fill="#333333" stroke="#333333" stroke-width="0.25" >0</text>
<line x1="61.8" x2="65.6" y1="519.7" y2="519.7" stroke="#2E2E2E" stroke-width="1.2"/>
<text x="59" y="524" font-size="12" text-anchor="end" fill="#333333" stroke="#333333" stroke-width="0.25" >−1</text>
<line x1="61.8" x2="65.6" y1="576.7" y2="576.7" stroke="#2E2E2E" stroke-width="1.2"/>
<text x="59" y="581" font-size="12" text-anchor="end" fill="#333333" stroke="#333333" stroke-width="0.25" >−2</text>
<line x1="178.4" x2="178.4" y1="609.8" y2="613.8" stroke="#2E2E2E" stroke-width="1.2"/>
<text x="178.4" y="626.1" font-size="12" text-anchor="middle" fill="#333333" stroke="#333333" stroke-width="0.25" >−1</text>
<line x1="295.8" x2="295.8" y1="609.8" y2="613.8" stroke="#2E2E2E" stroke-width="1.2"/>
<text x="295.8" y="626.1" font-size="12" text-anchor="middle" fill="#333333" stroke="#333333" stroke-width="0.25" >0</text>
<line x1="413.5" x2="413.5" y1="609.8" y2="613.8" stroke="#2E2E2E" stroke-width="1.2"/>
<text x="413.5" y="626.1" font-size="12" text-anchor="middle" fill="#333333" stroke="#333333" stroke-width="0.25" >1</text>
<line x1="531" x2="531" y1="609.8" y2="613.8" stroke="#2E2E2E" stroke-width="1.2"/>
<text x="531" y="626.1" font-size="12" text-anchor="middle" fill="#333333" stroke="#333333" stroke-width="0.25" >2</text>
<line x1="61.8" x2="65.6" y1="680.95" y2="680.95" stroke="#2E2E2E" stroke-width="1.2"/>
<text x="59" y="685.25" font-size="12" text-anchor="end" fill="#333333" stroke="#333333" stroke-width="0.25" >1.0</text>
<line x1="61.8" x2="65.6" y1="762.85" y2="762.85" stroke="#2E2E2E" stroke-width="1.2"/>
<text x="59" y="767.15" font-size="12" text-anchor="end" fill="#333333" stroke="#333333" stroke-width="0.25" >0.8</text>
<line x1="61.8" x2="65.6" y1="844.75" y2="844.75" stroke="#2E2E2E" stroke-width="1.2"/>
<text x="59" y="849.05" font-size="12" text-anchor="end" fill="#333333" stroke="#333333" stroke-width="0.25" >0.6</text>
<line x1="85.7" x2="85.7" y1="912" y2="915.8" stroke="#2E2E2E" stroke-width="1.2"/>
<text transform="translate(95.2 946.3) rotate(-90)" font-size="12" text-anchor="middle" fill="#333333">16S_1W</text>
<line x1="119.11" x2="119.11" y1="912" y2="915.8" stroke="#2E2E2E" stroke-width="1.2"/>
<text transform="translate(128.61 946.3) rotate(-90)" font-size="12" text-anchor="middle" fill="#333333">ITS_1W</text>
<line x1="152.52" x2="152.52" y1="912" y2="915.8" stroke="#2E2E2E" stroke-width="1.2"/>
<text transform="translate(162.02 946.3) rotate(-90)" font-size="12" text-anchor="middle" fill="#333333">16S_10W</text>
<line x1="185.93" x2="185.93" y1="912" y2="915.8" stroke="#2E2E2E" stroke-width="1.2"/>
<text transform="translate(195.43 946.3) rotate(-90)" font-size="12" text-anchor="middle" fill="#333333">ITS_10W</text>
<line x1="219.34" x2="219.34" y1="912" y2="915.8" stroke="#2E2E2E" stroke-width="1.2"/>
<text transform="translate(228.84 946.3) rotate(-90)" font-size="12" text-anchor="middle" fill="#333333">16S_1W</text>
<line x1="252.75" x2="252.75" y1="912" y2="915.8" stroke="#2E2E2E" stroke-width="1.2"/>
<text transform="translate(262.25 946.3) rotate(-90)" font-size="12" text-anchor="middle" fill="#333333">ITS_1W</text>
<line x1="286.16" x2="286.16" y1="912" y2="915.8" stroke="#2E2E2E" stroke-width="1.2"/>
<text transform="translate(295.66 946.3) rotate(-90)" font-size="12" text-anchor="middle" fill="#333333">16S_10W</text>
<line x1="319.57" x2="319.57" y1="912" y2="915.8" stroke="#2E2E2E" stroke-width="1.2"/>
<text transform="translate(329.07 946.3) rotate(-90)" font-size="12" text-anchor="middle" fill="#333333">ITS_10W</text>
<line x1="352.98" x2="352.98" y1="912" y2="915.8" stroke="#2E2E2E" stroke-width="1.2"/>
<text transform="translate(362.48 946.3) rotate(-90)" font-size="12" text-anchor="middle" fill="#333333">16S_1W</text>
<line x1="386.39" x2="386.39" y1="912" y2="915.8" stroke="#2E2E2E" stroke-width="1.2"/>
<text transform="translate(395.89 946.3) rotate(-90)" font-size="12" text-anchor="middle" fill="#333333">ITS_1W</text>
<line x1="419.8" x2="419.8" y1="912" y2="915.8" stroke="#2E2E2E" stroke-width="1.2"/>
<text transform="translate(429.3 946.3) rotate(-90)" font-size="12" text-anchor="middle" fill="#333333">16S_10W</text>
<line x1="453.21" x2="453.21" y1="912" y2="915.8" stroke="#2E2E2E" stroke-width="1.2"/>
<text transform="translate(462.71 946.3) rotate(-90)" font-size="12" text-anchor="middle" fill="#333333">ITS_10W</text>
<line x1="486.62" x2="486.62" y1="912" y2="915.8" stroke="#2E2E2E" stroke-width="1.2"/>
<text transform="translate(496.12 946.3) rotate(-90)" font-size="12" text-anchor="middle" fill="#333333">16S_10W</text>
<line x1="520.03" x2="520.03" y1="912" y2="915.8" stroke="#2E2E2E" stroke-width="1.2"/>
<text transform="translate(529.53 946.3) rotate(-90)" font-size="12" text-anchor="middle" fill="#333333">ITS_10W</text>
<text x="0" y="13.7" font-size="19.3" text-anchor="start" fill="#000" stroke="#000" stroke-width="0.25" >A</text>
<text x="-0.3" y="340.9" font-size="19.3" text-anchor="start" fill="#000" stroke="#000" stroke-width="0.25" >B</text>
<text x="0" y="667.3" font-size="19.3" text-anchor="start" fill="#000" stroke="#000" stroke-width="0.25" >C</text>
<text x="302.85" y="21" font-size="17.85" text-anchor="middle" fill="#000" stroke="#000" stroke-width="0.25" >Bacterial colonizers</text>
<text x="302.85" y="347.8" font-size="17.85" text-anchor="middle" fill="#000" stroke="#000" stroke-width="0.25" >Fungal colonizers</text>
<text x="302.85" y="316.4" font-size="15.3" text-anchor="middle" fill="#000" stroke="#000" stroke-width="0.25" >NMDS1</text>
<text x="302.85" y="643.3" font-size="15.3" text-anchor="middle" fill="#000" stroke="#000" stroke-width="0.25" >NMDS1</text>
<text x="302.85" y="987.5" font-size="15.3" text-anchor="middle" fill="#000" stroke="#000" stroke-width="0.25" >Gene_Timepoint</text>
<text transform="translate(38.1 157.4) rotate(-90)" font-size="15.3" text-anchor="middle">NMDS2</text>
<text transform="translate(38.1 484.6) rotate(-90)" font-size="15.3" text-anchor="middle">NMDS2</text>
<text transform="translate(18.5 786.3) rotate(-90)" font-size="15.3" text-anchor="middle">Bray Dissimilarity</text>
<text transform="translate(34.5 786.3) rotate(-90)" font-size="15.3" text-anchor="middle">relative to bulk soil</text>
<text x="521" y="269.6" font-size="15.3" text-anchor="end" fill="#000" stroke="#000" stroke-width="0.25" >Stress = 0.12</text>
<text x="521" y="599.5" font-size="15.3" text-anchor="end" fill="#000" stroke="#000" stroke-width="0.25" >Stress = 0.22</text>
<text x="563.3" y="55" font-size="15.3" text-anchor="start" fill="#000" stroke="#000" stroke-width="0.25" >Location and</text>
<text x="563.3" y="71.3" font-size="15.3" text-anchor="start" fill="#000" stroke="#000" stroke-width="0.25" >Timepoint</text>
<path d="M570.68 93H578.32M574.5 89.18V96.82" stroke="#000" stroke-width="1.1" stroke-linecap="round" fill="none"/>
<text x="594.6" y="97.4" font-size="12.3" text-anchor="start" fill="#000" stroke="#000" stroke-width="0.25" >Bulk soil</text>
<circle cx="574.5" cy="116.9" r="3.2" fill="#000"/>
<text x="594.6" y="121.3" font-size="12.3" text-anchor="start" fill="#000" stroke="#000" stroke-width="0.25" >Farm 1 week</text>
<circle cx="574.5" cy="140.8" r="2.6" fill="none" stroke="#000" stroke-width="1"/>
<text x="594.6" y="145.2" font-size="12.3" text-anchor="start" fill="#000" stroke="#000" stroke-width="0.25" >Farm 10 weeks</text>
<polygon points="574.5,161.1 578.14,167.4 570.86,167.4" fill="#000"/>
<text x="594.6" y="169.1" font-size="12.3" text-anchor="start" fill="#000" stroke="#000" stroke-width="0.25" >Forest 1 week</text>
<polygon points="574.5,185 578.14,191.3 570.86,191.3" fill="none" stroke="#000" stroke-width="1.1" stroke-linejoin="round"/>
<text x="594.6" y="193" font-size="12.3" text-anchor="start" fill="#000" stroke="#000" stroke-width="0.25" >Forest 10 weeks</text>
<rect x="571.8" y="209.8" width="5.4" height="5.4" fill="#000"/>
<text x="594.6" y="216.9" font-size="12.3" text-anchor="start" fill="#000" stroke="#000" stroke-width="0.25" >Grass 1 week</text>
<rect x="571.8" y="233.7" width="5.4" height="5.4" fill="none" stroke="#000" stroke-width="1.1" stroke-linejoin="round"/>
<text x="594.6" y="240.8" font-size="12.3" text-anchor="start" fill="#000" stroke="#000" stroke-width="0.25" >Grass 10 weeks</text>
<path d="M570.68 260.3L574.5 256.48L578.32 260.3L574.5 264.12ZM570.68 260.3H578.32M574.5 256.48V264.12" stroke="#000" stroke-width="1.1" stroke-linecap="round" stroke-linejoin="round" fill="none"/>
<text x="594.6" y="264.7" font-size="12.3" text-anchor="start" fill="#000" stroke="#000" stroke-width="0.25" >CCC 10 weeks</text>
<text x="563.3" y="437.9" font-size="15.3" text-anchor="start" fill="#000" stroke="#000" stroke-width="0.25" >Location</text>
<rect x="563.3" y="447.7" width="23.2" height="23" fill="#EBEBEB"/>
<path d="M563.3 470.7H586.5V447.7H563.3Z" fill="none" stroke="#C77CFF" stroke-width="1.4" stroke-dasharray="6 6.3"/>
<circle cx="574.5" cy="459.2" r="3.25" fill="#B56CE2"/>
<text x="594.6" y="463.6" font-size="12.3" text-anchor="start" fill="#000" stroke="#000" stroke-width="0.25" >CCC</text>
<rect x="563.3" y="471.6" width="23.2" height="23" fill="#EBEBEB"/>
<path d="M563.3 494.6H586.5V471.6H563.3Z" fill="none" stroke="#F8766D" stroke-width="1.4" stroke-dasharray="6 6.3"/>
<circle cx="574.5" cy="483.1" r="3.25" fill="#E36C63"/>
<text x="594.6" y="487.5" font-size="12.3" text-anchor="start" fill="#000" stroke="#000" stroke-width="0.25" >Farm</text>
<rect x="563.3" y="495.5" width="23.2" height="23" fill="#EBEBEB"/>
<path d="M563.3 518.5H586.5V495.5H563.3Z" fill="none" stroke="#5B9DEA" stroke-width="1.4" stroke-dasharray="6 6.3"/>
<circle cx="574.5" cy="507" r="3.25" fill="#4F8FE0"/>
<text x="594.6" y="511.4" font-size="12.3" text-anchor="start" fill="#000" stroke="#000" stroke-width="0.25" >Forest</text>
<rect x="563.3" y="519.4" width="23.2" height="23" fill="#EBEBEB"/>
<path d="M563.3 542.4H586.5V519.4H563.3Z" fill="none" stroke="#00BA38" stroke-width="1.4" stroke-dasharray="6 6.3"/>
<circle cx="574.5" cy="530.9" r="3.25" fill="#0AA83A"/>
<text x="594.6" y="535.3" font-size="12.3" text-anchor="start" fill="#000" stroke="#000" stroke-width="0.25" >Grass</text>
<text x="563.3" y="690.2" font-size="15.3" text-anchor="start" fill="#000" stroke="#000" stroke-width="0.25" >Gene</text>
<line x1="574.5" x2="574.5" y1="701.9" y2="720.3" stroke="#000" stroke-width="1.9"/>
<circle cx="574.5" cy="711.4" r="5" fill="#000"/>
<text x="594.6" y="715.8" font-size="12.3" text-anchor="start" fill="#000" stroke="#000" stroke-width="0.25" >Bacteria</text>
<line x1="574.5" x2="574.5" y1="726.2" y2="744.6" stroke="#000" stroke-width="1.9"/>
<polygon points="574.5,730.75 579.48,739.38 569.52,739.38" fill="#000"/>
<text x="594.6" y="740.1" font-size="12.3" text-anchor="start" fill="#000" stroke="#000" stroke-width="0.25" >Fungi</text>
<text x="563.3" y="790.3" font-size="15.3" text-anchor="start" fill="#000" stroke="#000" stroke-width="0.25" >Location</text>
<line x1="574.5" x2="574.5" y1="801.9" y2="820.9" stroke="#C77CFF" stroke-width="1.9"/>
<circle cx="574.5" cy="811.4" r="5" fill="#C77CFF"/>
<text x="594.6" y="815.8" font-size="12.3" text-anchor="start" fill="#000" stroke="#000" stroke-width="0.25" >CCC</text>
<line x1="574.5" x2="574.5" y1="825.9" y2="844.9" stroke="#F8766D" stroke-width="1.9"/>
<circle cx="574.5" cy="835.4" r="5" fill="#F8766D"/>
<text x="594.6" y="839.8" font-size="12.3" text-anchor="start" fill="#000" stroke="#000" stroke-width="0.25" >Farm</text>
<line x1="574.5" x2="574.5" y1="849.9" y2="868.9" stroke="#5B9DEA" stroke-width="1.9"/>
<circle cx="574.5" cy="859.4" r="5" fill="#5B9DEA"/>
<text x="594.6" y="863.8" font-size="12.3" text-anchor="start" fill="#000" stroke="#000" stroke-width="0.25" >Forest</text>
<line x1="574.5" x2="574.5" y1="873.9" y2="892.9" stroke="#00BA38" stroke-width="1.9"/>
<circle cx="574.5" cy="883.4" r="5" fill="#00BA38"/>
<text x="594.6" y="887.8" font-size="12.3" text-anchor="start" fill="#000" stroke="#000" stroke-width="0.25" >Grass</text>
</svg></body></html>
